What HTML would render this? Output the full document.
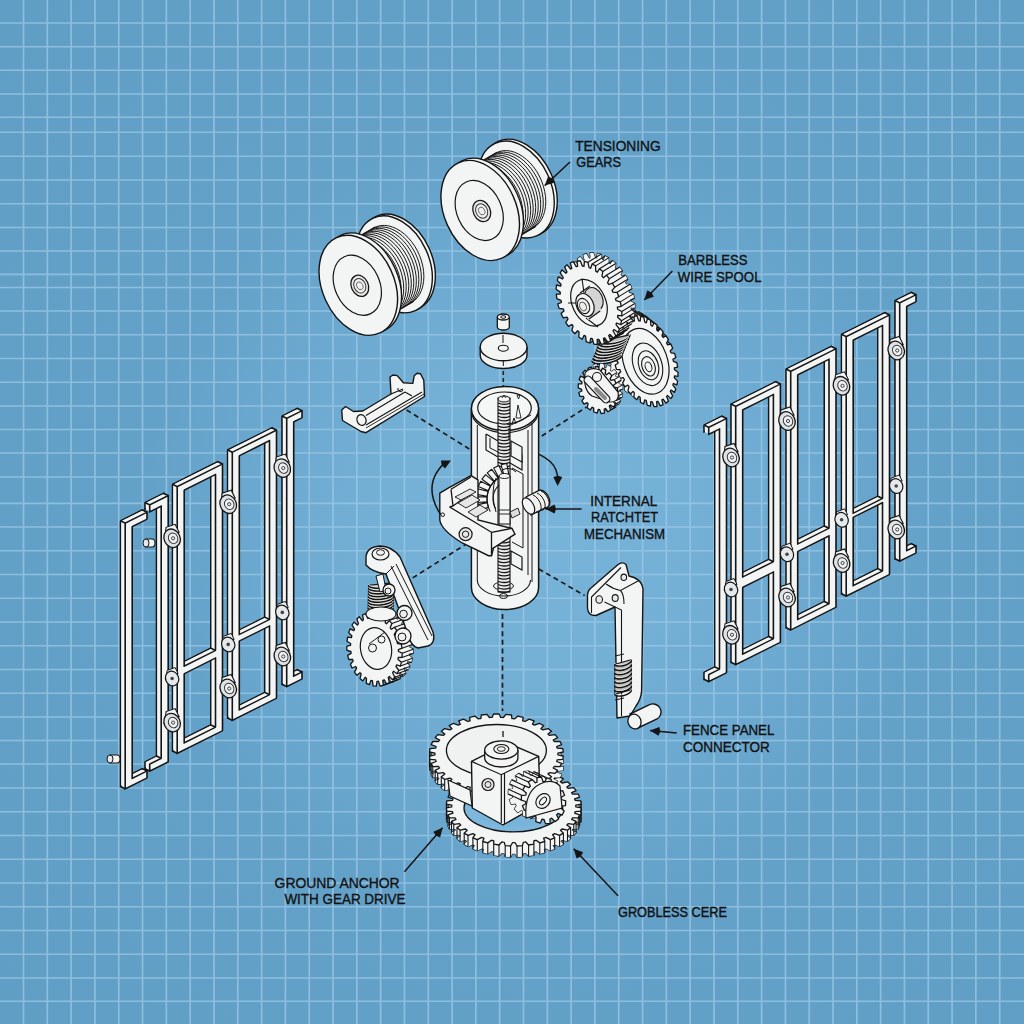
<!DOCTYPE html>
<html><head><meta charset="utf-8"><style>
html,body{margin:0;padding:0;width:1024px;height:1024px;overflow:hidden;}
body{background:#64a2cb;font-family:"Liberation Sans",sans-serif;}
svg{position:absolute;left:0;top:0;}
</style></head><body>
<svg width="1024" height="1024" viewBox="0 0 1024 1024">
<defs>
<radialGradient id="bg" cx="540" cy="520" r="720" gradientUnits="userSpaceOnUse">
<stop offset="0" stop-color="#78b4da"/>
<stop offset="0.21" stop-color="#74b0d6"/>
<stop offset="0.55" stop-color="#64a1c9"/>
<stop offset="1" stop-color="#609ec6"/>
</radialGradient>
</defs>
<rect width="1024" height="1024" fill="url(#bg)"/>
<path d="M23.52 0V1024M47.33 0V1024M71.14 0V1024M94.95 0V1024M118.76 0V1024M142.56 0V1024M166.37 0V1024M190.18 0V1024M213.99 0V1024M237.80 0V1024M261.61 0V1024M285.42 0V1024M309.23 0V1024M333.04 0V1024M356.85 0V1024M380.65 0V1024M404.46 0V1024M428.27 0V1024M452.08 0V1024M475.89 0V1024M499.70 0V1024M523.51 0V1024M547.32 0V1024M571.13 0V1024M594.94 0V1024M618.75 0V1024M642.55 0V1024M666.36 0V1024M690.17 0V1024M713.98 0V1024M737.79 0V1024M761.60 0V1024M785.41 0V1024M809.22 0V1024M833.03 0V1024M856.84 0V1024M880.64 0V1024M904.45 0V1024M928.26 0V1024M952.07 0V1024M975.88 0V1024M999.69 0V1024M0 23.00H1024M0 46.75H1024M0 70.25H1024M0 94.00H1024M0 117.25H1024M0 132.25H1024M0 156.25H1024M0 180.00H1024M0 203.75H1024M0 227.50H1024M0 251.00H1024M0 274.30H1024M0 287.50H1024M0 311.00H1024M0 334.75H1024M0 358.50H1024M0 382.25H1024M0 406.00H1024M0 429.50H1024M0 453.00H1024M0 477.00H1024M0 503.40H1024M0 527.00H1024M0 550.75H1024M0 574.50H1024M0 598.25H1024M0 622.00H1024M0 645.75H1024M0 669.50H1024M0 693.25H1024M0 717.00H1024M0 740.50H1024M0 764.00H1024M0 788.00H1024M0 811.75H1024M0 835.50H1024M0 859.25H1024M0 883.00H1024M0 906.75H1024M0 930.50H1024M0 954.25H1024M0 978.00H1024M0 1001.25H1024" stroke="#9cc8e6" stroke-opacity="0.75" stroke-width="1.7" fill="none"/>
<g transform="matrix(1 -0.5 0 1 0 0)">
<path d="M125.2 585.7H147.0V592.7H132.2V844.5H147.0V851.5H125.2Z" transform="translate(-4.7 -4.7)" fill="#f3f4f4" fill-rule="evenodd" stroke="#151515" stroke-width="1.6" stroke-linejoin="round"/>
<path d="M125.2 585.7H147.0V592.7H132.2V844.5H147.0V851.5H125.2Z" transform="translate(-0.94 -0.94)" fill="#f3f4f4" fill-rule="evenodd" stroke="none"/>
<path d="M125.2 585.7H147.0V592.7H132.2V844.5H147.0V851.5H125.2Z" transform="translate(-1.88 -1.88)" fill="#f3f4f4" fill-rule="evenodd" stroke="none"/>
<path d="M125.2 585.7H147.0V592.7H132.2V844.5H147.0V851.5H125.2Z" transform="translate(-2.82 -2.82)" fill="#f3f4f4" fill-rule="evenodd" stroke="none"/>
<path d="M125.2 585.7H147.0V592.7H132.2V844.5H147.0V851.5H125.2Z" transform="translate(-3.76 -3.76)" fill="#f3f4f4" fill-rule="evenodd" stroke="none"/>
<path d="M125.2 585.7l-4.7 -4.7M147.0 585.7l-4.7 -4.7M125.2 851.5l-4.7 -4.7M147.0 844.5l-4.7 -4.7" fill="none" stroke="#151515" stroke-width="1.28"/>
<path d="M125.2 585.7H147.0V592.7H132.2V844.5H147.0V851.5H125.2Z" fill="#f3f4f4" fill-rule="evenodd" stroke="#151515" stroke-width="1.6" stroke-linejoin="round"/>
<path d="M149.7 579.7H168.2V846.0H149.7V839.0H161.2V586.7H149.7Z" transform="translate(-4.7 -4.7)" fill="#f3f4f4" fill-rule="evenodd" stroke="#151515" stroke-width="1.6" stroke-linejoin="round"/>
<path d="M149.7 579.7H168.2V846.0H149.7V839.0H161.2V586.7H149.7Z" transform="translate(-0.94 -0.94)" fill="#f3f4f4" fill-rule="evenodd" stroke="none"/>
<path d="M149.7 579.7H168.2V846.0H149.7V839.0H161.2V586.7H149.7Z" transform="translate(-1.88 -1.88)" fill="#f3f4f4" fill-rule="evenodd" stroke="none"/>
<path d="M149.7 579.7H168.2V846.0H149.7V839.0H161.2V586.7H149.7Z" transform="translate(-2.82 -2.82)" fill="#f3f4f4" fill-rule="evenodd" stroke="none"/>
<path d="M149.7 579.7H168.2V846.0H149.7V839.0H161.2V586.7H149.7Z" transform="translate(-3.76 -3.76)" fill="#f3f4f4" fill-rule="evenodd" stroke="none"/>
<path d="M149.7 579.7l-4.7 -4.7M168.2 579.7l-4.7 -4.7M149.7 846.0l-4.7 -4.7M161.2 839.0l-4.7 -4.7" fill="none" stroke="#151515" stroke-width="1.28"/>
<path d="M149.7 579.7H168.2V846.0H149.7V839.0H161.2V586.7H149.7Z" fill="#f3f4f4" fill-rule="evenodd" stroke="#151515" stroke-width="1.6" stroke-linejoin="round"/>
<path d="M177.2 575.2H222.5V842.0H177.2ZM184.2 582.2H215.5V758.2H184.2ZM184.2 765.8H215.5V835.0H184.2Z" transform="translate(-4.7 -4.7)" fill="#f3f4f4" fill-rule="evenodd" stroke="#151515" stroke-width="1.6" stroke-linejoin="round"/>
<path d="M177.2 575.2H222.5V842.0H177.2ZM184.2 582.2H215.5V758.2H184.2ZM184.2 765.8H215.5V835.0H184.2Z" transform="translate(-0.94 -0.94)" fill="#f3f4f4" fill-rule="evenodd" stroke="none"/>
<path d="M177.2 575.2H222.5V842.0H177.2ZM184.2 582.2H215.5V758.2H184.2ZM184.2 765.8H215.5V835.0H184.2Z" transform="translate(-1.88 -1.88)" fill="#f3f4f4" fill-rule="evenodd" stroke="none"/>
<path d="M177.2 575.2H222.5V842.0H177.2ZM184.2 582.2H215.5V758.2H184.2ZM184.2 765.8H215.5V835.0H184.2Z" transform="translate(-2.82 -2.82)" fill="#f3f4f4" fill-rule="evenodd" stroke="none"/>
<path d="M177.2 575.2H222.5V842.0H177.2ZM184.2 582.2H215.5V758.2H184.2ZM184.2 765.8H215.5V835.0H184.2Z" transform="translate(-3.76 -3.76)" fill="#f3f4f4" fill-rule="evenodd" stroke="none"/>
<path d="M177.2 575.2l-4.7 -4.7M222.5 575.2l-4.7 -4.7M177.2 842.0l-4.7 -4.7M215.5 758.2l-4.7 -4.7M215.5 835.0l-4.7 -4.7M215.5 582.2l-4.7 -4.7M215.5 765.8l-4.7 -4.7" fill="none" stroke="#151515" stroke-width="1.28"/>
<path d="M177.2 575.2H222.5V842.0H177.2ZM184.2 582.2H215.5V758.2H184.2ZM184.2 765.8H215.5V835.0H184.2Z" fill="#f3f4f4" fill-rule="evenodd" stroke="#151515" stroke-width="1.6" stroke-linejoin="round"/>
<path d="M232.3 568.4H276.5V836.5H232.3ZM239.3 575.4H269.5V754.2H239.3ZM239.3 760.7H269.5V829.5H239.3Z" transform="translate(-4.7 -4.7)" fill="#f3f4f4" fill-rule="evenodd" stroke="#151515" stroke-width="1.6" stroke-linejoin="round"/>
<path d="M232.3 568.4H276.5V836.5H232.3ZM239.3 575.4H269.5V754.2H239.3ZM239.3 760.7H269.5V829.5H239.3Z" transform="translate(-0.94 -0.94)" fill="#f3f4f4" fill-rule="evenodd" stroke="none"/>
<path d="M232.3 568.4H276.5V836.5H232.3ZM239.3 575.4H269.5V754.2H239.3ZM239.3 760.7H269.5V829.5H239.3Z" transform="translate(-1.88 -1.88)" fill="#f3f4f4" fill-rule="evenodd" stroke="none"/>
<path d="M232.3 568.4H276.5V836.5H232.3ZM239.3 575.4H269.5V754.2H239.3ZM239.3 760.7H269.5V829.5H239.3Z" transform="translate(-2.82 -2.82)" fill="#f3f4f4" fill-rule="evenodd" stroke="none"/>
<path d="M232.3 568.4H276.5V836.5H232.3ZM239.3 575.4H269.5V754.2H239.3ZM239.3 760.7H269.5V829.5H239.3Z" transform="translate(-3.76 -3.76)" fill="#f3f4f4" fill-rule="evenodd" stroke="none"/>
<path d="M232.3 568.4l-4.7 -4.7M276.5 568.4l-4.7 -4.7M232.3 836.5l-4.7 -4.7M269.5 754.2l-4.7 -4.7M269.5 829.5l-4.7 -4.7M269.5 575.4l-4.7 -4.7M269.5 760.7l-4.7 -4.7" fill="none" stroke="#151515" stroke-width="1.28"/>
<path d="M232.3 568.4H276.5V836.5H232.3ZM239.3 575.4H269.5V754.2H239.3ZM239.3 760.7H269.5V829.5H239.3Z" fill="#f3f4f4" fill-rule="evenodd" stroke="#151515" stroke-width="1.6" stroke-linejoin="round"/>
<path d="M286.7 561.7H302.0V568.7H293.7V823.0H302.0V830.0H286.7Z" transform="translate(-4.7 -4.7)" fill="#f3f4f4" fill-rule="evenodd" stroke="#151515" stroke-width="1.6" stroke-linejoin="round"/>
<path d="M286.7 561.7H302.0V568.7H293.7V823.0H302.0V830.0H286.7Z" transform="translate(-0.94 -0.94)" fill="#f3f4f4" fill-rule="evenodd" stroke="none"/>
<path d="M286.7 561.7H302.0V568.7H293.7V823.0H302.0V830.0H286.7Z" transform="translate(-1.88 -1.88)" fill="#f3f4f4" fill-rule="evenodd" stroke="none"/>
<path d="M286.7 561.7H302.0V568.7H293.7V823.0H302.0V830.0H286.7Z" transform="translate(-2.82 -2.82)" fill="#f3f4f4" fill-rule="evenodd" stroke="none"/>
<path d="M286.7 561.7H302.0V568.7H293.7V823.0H302.0V830.0H286.7Z" transform="translate(-3.76 -3.76)" fill="#f3f4f4" fill-rule="evenodd" stroke="none"/>
<path d="M286.7 561.7l-4.7 -4.7M302.0 561.7l-4.7 -4.7M286.7 830.0l-4.7 -4.7M302.0 823.0l-4.7 -4.7" fill="none" stroke="#151515" stroke-width="1.28"/>
<path d="M286.7 561.7H302.0V568.7H293.7V823.0H302.0V830.0H286.7Z" fill="#f3f4f4" fill-rule="evenodd" stroke="#151515" stroke-width="1.6" stroke-linejoin="round"/>
</g>
<path d="M165.1 535.3 L166.1 527.3 L175.1 524.3 L179.1 532.3Z" fill="#f3f4f4" stroke="#151515" stroke-width="1.1"/>
<ellipse cx="172.1" cy="538.3" rx="8" ry="9.5" transform="rotate(-25 172.1 538.3)" fill="#dfe3e6" stroke="#151515" stroke-width="1.3"/>
<ellipse cx="173.1" cy="538.3" rx="4.6" ry="5.4" transform="rotate(-25 173.1 538.3)" fill="#eef0f2" stroke="#2a2a2a" stroke-width="0.9"/>
<circle cx="173.1" cy="538.3" r="1.6" fill="none" stroke="#333" stroke-width="0.9"/>
<path d="M221.2 501.2 L222.2 493.2 L231.2 490.2 L235.2 498.2Z" fill="#f3f4f4" stroke="#151515" stroke-width="1.1"/>
<ellipse cx="228.2" cy="504.2" rx="8" ry="9.5" transform="rotate(-25 228.2 504.2)" fill="#dfe3e6" stroke="#151515" stroke-width="1.3"/>
<ellipse cx="229.2" cy="504.2" rx="4.6" ry="5.4" transform="rotate(-25 229.2 504.2)" fill="#eef0f2" stroke="#2a2a2a" stroke-width="0.9"/>
<circle cx="229.2" cy="504.2" r="1.6" fill="none" stroke="#333" stroke-width="0.9"/>
<path d="M275.3 465.1 L276.3 457.1 L285.3 454.1 L289.3 462.1Z" fill="#f3f4f4" stroke="#151515" stroke-width="1.1"/>
<ellipse cx="282.3" cy="468.1" rx="8" ry="9.5" transform="rotate(-25 282.3 468.1)" fill="#dfe3e6" stroke="#151515" stroke-width="1.3"/>
<ellipse cx="283.3" cy="468.1" rx="4.6" ry="5.4" transform="rotate(-25 283.3 468.1)" fill="#eef0f2" stroke="#2a2a2a" stroke-width="0.9"/>
<circle cx="283.3" cy="468.1" r="1.6" fill="none" stroke="#333" stroke-width="0.9"/>
<path d="M166.1 676.5 L167.1 670.5 L175.1 667.5 L178.1 673.5Z" fill="#f3f4f4" stroke="#151515" stroke-width="1"/>
<ellipse cx="172.1" cy="678.5" rx="6.5" ry="7.5" transform="rotate(-25 172.1 678.5)" fill="#e6e9ec" stroke="#151515" stroke-width="1.2"/>
<circle cx="172.1" cy="678.5" r="1.8" fill="#444"/>
<path d="M222.2 642.4 L223.2 636.4 L231.2 633.4 L234.2 639.4Z" fill="#f3f4f4" stroke="#151515" stroke-width="1"/>
<ellipse cx="228.2" cy="644.4" rx="6.5" ry="7.5" transform="rotate(-25 228.2 644.4)" fill="#e6e9ec" stroke="#151515" stroke-width="1.2"/>
<circle cx="228.2" cy="644.4" r="1.8" fill="#444"/>
<path d="M276.3 610.4 L277.3 604.4 L285.3 601.4 L288.3 607.4Z" fill="#f3f4f4" stroke="#151515" stroke-width="1"/>
<ellipse cx="282.3" cy="612.4" rx="6.5" ry="7.5" transform="rotate(-25 282.3 612.4)" fill="#e6e9ec" stroke="#151515" stroke-width="1.2"/>
<circle cx="282.3" cy="612.4" r="1.8" fill="#444"/>
<path d="M165.1 719.6 L166.1 711.6 L175.1 708.6 L179.1 716.6Z" fill="#f3f4f4" stroke="#151515" stroke-width="1.1"/>
<ellipse cx="172.1" cy="722.6" rx="8" ry="9.5" transform="rotate(-25 172.1 722.6)" fill="#dfe3e6" stroke="#151515" stroke-width="1.3"/>
<ellipse cx="173.1" cy="722.6" rx="4.6" ry="5.4" transform="rotate(-25 173.1 722.6)" fill="#eef0f2" stroke="#2a2a2a" stroke-width="0.9"/>
<circle cx="173.1" cy="722.6" r="1.6" fill="none" stroke="#333" stroke-width="0.9"/>
<path d="M221.2 685.5 L222.2 677.5 L231.2 674.5 L235.2 682.5Z" fill="#f3f4f4" stroke="#151515" stroke-width="1.1"/>
<ellipse cx="228.2" cy="688.5" rx="8" ry="9.5" transform="rotate(-25 228.2 688.5)" fill="#dfe3e6" stroke="#151515" stroke-width="1.3"/>
<ellipse cx="229.2" cy="688.5" rx="4.6" ry="5.4" transform="rotate(-25 229.2 688.5)" fill="#eef0f2" stroke="#2a2a2a" stroke-width="0.9"/>
<circle cx="229.2" cy="688.5" r="1.6" fill="none" stroke="#333" stroke-width="0.9"/>
<path d="M275.3 653.5 L276.3 645.5 L285.3 642.5 L289.3 650.5Z" fill="#f3f4f4" stroke="#151515" stroke-width="1.1"/>
<ellipse cx="282.3" cy="656.5" rx="8" ry="9.5" transform="rotate(-25 282.3 656.5)" fill="#dfe3e6" stroke="#151515" stroke-width="1.3"/>
<ellipse cx="283.3" cy="656.5" rx="4.6" ry="5.4" transform="rotate(-25 283.3 656.5)" fill="#eef0f2" stroke="#2a2a2a" stroke-width="0.9"/>
<circle cx="283.3" cy="656.5" r="1.6" fill="none" stroke="#333" stroke-width="0.9"/>
<path d="M146 539 h6 a3 4 0 0 1 0 8 h-6 z" fill="#f3f4f4" stroke="#151515" stroke-width="1.1"/><ellipse cx="146" cy="543" rx="3" ry="4" fill="#e8e8e8" stroke="#151515" stroke-width="1"/>
<path d="M110 755 h7 a3 4 0 0 1 0 8 h-7 z" fill="#f3f4f4" stroke="#151515" stroke-width="1.1"/><ellipse cx="110" cy="759" rx="3" ry="4" fill="#e8e8e8" stroke="#151515" stroke-width="1"/>
<g transform="matrix(1 -0.5 0 1 0 0)">
<path d="M708.7 781.7H726.5V1036.0H708.7V1029.0H719.5V788.7H708.7Z" transform="translate(-4.7 -4.7)" fill="#f3f4f4" fill-rule="evenodd" stroke="#151515" stroke-width="1.6" stroke-linejoin="round"/>
<path d="M708.7 781.7H726.5V1036.0H708.7V1029.0H719.5V788.7H708.7Z" transform="translate(-0.94 -0.94)" fill="#f3f4f4" fill-rule="evenodd" stroke="none"/>
<path d="M708.7 781.7H726.5V1036.0H708.7V1029.0H719.5V788.7H708.7Z" transform="translate(-1.88 -1.88)" fill="#f3f4f4" fill-rule="evenodd" stroke="none"/>
<path d="M708.7 781.7H726.5V1036.0H708.7V1029.0H719.5V788.7H708.7Z" transform="translate(-2.82 -2.82)" fill="#f3f4f4" fill-rule="evenodd" stroke="none"/>
<path d="M708.7 781.7H726.5V1036.0H708.7V1029.0H719.5V788.7H708.7Z" transform="translate(-3.76 -3.76)" fill="#f3f4f4" fill-rule="evenodd" stroke="none"/>
<path d="M708.7 781.7l-4.7 -4.7M726.5 781.7l-4.7 -4.7M708.7 1036.0l-4.7 -4.7M719.5 1029.0l-4.7 -4.7" fill="none" stroke="#151515" stroke-width="1.28"/>
<path d="M708.7 781.7H726.5V1036.0H708.7V1029.0H719.5V788.7H708.7Z" fill="#f3f4f4" fill-rule="evenodd" stroke="#151515" stroke-width="1.6" stroke-linejoin="round"/>
<path d="M735.7 774.2H780.4V1032.5H735.7ZM742.7 781.2H773.4V948.4H742.7ZM742.7 958.7H773.4V1025.5H742.7Z" transform="translate(-4.7 -4.7)" fill="#f3f4f4" fill-rule="evenodd" stroke="#151515" stroke-width="1.6" stroke-linejoin="round"/>
<path d="M735.7 774.2H780.4V1032.5H735.7ZM742.7 781.2H773.4V948.4H742.7ZM742.7 958.7H773.4V1025.5H742.7Z" transform="translate(-0.94 -0.94)" fill="#f3f4f4" fill-rule="evenodd" stroke="none"/>
<path d="M735.7 774.2H780.4V1032.5H735.7ZM742.7 781.2H773.4V948.4H742.7ZM742.7 958.7H773.4V1025.5H742.7Z" transform="translate(-1.88 -1.88)" fill="#f3f4f4" fill-rule="evenodd" stroke="none"/>
<path d="M735.7 774.2H780.4V1032.5H735.7ZM742.7 781.2H773.4V948.4H742.7ZM742.7 958.7H773.4V1025.5H742.7Z" transform="translate(-2.82 -2.82)" fill="#f3f4f4" fill-rule="evenodd" stroke="none"/>
<path d="M735.7 774.2H780.4V1032.5H735.7ZM742.7 781.2H773.4V948.4H742.7ZM742.7 958.7H773.4V1025.5H742.7Z" transform="translate(-3.76 -3.76)" fill="#f3f4f4" fill-rule="evenodd" stroke="none"/>
<path d="M735.7 774.2l-4.7 -4.7M780.4 774.2l-4.7 -4.7M735.7 1032.5l-4.7 -4.7M773.4 948.4l-4.7 -4.7M773.4 1025.5l-4.7 -4.7M773.4 781.2l-4.7 -4.7M773.4 958.7l-4.7 -4.7" fill="none" stroke="#151515" stroke-width="1.28"/>
<path d="M735.7 774.2H780.4V1032.5H735.7ZM742.7 781.2H773.4V948.4H742.7ZM742.7 958.7H773.4V1025.5H742.7Z" fill="#f3f4f4" fill-rule="evenodd" stroke="#151515" stroke-width="1.6" stroke-linejoin="round"/>
<path d="M790.7 766.7H836.0V1025.3H790.7ZM797.7 773.7H829.0V942.8H797.7ZM797.7 950.4H829.0V1018.3H797.7Z" transform="translate(-4.7 -4.7)" fill="#f3f4f4" fill-rule="evenodd" stroke="#151515" stroke-width="1.6" stroke-linejoin="round"/>
<path d="M790.7 766.7H836.0V1025.3H790.7ZM797.7 773.7H829.0V942.8H797.7ZM797.7 950.4H829.0V1018.3H797.7Z" transform="translate(-0.94 -0.94)" fill="#f3f4f4" fill-rule="evenodd" stroke="none"/>
<path d="M790.7 766.7H836.0V1025.3H790.7ZM797.7 773.7H829.0V942.8H797.7ZM797.7 950.4H829.0V1018.3H797.7Z" transform="translate(-1.88 -1.88)" fill="#f3f4f4" fill-rule="evenodd" stroke="none"/>
<path d="M790.7 766.7H836.0V1025.3H790.7ZM797.7 773.7H829.0V942.8H797.7ZM797.7 950.4H829.0V1018.3H797.7Z" transform="translate(-2.82 -2.82)" fill="#f3f4f4" fill-rule="evenodd" stroke="none"/>
<path d="M790.7 766.7H836.0V1025.3H790.7ZM797.7 773.7H829.0V942.8H797.7ZM797.7 950.4H829.0V1018.3H797.7Z" transform="translate(-3.76 -3.76)" fill="#f3f4f4" fill-rule="evenodd" stroke="none"/>
<path d="M790.7 766.7l-4.7 -4.7M836.0 766.7l-4.7 -4.7M790.7 1025.3l-4.7 -4.7M829.0 942.8l-4.7 -4.7M829.0 1018.3l-4.7 -4.7M829.0 773.7l-4.7 -4.7M829.0 950.4l-4.7 -4.7" fill="none" stroke="#151515" stroke-width="1.28"/>
<path d="M790.7 766.7H836.0V1025.3H790.7ZM797.7 773.7H829.0V942.8H797.7ZM797.7 950.4H829.0V1018.3H797.7Z" fill="#f3f4f4" fill-rule="evenodd" stroke="#151515" stroke-width="1.6" stroke-linejoin="round"/>
<path d="M846.2 759.7H889.5V1019.2H846.2ZM853.2 766.7H882.5V939.8H853.2ZM853.2 943.9H882.5V1012.2H853.2Z" transform="translate(-4.7 -4.7)" fill="#f3f4f4" fill-rule="evenodd" stroke="#151515" stroke-width="1.6" stroke-linejoin="round"/>
<path d="M846.2 759.7H889.5V1019.2H846.2ZM853.2 766.7H882.5V939.8H853.2ZM853.2 943.9H882.5V1012.2H853.2Z" transform="translate(-0.94 -0.94)" fill="#f3f4f4" fill-rule="evenodd" stroke="none"/>
<path d="M846.2 759.7H889.5V1019.2H846.2ZM853.2 766.7H882.5V939.8H853.2ZM853.2 943.9H882.5V1012.2H853.2Z" transform="translate(-1.88 -1.88)" fill="#f3f4f4" fill-rule="evenodd" stroke="none"/>
<path d="M846.2 759.7H889.5V1019.2H846.2ZM853.2 766.7H882.5V939.8H853.2ZM853.2 943.9H882.5V1012.2H853.2Z" transform="translate(-2.82 -2.82)" fill="#f3f4f4" fill-rule="evenodd" stroke="none"/>
<path d="M846.2 759.7H889.5V1019.2H846.2ZM853.2 766.7H882.5V939.8H853.2ZM853.2 943.9H882.5V1012.2H853.2Z" transform="translate(-3.76 -3.76)" fill="#f3f4f4" fill-rule="evenodd" stroke="none"/>
<path d="M846.2 759.7l-4.7 -4.7M889.5 759.7l-4.7 -4.7M846.2 1019.2l-4.7 -4.7M882.5 939.8l-4.7 -4.7M882.5 1012.2l-4.7 -4.7M882.5 766.7l-4.7 -4.7M882.5 943.9l-4.7 -4.7" fill="none" stroke="#151515" stroke-width="1.28"/>
<path d="M846.2 759.7H889.5V1019.2H846.2ZM853.2 766.7H882.5V939.8H853.2ZM853.2 943.9H882.5V1012.2H853.2Z" fill="#f3f4f4" fill-rule="evenodd" stroke="#151515" stroke-width="1.6" stroke-linejoin="round"/>
<path d="M899.7 752.7H916.0V759.7H906.7V1004.0H916.0V1011.0H899.7Z" transform="translate(-4.7 -4.7)" fill="#f3f4f4" fill-rule="evenodd" stroke="#151515" stroke-width="1.6" stroke-linejoin="round"/>
<path d="M899.7 752.7H916.0V759.7H906.7V1004.0H916.0V1011.0H899.7Z" transform="translate(-0.94 -0.94)" fill="#f3f4f4" fill-rule="evenodd" stroke="none"/>
<path d="M899.7 752.7H916.0V759.7H906.7V1004.0H916.0V1011.0H899.7Z" transform="translate(-1.88 -1.88)" fill="#f3f4f4" fill-rule="evenodd" stroke="none"/>
<path d="M899.7 752.7H916.0V759.7H906.7V1004.0H916.0V1011.0H899.7Z" transform="translate(-2.82 -2.82)" fill="#f3f4f4" fill-rule="evenodd" stroke="none"/>
<path d="M899.7 752.7H916.0V759.7H906.7V1004.0H916.0V1011.0H899.7Z" transform="translate(-3.76 -3.76)" fill="#f3f4f4" fill-rule="evenodd" stroke="none"/>
<path d="M899.7 752.7l-4.7 -4.7M916.0 752.7l-4.7 -4.7M899.7 1011.0l-4.7 -4.7M916.0 1004.0l-4.7 -4.7" fill="none" stroke="#151515" stroke-width="1.28"/>
<path d="M899.7 752.7H916.0V759.7H906.7V1004.0H916.0V1011.0H899.7Z" fill="#f3f4f4" fill-rule="evenodd" stroke="#151515" stroke-width="1.6" stroke-linejoin="round"/>
</g>
<path d="M724.0 454.5 L725.0 446.5 L734.0 443.5 L738.0 451.5Z" fill="#f3f4f4" stroke="#151515" stroke-width="1.1"/>
<ellipse cx="731.0" cy="457.5" rx="8" ry="9.5" transform="rotate(-25 731.0 457.5)" fill="#dfe3e6" stroke="#151515" stroke-width="1.3"/>
<ellipse cx="732.0" cy="457.5" rx="4.6" ry="5.4" transform="rotate(-25 732.0 457.5)" fill="#eef0f2" stroke="#2a2a2a" stroke-width="0.9"/>
<circle cx="732.0" cy="457.5" r="1.6" fill="none" stroke="#333" stroke-width="0.9"/>
<path d="M780.0 418.0 L781.0 410.0 L790.0 407.0 L794.0 415.0Z" fill="#f3f4f4" stroke="#151515" stroke-width="1.1"/>
<ellipse cx="787.0" cy="421.0" rx="8" ry="9.5" transform="rotate(-25 787.0 421.0)" fill="#dfe3e6" stroke="#151515" stroke-width="1.3"/>
<ellipse cx="788.0" cy="421.0" rx="4.6" ry="5.4" transform="rotate(-25 788.0 421.0)" fill="#eef0f2" stroke="#2a2a2a" stroke-width="0.9"/>
<circle cx="788.0" cy="421.0" r="1.6" fill="none" stroke="#333" stroke-width="0.9"/>
<path d="M834.5 382.8 L835.5 374.8 L844.5 371.8 L848.5 379.8Z" fill="#f3f4f4" stroke="#151515" stroke-width="1.1"/>
<ellipse cx="841.5" cy="385.8" rx="8" ry="9.5" transform="rotate(-25 841.5 385.8)" fill="#dfe3e6" stroke="#151515" stroke-width="1.3"/>
<ellipse cx="842.5" cy="385.8" rx="4.6" ry="5.4" transform="rotate(-25 842.5 385.8)" fill="#eef0f2" stroke="#2a2a2a" stroke-width="0.9"/>
<circle cx="842.5" cy="385.8" r="1.6" fill="none" stroke="#333" stroke-width="0.9"/>
<path d="M889.2 347.5 L890.2 339.5 L899.2 336.5 L903.2 344.5Z" fill="#f3f4f4" stroke="#151515" stroke-width="1.1"/>
<ellipse cx="896.2" cy="350.5" rx="8" ry="9.5" transform="rotate(-25 896.2 350.5)" fill="#dfe3e6" stroke="#151515" stroke-width="1.3"/>
<ellipse cx="897.2" cy="350.5" rx="4.6" ry="5.4" transform="rotate(-25 897.2 350.5)" fill="#eef0f2" stroke="#2a2a2a" stroke-width="0.9"/>
<circle cx="897.2" cy="350.5" r="1.6" fill="none" stroke="#333" stroke-width="0.9"/>
<path d="M725.0 587.5 L726.0 581.5 L734.0 578.5 L737.0 584.5Z" fill="#f3f4f4" stroke="#151515" stroke-width="1"/>
<ellipse cx="731.0" cy="589.5" rx="6.5" ry="7.5" transform="rotate(-25 731.0 589.5)" fill="#e6e9ec" stroke="#151515" stroke-width="1.2"/>
<circle cx="731.0" cy="589.5" r="1.8" fill="#444"/>
<path d="M781.0 552.2 L782.0 546.2 L790.0 543.2 L793.0 549.2Z" fill="#f3f4f4" stroke="#151515" stroke-width="1"/>
<ellipse cx="787.0" cy="554.2" rx="6.5" ry="7.5" transform="rotate(-25 787.0 554.2)" fill="#e6e9ec" stroke="#151515" stroke-width="1.2"/>
<circle cx="787.0" cy="554.2" r="1.8" fill="#444"/>
<path d="M835.6 517.8 L836.6 511.8 L844.6 508.8 L847.6 514.8Z" fill="#f3f4f4" stroke="#151515" stroke-width="1"/>
<ellipse cx="841.6" cy="519.8" rx="6.5" ry="7.5" transform="rotate(-25 841.6 519.8)" fill="#e6e9ec" stroke="#151515" stroke-width="1.2"/>
<circle cx="841.6" cy="519.8" r="1.8" fill="#444"/>
<path d="M890.2 484.0 L891.2 478.0 L899.2 475.0 L902.2 481.0Z" fill="#f3f4f4" stroke="#151515" stroke-width="1"/>
<ellipse cx="896.2" cy="486.0" rx="6.5" ry="7.5" transform="rotate(-25 896.2 486.0)" fill="#e6e9ec" stroke="#151515" stroke-width="1.2"/>
<circle cx="896.2" cy="486.0" r="1.8" fill="#444"/>
<path d="M724.0 631.8 L725.0 623.8 L734.0 620.8 L738.0 628.8Z" fill="#f3f4f4" stroke="#151515" stroke-width="1.1"/>
<ellipse cx="731.0" cy="634.8" rx="8" ry="9.5" transform="rotate(-25 731.0 634.8)" fill="#dfe3e6" stroke="#151515" stroke-width="1.3"/>
<ellipse cx="732.0" cy="634.8" rx="4.6" ry="5.4" transform="rotate(-25 732.0 634.8)" fill="#eef0f2" stroke="#2a2a2a" stroke-width="0.9"/>
<circle cx="732.0" cy="634.8" r="1.6" fill="none" stroke="#333" stroke-width="0.9"/>
<path d="M780.0 594.5 L781.0 586.5 L790.0 583.5 L794.0 591.5Z" fill="#f3f4f4" stroke="#151515" stroke-width="1.1"/>
<ellipse cx="787.0" cy="597.5" rx="8" ry="9.5" transform="rotate(-25 787.0 597.5)" fill="#dfe3e6" stroke="#151515" stroke-width="1.3"/>
<ellipse cx="788.0" cy="597.5" rx="4.6" ry="5.4" transform="rotate(-25 788.0 597.5)" fill="#eef0f2" stroke="#2a2a2a" stroke-width="0.9"/>
<circle cx="788.0" cy="597.5" r="1.6" fill="none" stroke="#333" stroke-width="0.9"/>
<path d="M834.6 560.0 L835.6 552.0 L844.6 549.0 L848.6 557.0Z" fill="#f3f4f4" stroke="#151515" stroke-width="1.1"/>
<ellipse cx="841.6" cy="563.0" rx="8" ry="9.5" transform="rotate(-25 841.6 563.0)" fill="#dfe3e6" stroke="#151515" stroke-width="1.3"/>
<ellipse cx="842.6" cy="563.0" rx="4.6" ry="5.4" transform="rotate(-25 842.6 563.0)" fill="#eef0f2" stroke="#2a2a2a" stroke-width="0.9"/>
<circle cx="842.6" cy="563.0" r="1.6" fill="none" stroke="#333" stroke-width="0.9"/>
<path d="M889.2 526.5 L890.2 518.5 L899.2 515.5 L903.2 523.5Z" fill="#f3f4f4" stroke="#151515" stroke-width="1.1"/>
<ellipse cx="896.2" cy="529.5" rx="8" ry="9.5" transform="rotate(-25 896.2 529.5)" fill="#dfe3e6" stroke="#151515" stroke-width="1.3"/>
<ellipse cx="897.2" cy="529.5" rx="4.6" ry="5.4" transform="rotate(-25 897.2 529.5)" fill="#eef0f2" stroke="#2a2a2a" stroke-width="0.9"/>
<circle cx="897.2" cy="529.5" r="1.6" fill="none" stroke="#333" stroke-width="0.9"/>
<path d="M406.6 410 L470.6 449.8M541.8 436 L586.6 407M412.7 577.9 L465.4 544.6M538.7 569 L584.6 595.4M502.5 614 L502.5 711" stroke="#1a1a1a" stroke-width="1.7" stroke-dasharray="5 3.6" fill="none"/>
<ellipse cx="397.3" cy="262.5" rx="50.8" ry="34.8" transform="rotate(65.5 397.3 262.5)" stroke="#151515" stroke-width="1.4" fill="#f3f4f4"/>
<ellipse cx="394.3" cy="264.3" rx="50.8" ry="34.8" transform="rotate(65.5 394.3 264.3)" stroke="#151515" stroke-width="1.4" fill="#f3f4f4"/>
<path d="M377.4 322.5 L413.4 301.5 L375.2 227.1 L339.2 248.1Z" fill="#f0f1f1" stroke="none"/>
<ellipse cx="394.3" cy="264.3" rx="41.9" ry="28.7" transform="rotate(65.5 394.3 264.3)" fill="#f0f1f1" stroke="none"/>
<path d="M377.4 322.5 L413.4 301.5 M339.2 248.1 L375.2 227.1" stroke="#151515" stroke-width="1.3" fill="none"/>
<path d="M373.8 324.6 L376.9 322.4 L379.6 319.6 L381.9 316.2 L383.7 312.4 L385.0 308.1 L385.8 303.5 L386.1 298.6 L385.8 293.5 L385.0 288.2 L383.7 283.0 L381.9 277.9 L379.6 272.9 L376.9 268.2 L373.8 263.7 L370.4 259.7 L366.7 256.2 L362.8 253.2 L358.8 250.8 L354.7 249.0 L350.6 247.9 L346.5 247.4 L342.6 247.7 L339.0 248.6 L335.6 250.2M376.4 323.2 L379.4 321.0 L382.1 318.1 L384.4 314.8 L386.2 310.9 L387.5 306.6 L388.3 302.0 L388.6 297.1 L388.3 292.0 L387.5 286.8 L386.2 281.6 L384.4 276.4 L382.1 271.4 L379.4 266.7 L376.3 262.3 L372.9 258.3 L369.2 254.7 L365.3 251.8 L361.3 249.3 L357.2 247.6 L353.1 246.4 L349.1 246.0 L345.2 246.2 L341.5 247.1 L338.1 248.7M378.9 321.7 L382.0 319.5 L384.7 316.7 L386.9 313.3 L388.8 309.5 L390.1 305.2 L390.9 300.5 L391.1 295.6 L390.9 290.5 L390.0 285.3 L388.7 280.1 L386.9 274.9 L384.6 270.0 L381.9 265.2 L378.8 260.8 L375.4 256.8 L371.7 253.3 L367.8 250.3 L363.8 247.9 L359.7 246.1 L355.6 245.0 L351.6 244.5 L347.7 244.7 L344.0 245.7 L340.6 247.2M381.4 320.2 L384.5 318.0 L387.2 315.2 L389.5 311.8 L391.3 308.0 L392.6 303.7 L393.4 299.1 L393.6 294.1 L393.4 289.0 L392.6 283.8 L391.2 278.6 L389.4 273.5 L387.1 268.5 L384.4 263.7 L381.3 259.3 L377.9 255.3 L374.2 251.8 L370.3 248.8 L366.3 246.4 L362.2 244.6 L358.1 243.5 L354.1 243.0 L350.2 243.3 L346.5 244.2 L343.1 245.8M383.9 318.8 L387.0 316.5 L389.7 313.7 L392.0 310.4 L393.8 306.5 L395.1 302.2 L395.9 297.6 L396.2 292.7 L395.9 287.6 L395.1 282.4 L393.8 277.1 L391.9 272.0 L389.7 267.0 L386.9 262.3 L383.9 257.9 L380.4 253.9 L376.8 250.3 L372.9 247.3 L368.8 244.9 L364.7 243.1 L360.6 242.0 L356.6 241.6 L352.7 241.8 L349.0 242.7 L345.6 244.3M386.4 317.3 L389.5 315.1 L392.2 312.3 L394.5 308.9 L396.3 305.0 L397.6 300.8 L398.4 296.1 L398.7 291.2 L398.4 286.1 L397.6 280.9 L396.3 275.7 L394.5 270.5 L392.2 265.5 L389.5 260.8 L386.4 256.4 L383.0 252.4 L379.3 248.9 L375.4 245.9 L371.4 243.5 L367.3 241.7 L363.2 240.5 L359.1 240.1 L355.2 240.3 L351.6 241.2 L348.2 242.8M389.0 315.8 L392.0 313.6 L394.7 310.8 L397.0 307.4 L398.8 303.6 L400.1 299.3 L400.9 294.6 L401.2 289.7 L400.9 284.6 L400.1 279.4 L398.8 274.2 L397.0 269.1 L394.7 264.1 L392.0 259.3 L388.9 254.9 L385.5 250.9 L381.8 247.4 L377.9 244.4 L373.9 242.0 L369.8 240.2 L365.7 239.1 L361.7 238.6 L357.8 238.9 L354.1 239.8 L350.7 241.3M391.5 314.3 L394.6 312.1 L397.3 309.3 L399.5 306.0 L401.4 302.1 L402.7 297.8 L403.5 293.2 L403.7 288.3 L403.5 283.2 L402.6 278.0 L401.3 272.7 L399.5 267.6 L397.2 262.6 L394.5 257.9 L391.4 253.5 L388.0 249.5 L384.3 245.9 L380.4 242.9 L376.4 240.5 L372.3 238.7 L368.2 237.6 L364.2 237.2 L360.3 237.4 L356.6 238.3 L353.2 239.9M394.0 312.9 L397.1 310.7 L399.8 307.9 L402.1 304.5 L403.9 300.6 L405.2 296.3 L406.0 291.7 L406.2 286.8 L406.0 281.7 L405.2 276.5 L403.8 271.3 L402.0 266.1 L399.7 261.1 L397.0 256.4 L393.9 252.0 L390.5 248.0 L386.8 244.5 L382.9 241.5 L378.9 239.1 L374.8 237.3 L370.7 236.1 L366.7 235.7 L362.8 235.9 L359.1 236.8 L355.7 238.4M396.5 311.4 L399.6 309.2 L402.3 306.4 L404.6 303.0 L406.4 299.2 L407.7 294.9 L408.5 290.2 L408.8 285.3 L408.5 280.2 L407.7 275.0 L406.4 269.8 L404.5 264.6 L402.3 259.7 L399.5 254.9 L396.5 250.5 L393.0 246.5 L389.4 243.0 L385.5 240.0 L381.4 237.6 L377.3 235.8 L373.2 234.7 L369.2 234.2 L365.3 234.4 L361.6 235.4 L358.2 236.9M399.0 309.9 L402.1 307.7 L404.8 304.9 L407.1 301.5 L408.9 297.7 L410.2 293.4 L411.0 288.8 L411.3 283.9 L411.0 278.8 L410.2 273.5 L408.9 268.3 L407.1 263.2 L404.8 258.2 L402.1 253.5 L399.0 249.0 L395.6 245.0 L391.9 241.5 L388.0 238.5 L384.0 236.1 L379.9 234.3 L375.8 233.2 L371.7 232.7 L367.8 233.0 L364.2 233.9 L360.8 235.5M401.6 308.5 L404.6 306.3 L407.3 303.4 L409.6 300.1 L411.4 296.2 L412.7 291.9 L413.5 287.3 L413.8 282.4 L413.5 277.3 L412.7 272.1 L411.4 266.9 L409.6 261.7 L407.3 256.7 L404.6 252.0 L401.5 247.6 L398.1 243.6 L394.4 240.0 L390.5 237.1 L386.5 234.6 L382.4 232.9 L378.3 231.7 L374.3 231.3 L370.4 231.5 L366.7 232.4 L363.3 234.0M404.1 307.0 L407.2 304.8 L409.9 302.0 L412.1 298.6 L414.0 294.8 L415.3 290.5 L416.1 285.8 L416.3 280.9 L416.1 275.8 L415.2 270.6 L413.9 265.4 L412.1 260.2 L409.8 255.3 L407.1 250.5 L404.0 246.1 L400.6 242.1 L396.9 238.6 L393.0 235.6 L389.0 233.2 L384.9 231.4 L380.8 230.3 L376.8 229.8 L372.9 230.0 L369.2 231.0 L365.8 232.5M406.6 305.5 L409.7 303.3 L412.4 300.5 L414.7 297.1 L416.5 293.3 L417.8 289.0 L418.6 284.4 L418.8 279.4 L418.6 274.3 L417.8 269.1 L416.4 263.9 L414.6 258.8 L412.3 253.8 L409.6 249.0 L406.5 244.6 L403.1 240.6 L399.4 237.1 L395.5 234.1 L391.5 231.7 L387.4 229.9 L383.3 228.8 L379.3 228.3 L375.4 228.6 L371.7 229.5 L368.3 231.1M409.1 304.1 L412.2 301.8 L414.9 299.0 L417.2 295.7 L419.0 291.8 L420.3 287.5 L421.1 282.9 L421.4 278.0 L421.1 272.9 L420.3 267.7 L419.0 262.4 L417.1 257.3 L414.9 252.3 L412.1 247.6 L409.1 243.2 L405.6 239.2 L402.0 235.6 L398.1 232.6 L394.0 230.2 L389.9 228.4 L385.8 227.3 L381.8 226.9 L377.9 227.1 L374.2 228.0 L370.8 229.6M411.6 302.6 L414.7 300.4 L417.4 297.6 L419.7 294.2 L421.5 290.3 L422.8 286.1 L423.6 281.4 L423.9 276.5 L423.6 271.4 L422.8 266.2 L421.5 261.0 L419.7 255.8 L417.4 250.8 L414.7 246.1 L411.6 241.7 L408.2 237.7 L404.5 234.2 L400.6 231.2 L396.6 228.8 L392.5 227.0 L388.4 225.8 L384.3 225.4 L380.4 225.6 L376.8 226.5 L373.4 228.1" stroke="#1a1a1a" stroke-width="1.0" fill="none"/>
<ellipse cx="362.3" cy="283.0" rx="52.4" ry="35.9" transform="rotate(65.5 362.3 283.0)" stroke="#151515" stroke-width="1.4" fill="#f3f4f4"/>
<ellipse cx="358.3" cy="285.3" rx="52.4" ry="35.9" transform="rotate(65.5 358.3 285.3)" stroke="#151515" stroke-width="1.4" fill="#f3f4f4"/>
<ellipse cx="357.3" cy="285.3" rx="31.4" ry="22.3" transform="rotate(65.5 357.3 285.3)" fill="none" stroke="#151515" stroke-width="1.2"/>
<ellipse cx="359.8" cy="285.8" rx="11" ry="8.5" transform="rotate(65.5 359.8 285.8)" fill="#e8e8e6" stroke="#151515" stroke-width="1.3"/>
<ellipse cx="359.8" cy="285.8" rx="7.5" ry="5.8" transform="rotate(65.5 359.8 285.8)" fill="#f0f0ee" stroke="#333" stroke-width="1"/>
<ellipse cx="359.8" cy="285.8" rx="4" ry="3" transform="rotate(65.5 359.8 285.8)" fill="#f0f1f1" stroke="#555" stroke-width="0.8"/>
<ellipse cx="519.2" cy="187.7" rx="50.8" ry="34.8" transform="rotate(65.5 519.2 187.7)" stroke="#151515" stroke-width="1.4" fill="#f3f4f4"/>
<ellipse cx="516.2" cy="189.5" rx="50.8" ry="34.8" transform="rotate(65.5 516.2 189.5)" stroke="#151515" stroke-width="1.4" fill="#f3f4f4"/>
<path d="M499.3 247.7 L535.3 226.7 L497.1 152.3 L461.1 173.3Z" fill="#f0f1f1" stroke="none"/>
<ellipse cx="516.2" cy="189.5" rx="41.9" ry="28.7" transform="rotate(65.5 516.2 189.5)" fill="#f0f1f1" stroke="none"/>
<path d="M499.3 247.7 L535.3 226.7 M461.1 173.3 L497.1 152.3" stroke="#151515" stroke-width="1.3" fill="none"/>
<path d="M495.7 249.8 L498.8 247.6 L501.5 244.8 L503.8 241.4 L505.6 237.6 L506.9 233.3 L507.7 228.7 L508.0 223.8 L507.7 218.7 L506.9 213.4 L505.6 208.2 L503.8 203.1 L501.5 198.1 L498.8 193.4 L495.7 188.9 L492.3 184.9 L488.6 181.4 L484.7 178.4 L480.7 176.0 L476.6 174.2 L472.5 173.1 L468.4 172.6 L464.5 172.9 L460.9 173.8 L457.5 175.4M498.3 248.4 L501.3 246.2 L504.0 243.3 L506.3 240.0 L508.1 236.1 L509.4 231.8 L510.2 227.2 L510.5 222.3 L510.2 217.2 L509.4 212.0 L508.1 206.8 L506.3 201.6 L504.0 196.6 L501.3 191.9 L498.2 187.5 L494.8 183.5 L491.1 179.9 L487.2 177.0 L483.2 174.5 L479.1 172.8 L475.0 171.6 L471.0 171.2 L467.1 171.4 L463.4 172.3 L460.0 173.9M500.8 246.9 L503.9 244.7 L506.6 241.9 L508.8 238.5 L510.7 234.7 L512.0 230.4 L512.8 225.7 L513.0 220.8 L512.8 215.7 L511.9 210.5 L510.6 205.3 L508.8 200.1 L506.5 195.2 L503.8 190.4 L500.7 186.0 L497.3 182.0 L493.6 178.5 L489.7 175.5 L485.7 173.1 L481.6 171.3 L477.5 170.2 L473.5 169.7 L469.6 169.9 L465.9 170.9 L462.5 172.4M503.3 245.4 L506.4 243.2 L509.1 240.4 L511.4 237.0 L513.2 233.2 L514.5 228.9 L515.3 224.3 L515.5 219.3 L515.3 214.2 L514.5 209.0 L513.1 203.8 L511.3 198.7 L509.0 193.7 L506.3 188.9 L503.2 184.5 L499.8 180.5 L496.1 177.0 L492.2 174.0 L488.2 171.6 L484.1 169.8 L480.0 168.7 L476.0 168.2 L472.1 168.5 L468.4 169.4 L465.0 171.0M505.8 244.0 L508.9 241.7 L511.6 238.9 L513.9 235.6 L515.7 231.7 L517.0 227.4 L517.8 222.8 L518.1 217.9 L517.8 212.8 L517.0 207.6 L515.7 202.3 L513.8 197.2 L511.6 192.2 L508.8 187.5 L505.8 183.1 L502.3 179.1 L498.7 175.5 L494.8 172.5 L490.7 170.1 L486.6 168.3 L482.5 167.2 L478.5 166.8 L474.6 167.0 L470.9 167.9 L467.5 169.5M508.3 242.5 L511.4 240.3 L514.1 237.5 L516.4 234.1 L518.2 230.2 L519.5 226.0 L520.3 221.3 L520.6 216.4 L520.3 211.3 L519.5 206.1 L518.2 200.9 L516.4 195.7 L514.1 190.7 L511.4 186.0 L508.3 181.6 L504.9 177.6 L501.2 174.1 L497.3 171.1 L493.3 168.7 L489.2 166.9 L485.1 165.7 L481.0 165.3 L477.1 165.5 L473.5 166.4 L470.1 168.0M510.9 241.0 L513.9 238.8 L516.6 236.0 L518.9 232.6 L520.7 228.8 L522.0 224.5 L522.8 219.8 L523.1 214.9 L522.8 209.8 L522.0 204.6 L520.7 199.4 L518.9 194.3 L516.6 189.3 L513.9 184.5 L510.8 180.1 L507.4 176.1 L503.7 172.6 L499.8 169.6 L495.8 167.2 L491.7 165.4 L487.6 164.3 L483.6 163.8 L479.7 164.1 L476.0 165.0 L472.6 166.5M513.4 239.5 L516.5 237.3 L519.2 234.5 L521.4 231.2 L523.3 227.3 L524.6 223.0 L525.4 218.4 L525.6 213.5 L525.4 208.4 L524.5 203.2 L523.2 197.9 L521.4 192.8 L519.1 187.8 L516.4 183.1 L513.3 178.7 L509.9 174.7 L506.2 171.1 L502.3 168.1 L498.3 165.7 L494.2 163.9 L490.1 162.8 L486.1 162.4 L482.2 162.6 L478.5 163.5 L475.1 165.1M515.9 238.1 L519.0 235.9 L521.7 233.1 L524.0 229.7 L525.8 225.8 L527.1 221.5 L527.9 216.9 L528.1 212.0 L527.9 206.9 L527.1 201.7 L525.7 196.5 L523.9 191.3 L521.6 186.3 L518.9 181.6 L515.8 177.2 L512.4 173.2 L508.7 169.7 L504.8 166.7 L500.8 164.3 L496.7 162.5 L492.6 161.3 L488.6 160.9 L484.7 161.1 L481.0 162.0 L477.6 163.6M518.4 236.6 L521.5 234.4 L524.2 231.6 L526.5 228.2 L528.3 224.4 L529.6 220.1 L530.4 215.4 L530.7 210.5 L530.4 205.4 L529.6 200.2 L528.3 195.0 L526.4 189.8 L524.2 184.9 L521.4 180.1 L518.4 175.7 L514.9 171.7 L511.3 168.2 L507.4 165.2 L503.3 162.8 L499.2 161.0 L495.1 159.9 L491.1 159.4 L487.2 159.6 L483.5 160.6 L480.1 162.1M520.9 235.1 L524.0 232.9 L526.7 230.1 L529.0 226.7 L530.8 222.9 L532.1 218.6 L532.9 214.0 L533.2 209.1 L532.9 204.0 L532.1 198.7 L530.8 193.5 L529.0 188.4 L526.7 183.4 L524.0 178.7 L520.9 174.2 L517.5 170.2 L513.8 166.7 L509.9 163.7 L505.9 161.3 L501.8 159.5 L497.7 158.4 L493.6 157.9 L489.7 158.2 L486.1 159.1 L482.7 160.7M523.5 233.7 L526.5 231.5 L529.2 228.6 L531.5 225.3 L533.3 221.4 L534.6 217.1 L535.4 212.5 L535.7 207.6 L535.4 202.5 L534.6 197.3 L533.3 192.1 L531.5 186.9 L529.2 181.9 L526.5 177.2 L523.4 172.8 L520.0 168.8 L516.3 165.2 L512.4 162.3 L508.4 159.8 L504.3 158.1 L500.2 156.9 L496.2 156.5 L492.3 156.7 L488.6 157.6 L485.2 159.2M526.0 232.2 L529.1 230.0 L531.8 227.2 L534.0 223.8 L535.9 220.0 L537.2 215.7 L538.0 211.0 L538.2 206.1 L538.0 201.0 L537.1 195.8 L535.8 190.6 L534.0 185.4 L531.7 180.5 L529.0 175.7 L525.9 171.3 L522.5 167.3 L518.8 163.8 L514.9 160.8 L510.9 158.4 L506.8 156.6 L502.7 155.5 L498.7 155.0 L494.8 155.2 L491.1 156.2 L487.7 157.7M528.5 230.7 L531.6 228.5 L534.3 225.7 L536.6 222.3 L538.4 218.5 L539.7 214.2 L540.5 209.6 L540.7 204.6 L540.5 199.5 L539.7 194.3 L538.3 189.1 L536.5 184.0 L534.2 179.0 L531.5 174.2 L528.4 169.8 L525.0 165.8 L521.3 162.3 L517.4 159.3 L513.4 156.9 L509.3 155.1 L505.2 154.0 L501.2 153.5 L497.3 153.8 L493.6 154.7 L490.2 156.3M531.0 229.3 L534.1 227.0 L536.8 224.2 L539.1 220.9 L540.9 217.0 L542.2 212.7 L543.0 208.1 L543.3 203.2 L543.0 198.1 L542.2 192.9 L540.9 187.6 L539.0 182.5 L536.8 177.5 L534.0 172.8 L531.0 168.4 L527.5 164.4 L523.9 160.8 L520.0 157.8 L515.9 155.4 L511.8 153.6 L507.7 152.5 L503.7 152.1 L499.8 152.3 L496.1 153.2 L492.7 154.8M533.5 227.8 L536.6 225.6 L539.3 222.8 L541.6 219.4 L543.4 215.5 L544.7 211.3 L545.5 206.6 L545.8 201.7 L545.5 196.6 L544.7 191.4 L543.4 186.2 L541.6 181.0 L539.3 176.0 L536.6 171.3 L533.5 166.9 L530.1 162.9 L526.4 159.4 L522.5 156.4 L518.5 154.0 L514.4 152.2 L510.3 151.0 L506.2 150.6 L502.3 150.8 L498.7 151.7 L495.3 153.3" stroke="#1a1a1a" stroke-width="1.0" fill="none"/>
<ellipse cx="484.2" cy="208.2" rx="52.4" ry="35.9" transform="rotate(65.5 484.2 208.2)" stroke="#151515" stroke-width="1.4" fill="#f3f4f4"/>
<ellipse cx="480.2" cy="210.5" rx="52.4" ry="35.9" transform="rotate(65.5 480.2 210.5)" stroke="#151515" stroke-width="1.4" fill="#f3f4f4"/>
<ellipse cx="479.2" cy="210.5" rx="31.4" ry="22.3" transform="rotate(65.5 479.2 210.5)" fill="none" stroke="#151515" stroke-width="1.2"/>
<ellipse cx="481.7" cy="211.0" rx="11" ry="8.5" transform="rotate(65.5 481.7 211.0)" fill="#e8e8e6" stroke="#151515" stroke-width="1.3"/>
<ellipse cx="481.7" cy="211.0" rx="7.5" ry="5.8" transform="rotate(65.5 481.7 211.0)" fill="#f0f0ee" stroke="#333" stroke-width="1"/>
<ellipse cx="481.7" cy="211.0" rx="4" ry="3" transform="rotate(65.5 481.7 211.0)" fill="#f0f1f1" stroke="#555" stroke-width="0.8"/>
<path d="M497.3 317 V327 A6 3 0 0 0 509.3 327 V317" fill="#f3f4f4" stroke="#151515" stroke-width="1.3"/>
<ellipse cx="503.3" cy="317" rx="6" ry="3" fill="#f3f4f4" stroke="#151515" stroke-width="1.3"/>
<ellipse cx="503.3" cy="317" rx="2.6" ry="1.3" fill="none" stroke="#151515" stroke-width="1"/>
<path d="M503 333 V340" stroke="#151515" stroke-width="1"/>
<path d="M480.2 347 V355 A23.4 13.5 0 0 0 527 355 V347" fill="#f3f4f4" stroke="#151515" stroke-width="1.4"/>
<ellipse cx="503.6" cy="347" rx="23.4" ry="13.8" fill="#f3f4f4" stroke="#151515" stroke-width="1.4"/>
<ellipse cx="503.3" cy="348.2" rx="5" ry="3" fill="none" stroke="#151515" stroke-width="1.1"/>
<path d="M503 335 V343 M503.3 361 V366" stroke="#151515" stroke-width="1"/>
<path d="M503.3 371 V387" stroke="#222" stroke-width="1.5" stroke-dasharray="4 3"/>
<path d="M471.4 408.5 V587.5 A33.6 22 0 0 0 538.6 587.5 V408.5" fill="#f3f4f4" stroke="#151515" stroke-width="1.5"/>
<ellipse cx="505" cy="408.5" rx="33.6" ry="22" fill="#f3f4f4" stroke="#151515" stroke-width="1.5"/>
<ellipse cx="504.5" cy="408.0" rx="26.8" ry="16" fill="#f5f6f6" stroke="#151515" stroke-width="1.2"/>
<path d="M471.9 414.5 A33.6 22 0 0 0 538.1 414.5" fill="none" stroke="#151515" stroke-width="1.1"/>
<path d="M477.3 425 V580 M532 423 V582 M528 430 V575" fill="none" stroke="#151515" stroke-width="1"/>
<path d="M477.3 580 A26.5 16 0 0 0 530.5 580" fill="none" stroke="#151515" stroke-width="1.1"/>
<ellipse cx="503.5" cy="586" rx="10" ry="4" fill="none" stroke="#151515" stroke-width="1"/>
<ellipse cx="503.5" cy="596" rx="4" ry="2.5" fill="none" stroke="#151515" stroke-width="1"/>
<rect x="498" y="398" width="12" height="194" fill="#e9e9e7" stroke="#151515" stroke-width="1.1"/>
<ellipse cx="504" cy="399" rx="6" ry="3" fill="#f3f4f4" stroke="#151515" stroke-width="1"/>
<path d="M502 398 l2 -3 l2 3" fill="none" stroke="#151515" stroke-width="0.9"/>
<path d="M498 403.0 Q504 405.6 510 403.0 M498 406.3 Q504 408.9 510 406.3 M498 409.6 Q504 412.2 510 409.6 M498 412.9 Q504 415.5 510 412.9 M498 416.2 Q504 418.8 510 416.2 M498 419.5 Q504 422.1 510 419.5 M498 422.8 Q504 425.4 510 422.8 M498 426.1 Q504 428.7 510 426.1 M498 429.4 Q504 432.0 510 429.4 M498 432.7 Q504 435.3 510 432.7 M498 436.0 Q504 438.6 510 436.0 M498 439.3 Q504 441.9 510 439.3 M498 442.6 Q504 445.2 510 442.6 M498 445.9 Q504 448.5 510 445.9 M498 449.2 Q504 451.8 510 449.2 M498 452.5 Q504 455.1 510 452.5 M498 455.8 Q504 458.4 510 455.8 M498 459.1 Q504 461.7 510 459.1 M498 462.4 Q504 465.0 510 462.4 M498 465.7 Q504 468.3 510 465.7 M498 541.6 Q504 544.2 510 541.6 M498 544.9 Q504 547.5 510 544.9 M498 548.2 Q504 550.8 510 548.2 M498 551.5 Q504 554.1 510 551.5 M498 554.8 Q504 557.4 510 554.8 M498 558.1 Q504 560.7 510 558.1 M498 561.4 Q504 564.0 510 561.4 M498 564.7 Q504 567.3 510 564.7 M498 568.0 Q504 570.6 510 568.0 M498 571.3 Q504 573.9 510 571.3 M498 574.6 Q504 577.2 510 574.6 M498 577.9 Q504 580.5 510 577.9 M498 581.2 Q504 583.8 510 581.2 M498 584.5 Q504 587.1 510 584.5 M498 587.8 Q504 590.4 510 587.8 M498 591.1 Q504 593.7 510 591.1 " fill="none" stroke="#151515" stroke-width="1.25"/>
<path d="M486 434 V450 L498 457 M510 463 L522 470 V455 L510 448 M498 441 L486 434" fill="none" stroke="#151515" stroke-width="1.2"/>
<path d="M490 438 V448 L498 452" fill="none" stroke="#151515" stroke-width="1"/>
<path d="M511 441 L522 447 V462 L511 456 Z" fill="#f3f4f4" stroke="#151515" stroke-width="1.2"/>
<path d="M511 551 L522 557 V570 L511 564 Z" fill="#f3f4f4" stroke="#151515" stroke-width="1.2"/>
<path d="M507 424 L511 425 L531 415 M509 428 V440 M512 424 L514 418 L516 424" fill="none" stroke="#151515" stroke-width="1"/>
<path d="M517 395 l1.5 4 l1.5 -4 z M518 405 L516 418 L521 418 Z" fill="none" stroke="#151515" stroke-width="0.9"/>
<path d="M488.5 507.4 L477.9 510.5 L476.5 504.9 L487.3 502.6ZM487.2 501.9 L476.2 502.5 L476.1 496.7 L487.1 496.9ZM487.1 496.3 L476.3 494.4 L477.5 488.7 L488.2 491.4ZM488.4 490.7 L478.3 486.4 L480.7 481.2 L490.5 486.2ZM490.9 485.7 L482.0 479.2 L485.5 474.6 L493.9 481.7ZM494.4 481.2 L487.2 472.9 L491.7 469.3 L498.3 478.1ZM498.9 477.7 L493.7 468.0 L498.9 465.5 L503.3 475.5ZM504.0 475.3 L501.1 464.7 L506.7 463.4 L508.8 474.2Z" fill="#f3f4f4" stroke="#151515" stroke-width="1.1" stroke-linejoin="round"/>
<path d="M490.3 511.5 L489.2 509.2 L488.2 506.7 L487.5 504.2 L487.1 501.6 L487.0 499.0 L487.1 496.4 L487.5 493.8 L488.2 491.3 L489.2 488.8 L490.3 486.5 L491.8 484.3 L493.4 482.3 L495.3 480.4 L497.3 478.8 L499.5 477.3 L501.8 476.2 L504.3 475.2 L506.8 474.5 L509.4 474.1M495.5 508.5 L494.6 506.7 L493.9 504.9 L493.4 503.0 L493.1 501.0 L493.0 499.0 L493.1 497.0 L493.4 495.0 L493.9 493.1 L494.6 491.3 L495.5 489.5 L496.6 487.8 L497.9 486.3 L499.3 484.9 L500.8 483.6 L502.5 482.5 L504.3 481.6 L506.1 480.9 L508.0 480.4 L510.0 480.1" fill="none" stroke="#151515" stroke-width="1.1"/>
<path d="M496 478 Q490 492 496 512 M502 470 Q510 466 516 472" fill="none" stroke="#151515" stroke-width="1"/>
<path d="M499 476 V524 H510 V476" fill="#f3f4f4" stroke="#151515" stroke-width="1.1"/>
<ellipse cx="504.5" cy="476" rx="5.5" ry="2.5" fill="#f3f4f4" stroke="#151515" stroke-width="1"/>
<path d="M499 510 H510 M499 514 H510" fill="none" stroke="#151515" stroke-width="0.9"/>
<path d="M512 468 L523 474 V548 L512 542" fill="none" stroke="#151515" stroke-width="1"/>
<path d="M510 512 L518 508 L520 514 L512 518 Z" fill="#ddd" stroke="#151515" stroke-width="0.9"/>
<path d="M439.8 493.2 L448.6 487.8 L471 475.6 L478 480 L478 520 L512 528.4 L515 534.2 L493.5 548 L491.5 555.7 L488.6 555.7 L462.2 543 Q441 530 439.8 520 Z" fill="#f3f4f4" stroke="#151515" stroke-width="1.4"/>
<path d="M451 489.3 L453 506 L449.5 506.9 M449.5 506.9 L491.5 532.3 V555.7 M491.5 532.3 L512 528.4 M493.5 548 L491.5 549 M453 506 L471 493 M451 489.3 L471 477" fill="none" stroke="#151515" stroke-width="1.3"/>
<path d="M455 497 L470 489 L476 492 L461 500 Z M458 503 L472 495 L480 500 L466 508 Z M468 512 L480 505 L488 510 L476 517 Z" fill="#e6e6e4" stroke="#151515" stroke-width="0.9"/>
<circle cx="465.6" cy="534.2" r="6.5" fill="#e8e8e6" stroke="#151515" stroke-width="1.2"/>
<circle cx="465.6" cy="534.2" r="3.2" fill="none" stroke="#151515" stroke-width="1"/>
<circle cx="442.7" cy="514.7" r="1.8" fill="none" stroke="#151515" stroke-width="1"/>
<path d="M526 497 L540 490 A5.5 8.5 -30 0 1 545 508 L531 515 Z" fill="#f0f0ee" stroke="#151515" stroke-width="1.3"/>
<ellipse cx="528.5" cy="506" rx="5" ry="9" transform="rotate(-30 528.5 506)" fill="#f3f4f4" stroke="#151515" stroke-width="1.2"/>
<path d="M533 495 A5 9 -30 0 1 536 512 M537 493 A5 9 -30 0 1 540 510 M541 491 A5 9 -30 0 1 544 508" fill="none" stroke="#151515" stroke-width="1"/>
<path d="M648.3 394.5 L647.6 394.6 L648.0 399.5 L645.0 399.6 L643.2 394.8 L642.5 394.7 L642.5 394.7 L641.8 394.6 L641.4 399.2 L638.3 398.4 L637.2 393.4 L636.4 393.1 L636.4 393.1 L635.7 392.8 L634.6 397.0 L631.5 395.3 L631.1 390.3 L630.4 389.9 L630.4 389.9 L629.7 389.4 L627.9 392.8 L624.9 390.3 L625.3 385.7 L624.6 385.1 L624.6 385.1 L624.0 384.4 L621.6 387.0 L618.9 383.8 L620.0 379.7 L619.4 378.9 L619.4 378.9 L618.8 378.1 L615.9 379.8 L613.6 376.0 L615.4 372.6 L614.9 371.7 L614.9 371.7 L614.4 370.7 L611.1 371.4 L609.3 367.3 L611.7 364.7 L611.3 363.7 L611.3 363.7 L611.0 362.7 L607.4 362.3 L606.2 358.0 L609.1 356.3 L608.8 355.3 L608.8 355.3 L608.6 354.3 L605.0 352.8 L604.4 348.5 L607.7 347.8 L607.6 346.8 L607.6 346.8 L607.5 345.8 L604.0 343.4 L604.0 339.3 L607.5 339.7 L607.6 338.7 L607.6 338.7 L607.7 337.8 L604.4 334.5 L605.1 330.7 L608.7 332.1 L608.9 331.3 L608.9 331.3 L609.1 330.4 L606.2 326.5 L607.5 323.2 L611.0 325.6 L611.4 324.8 L611.4 324.8 L611.7 324.2 L609.3 319.6 L611.2 317.0 L614.5 320.2 L614.9 319.7 L614.9 319.7 L615.4 319.2 L613.6 314.3 L616.0 312.4 L618.9 316.4 L619.5 316.1 L619.5 316.1 L620.1 315.7 L619.0 310.7 L621.7 309.7 L624.1 314.3 L624.7 314.1 L624.7 314.1 L625.4 314.0 L625.0 309.1 L628.0 309.0 L629.8 313.8 L630.5 313.9 L630.5 313.9 L631.2 314.0 L631.6 309.4 L634.7 310.2 L635.8 315.2 L636.6 315.5 L636.6 315.5 L637.3 315.8 L638.4 311.6 L641.5 313.3 L641.9 318.3 L642.6 318.7 L642.6 318.7 L643.3 319.2 L645.1 315.8 L648.1 318.3 L647.7 322.9 L648.4 323.5 L648.4 323.5 L649.0 324.2 L651.4 321.6 L654.1 324.8 L653.0 328.9 L653.6 329.7 L653.6 329.7 L654.2 330.5 L657.1 328.8 L659.4 332.6 L657.6 336.0 L658.1 336.9 L658.1 336.9 L658.6 337.9 L661.9 337.2 L663.7 341.3 L661.3 343.9 L661.7 344.9 L661.7 344.9 L662.0 345.9 L665.6 346.3 L666.8 350.6 L663.9 352.3 L664.2 353.3 L664.2 353.3 L664.4 354.3 L668.0 355.8 L668.6 360.1 L665.3 360.8 L665.4 361.8 L665.4 361.8 L665.5 362.8 L669.0 365.2 L669.0 369.3 L665.5 368.9 L665.4 369.9 L665.4 369.9 L665.3 370.8 L668.6 374.1 L667.9 377.9 L664.3 376.5 L664.1 377.3 L664.1 377.3 L663.9 378.2 L666.8 382.1 L665.5 385.4 L662.0 383.0 L661.6 383.8 L661.6 383.8 L661.3 384.4 L663.7 389.0 L661.8 391.6 L658.5 388.4 L658.1 388.9 L658.1 388.9 L657.6 389.4 L659.4 394.3 L657.0 396.2 L654.1 392.2 L653.5 392.5 L653.5 392.5 L652.9 392.9 L654.0 397.9 L651.3 398.9 L648.9 394.3 L648.3 394.5Z" fill="#f3f4f4" stroke="#151515" stroke-width="1.3" stroke-linejoin="round"/>
<path d="M657.3 401.5 L656.6 401.6 L647.6 394.6 L648.3 394.5ZM656.6 401.6 L657.0 406.5 L648.0 399.5 L647.6 394.6ZM657.0 406.5 L654.0 406.6 L645.0 399.6 L648.0 399.5ZM654.0 406.6 L652.2 401.8 L643.2 394.8 L645.0 399.6ZM652.2 401.8 L651.5 401.7 L642.5 394.7 L643.2 394.8ZM651.5 401.7 L651.5 401.7 L642.5 394.7 L642.5 394.7ZM651.5 401.7 L650.8 401.6 L641.8 394.6 L642.5 394.7ZM650.8 401.6 L650.4 406.2 L641.4 399.2 L641.8 394.6ZM650.4 406.2 L647.3 405.4 L638.3 398.4 L641.4 399.2ZM647.3 405.4 L646.2 400.4 L637.2 393.4 L638.3 398.4ZM646.2 400.4 L645.4 400.1 L636.4 393.1 L637.2 393.4ZM645.4 400.1 L645.4 400.1 L636.4 393.1 L636.4 393.1ZM645.4 400.1 L644.7 399.8 L635.7 392.8 L636.4 393.1ZM644.7 399.8 L643.6 404.0 L634.6 397.0 L635.7 392.8ZM643.6 404.0 L640.5 402.3 L631.5 395.3 L634.6 397.0ZM640.5 402.3 L640.1 397.3 L631.1 390.3 L631.5 395.3ZM640.1 397.3 L639.4 396.9 L630.4 389.9 L631.1 390.3ZM639.4 396.9 L639.4 396.9 L630.4 389.9 L630.4 389.9ZM639.4 396.9 L638.7 396.4 L629.7 389.4 L630.4 389.9ZM638.7 396.4 L636.9 399.8 L627.9 392.8 L629.7 389.4ZM636.9 399.8 L633.9 397.3 L624.9 390.3 L627.9 392.8ZM633.9 397.3 L634.3 392.7 L625.3 385.7 L624.9 390.3ZM634.3 392.7 L633.6 392.1 L624.6 385.1 L625.3 385.7ZM633.6 392.1 L633.6 392.1 L624.6 385.1 L624.6 385.1ZM633.6 392.1 L633.0 391.4 L624.0 384.4 L624.6 385.1ZM633.0 391.4 L630.6 394.0 L621.6 387.0 L624.0 384.4ZM630.6 394.0 L627.9 390.8 L618.9 383.8 L621.6 387.0ZM627.9 390.8 L629.0 386.7 L620.0 379.7 L618.9 383.8ZM629.0 386.7 L628.4 385.9 L619.4 378.9 L620.0 379.7ZM628.4 385.9 L628.4 385.9 L619.4 378.9 L619.4 378.9ZM628.4 385.9 L627.8 385.1 L618.8 378.1 L619.4 378.9ZM627.8 385.1 L624.9 386.8 L615.9 379.8 L618.8 378.1ZM624.9 386.8 L622.6 383.0 L613.6 376.0 L615.9 379.8ZM622.6 383.0 L624.4 379.6 L615.4 372.6 L613.6 376.0ZM624.4 379.6 L623.9 378.7 L614.9 371.7 L615.4 372.6ZM623.9 378.7 L623.9 378.7 L614.9 371.7 L614.9 371.7ZM623.9 378.7 L623.4 377.7 L614.4 370.7 L614.9 371.7ZM623.4 377.7 L620.1 378.4 L611.1 371.4 L614.4 370.7ZM620.1 378.4 L618.3 374.3 L609.3 367.3 L611.1 371.4ZM618.3 374.3 L620.7 371.7 L611.7 364.7 L609.3 367.3ZM620.7 371.7 L620.3 370.7 L611.3 363.7 L611.7 364.7ZM620.3 370.7 L620.3 370.7 L611.3 363.7 L611.3 363.7ZM620.3 370.7 L620.0 369.7 L611.0 362.7 L611.3 363.7ZM620.0 369.7 L616.4 369.3 L607.4 362.3 L611.0 362.7ZM616.4 369.3 L615.2 365.0 L606.2 358.0 L607.4 362.3ZM615.2 365.0 L618.1 363.3 L609.1 356.3 L606.2 358.0ZM618.1 363.3 L617.8 362.3 L608.8 355.3 L609.1 356.3ZM617.8 362.3 L617.8 362.3 L608.8 355.3 L608.8 355.3ZM617.8 362.3 L617.6 361.3 L608.6 354.3 L608.8 355.3ZM617.6 361.3 L614.0 359.8 L605.0 352.8 L608.6 354.3ZM614.0 359.8 L613.4 355.5 L604.4 348.5 L605.0 352.8ZM613.4 355.5 L616.7 354.8 L607.7 347.8 L604.4 348.5ZM616.7 354.8 L616.6 353.8 L607.6 346.8 L607.7 347.8ZM616.6 353.8 L616.6 353.8 L607.6 346.8 L607.6 346.8ZM616.6 353.8 L616.5 352.8 L607.5 345.8 L607.6 346.8ZM616.5 352.8 L613.0 350.4 L604.0 343.4 L607.5 345.8ZM613.0 350.4 L613.0 346.3 L604.0 339.3 L604.0 343.4ZM613.0 346.3 L616.5 346.7 L607.5 339.7 L604.0 339.3ZM616.5 346.7 L616.6 345.7 L607.6 338.7 L607.5 339.7ZM616.6 345.7 L616.6 345.7 L607.6 338.7 L607.6 338.7ZM616.6 345.7 L616.7 344.8 L607.7 337.8 L607.6 338.7ZM616.7 344.8 L613.4 341.5 L604.4 334.5 L607.7 337.8ZM613.4 341.5 L614.1 337.7 L605.1 330.7 L604.4 334.5ZM614.1 337.7 L617.7 339.1 L608.7 332.1 L605.1 330.7ZM617.7 339.1 L617.9 338.3 L608.9 331.3 L608.7 332.1ZM617.9 338.3 L617.9 338.3 L608.9 331.3 L608.9 331.3ZM617.9 338.3 L618.1 337.4 L609.1 330.4 L608.9 331.3ZM618.1 337.4 L615.2 333.5 L606.2 326.5 L609.1 330.4ZM615.2 333.5 L616.5 330.2 L607.5 323.2 L606.2 326.5ZM616.5 330.2 L620.0 332.6 L611.0 325.6 L607.5 323.2ZM620.0 332.6 L620.4 331.8 L611.4 324.8 L611.0 325.6ZM620.4 331.8 L620.4 331.8 L611.4 324.8 L611.4 324.8ZM620.4 331.8 L620.7 331.2 L611.7 324.2 L611.4 324.8ZM620.7 331.2 L618.3 326.6 L609.3 319.6 L611.7 324.2ZM618.3 326.6 L620.2 324.0 L611.2 317.0 L609.3 319.6ZM620.2 324.0 L623.5 327.2 L614.5 320.2 L611.2 317.0ZM623.5 327.2 L623.9 326.7 L614.9 319.7 L614.5 320.2ZM623.9 326.7 L623.9 326.7 L614.9 319.7 L614.9 319.7ZM623.9 326.7 L624.4 326.2 L615.4 319.2 L614.9 319.7ZM624.4 326.2 L622.6 321.3 L613.6 314.3 L615.4 319.2ZM622.6 321.3 L625.0 319.4 L616.0 312.4 L613.6 314.3ZM625.0 319.4 L627.9 323.4 L618.9 316.4 L616.0 312.4ZM627.9 323.4 L628.5 323.1 L619.5 316.1 L618.9 316.4ZM628.5 323.1 L628.5 323.1 L619.5 316.1 L619.5 316.1ZM628.5 323.1 L629.1 322.7 L620.1 315.7 L619.5 316.1ZM629.1 322.7 L628.0 317.7 L619.0 310.7 L620.1 315.7ZM628.0 317.7 L630.7 316.7 L621.7 309.7 L619.0 310.7ZM630.7 316.7 L633.1 321.3 L624.1 314.3 L621.7 309.7ZM633.1 321.3 L633.7 321.1 L624.7 314.1 L624.1 314.3ZM633.7 321.1 L633.7 321.1 L624.7 314.1 L624.7 314.1ZM633.7 321.1 L634.4 321.0 L625.4 314.0 L624.7 314.1ZM634.4 321.0 L634.0 316.1 L625.0 309.1 L625.4 314.0ZM634.0 316.1 L637.0 316.0 L628.0 309.0 L625.0 309.1ZM637.0 316.0 L638.8 320.8 L629.8 313.8 L628.0 309.0ZM638.8 320.8 L639.5 320.9 L630.5 313.9 L629.8 313.8ZM639.5 320.9 L639.5 320.9 L630.5 313.9 L630.5 313.9ZM639.5 320.9 L640.2 321.0 L631.2 314.0 L630.5 313.9ZM640.2 321.0 L640.6 316.4 L631.6 309.4 L631.2 314.0ZM640.6 316.4 L643.7 317.2 L634.7 310.2 L631.6 309.4ZM643.7 317.2 L644.8 322.2 L635.8 315.2 L634.7 310.2ZM644.8 322.2 L645.6 322.5 L636.6 315.5 L635.8 315.2ZM645.6 322.5 L645.6 322.5 L636.6 315.5 L636.6 315.5ZM645.6 322.5 L646.3 322.8 L637.3 315.8 L636.6 315.5ZM646.3 322.8 L647.4 318.6 L638.4 311.6 L637.3 315.8ZM647.4 318.6 L650.5 320.3 L641.5 313.3 L638.4 311.6ZM650.5 320.3 L650.9 325.3 L641.9 318.3 L641.5 313.3ZM650.9 325.3 L651.6 325.7 L642.6 318.7 L641.9 318.3ZM651.6 325.7 L651.6 325.7 L642.6 318.7 L642.6 318.7ZM651.6 325.7 L652.3 326.2 L643.3 319.2 L642.6 318.7ZM652.3 326.2 L654.1 322.8 L645.1 315.8 L643.3 319.2ZM654.1 322.8 L657.1 325.3 L648.1 318.3 L645.1 315.8ZM657.1 325.3 L656.7 329.9 L647.7 322.9 L648.1 318.3ZM656.7 329.9 L657.4 330.5 L648.4 323.5 L647.7 322.9ZM657.4 330.5 L657.4 330.5 L648.4 323.5 L648.4 323.5ZM657.4 330.5 L658.0 331.2 L649.0 324.2 L648.4 323.5ZM658.0 331.2 L660.4 328.6 L651.4 321.6 L649.0 324.2ZM660.4 328.6 L663.1 331.8 L654.1 324.8 L651.4 321.6ZM663.1 331.8 L662.0 335.9 L653.0 328.9 L654.1 324.8ZM662.0 335.9 L662.6 336.7 L653.6 329.7 L653.0 328.9ZM662.6 336.7 L662.6 336.7 L653.6 329.7 L653.6 329.7ZM662.6 336.7 L663.2 337.5 L654.2 330.5 L653.6 329.7ZM663.2 337.5 L666.1 335.8 L657.1 328.8 L654.2 330.5ZM666.1 335.8 L668.4 339.6 L659.4 332.6 L657.1 328.8ZM668.4 339.6 L666.6 343.0 L657.6 336.0 L659.4 332.6ZM666.6 343.0 L667.1 343.9 L658.1 336.9 L657.6 336.0ZM667.1 343.9 L667.1 343.9 L658.1 336.9 L658.1 336.9ZM667.1 343.9 L667.6 344.9 L658.6 337.9 L658.1 336.9ZM667.6 344.9 L670.9 344.2 L661.9 337.2 L658.6 337.9ZM670.9 344.2 L672.7 348.3 L663.7 341.3 L661.9 337.2ZM672.7 348.3 L670.3 350.9 L661.3 343.9 L663.7 341.3ZM670.3 350.9 L670.7 351.9 L661.7 344.9 L661.3 343.9ZM670.7 351.9 L670.7 351.9 L661.7 344.9 L661.7 344.9ZM670.7 351.9 L671.0 352.9 L662.0 345.9 L661.7 344.9ZM671.0 352.9 L674.6 353.3 L665.6 346.3 L662.0 345.9ZM674.6 353.3 L675.8 357.6 L666.8 350.6 L665.6 346.3ZM675.8 357.6 L672.9 359.3 L663.9 352.3 L666.8 350.6ZM672.9 359.3 L673.2 360.3 L664.2 353.3 L663.9 352.3ZM673.2 360.3 L673.2 360.3 L664.2 353.3 L664.2 353.3ZM673.2 360.3 L673.4 361.3 L664.4 354.3 L664.2 353.3ZM673.4 361.3 L677.0 362.8 L668.0 355.8 L664.4 354.3ZM677.0 362.8 L677.6 367.1 L668.6 360.1 L668.0 355.8ZM677.6 367.1 L674.3 367.8 L665.3 360.8 L668.6 360.1ZM674.3 367.8 L674.4 368.8 L665.4 361.8 L665.3 360.8ZM674.4 368.8 L674.4 368.8 L665.4 361.8 L665.4 361.8ZM674.4 368.8 L674.5 369.8 L665.5 362.8 L665.4 361.8ZM674.5 369.8 L678.0 372.2 L669.0 365.2 L665.5 362.8ZM678.0 372.2 L678.0 376.3 L669.0 369.3 L669.0 365.2ZM678.0 376.3 L674.5 375.9 L665.5 368.9 L669.0 369.3ZM674.5 375.9 L674.4 376.9 L665.4 369.9 L665.5 368.9ZM674.4 376.9 L674.4 376.9 L665.4 369.9 L665.4 369.9ZM674.4 376.9 L674.3 377.8 L665.3 370.8 L665.4 369.9ZM674.3 377.8 L677.6 381.1 L668.6 374.1 L665.3 370.8ZM677.6 381.1 L676.9 384.9 L667.9 377.9 L668.6 374.1ZM676.9 384.9 L673.3 383.5 L664.3 376.5 L667.9 377.9ZM673.3 383.5 L673.1 384.3 L664.1 377.3 L664.3 376.5ZM673.1 384.3 L673.1 384.3 L664.1 377.3 L664.1 377.3ZM673.1 384.3 L672.9 385.2 L663.9 378.2 L664.1 377.3ZM672.9 385.2 L675.8 389.1 L666.8 382.1 L663.9 378.2ZM675.8 389.1 L674.5 392.4 L665.5 385.4 L666.8 382.1ZM674.5 392.4 L671.0 390.0 L662.0 383.0 L665.5 385.4ZM671.0 390.0 L670.6 390.8 L661.6 383.8 L662.0 383.0ZM670.6 390.8 L670.6 390.8 L661.6 383.8 L661.6 383.8ZM670.6 390.8 L670.3 391.4 L661.3 384.4 L661.6 383.8ZM670.3 391.4 L672.7 396.0 L663.7 389.0 L661.3 384.4ZM672.7 396.0 L670.8 398.6 L661.8 391.6 L663.7 389.0ZM670.8 398.6 L667.5 395.4 L658.5 388.4 L661.8 391.6ZM667.5 395.4 L667.1 395.9 L658.1 388.9 L658.5 388.4ZM667.1 395.9 L667.1 395.9 L658.1 388.9 L658.1 388.9ZM667.1 395.9 L666.6 396.4 L657.6 389.4 L658.1 388.9ZM666.6 396.4 L668.4 401.3 L659.4 394.3 L657.6 389.4ZM668.4 401.3 L666.0 403.2 L657.0 396.2 L659.4 394.3ZM666.0 403.2 L663.1 399.2 L654.1 392.2 L657.0 396.2ZM663.1 399.2 L662.5 399.5 L653.5 392.5 L654.1 392.2ZM662.5 399.5 L662.5 399.5 L653.5 392.5 L653.5 392.5ZM662.5 399.5 L661.9 399.9 L652.9 392.9 L653.5 392.5ZM661.9 399.9 L663.0 404.9 L654.0 397.9 L652.9 392.9ZM663.0 404.9 L660.3 405.9 L651.3 398.9 L654.0 397.9ZM660.3 405.9 L657.9 401.3 L648.9 394.3 L651.3 398.9ZM657.9 401.3 L657.3 401.5 L648.3 394.5 L648.9 394.3ZM657.3 401.5 L657.3 401.5 L648.3 394.5 L648.3 394.5Z" fill="#f3f4f4" stroke="none"/>
<path d="M613.4 341.5 L604.4 334.5M614.1 337.7 L605.1 330.7M615.2 333.5 L606.2 326.5M616.5 330.2 L607.5 323.2M618.3 326.6 L609.3 319.6M620.2 324.0 L611.2 317.0M622.6 321.3 L613.6 314.3M625.0 319.4 L616.0 312.4M628.0 317.7 L619.0 310.7M630.7 316.7 L621.7 309.7M634.0 316.1 L625.0 309.1M637.0 316.0 L628.0 309.0M640.6 316.4 L631.6 309.4M643.7 317.2 L634.7 310.2M647.4 318.6 L638.4 311.6M650.5 320.3 L641.5 313.3M654.1 322.8 L645.1 315.8M657.1 325.3 L648.1 318.3M660.4 328.6 L651.4 321.6M663.1 331.8 L654.1 324.8M666.1 335.8 L657.1 328.8M668.4 339.6 L659.4 332.6M670.9 344.2 L661.9 337.2" fill="none" stroke="#151515" stroke-width="1.10"/>
<path d="M657.3 401.5 L656.6 401.6 L657.0 406.5 L654.0 406.6 L652.2 401.8 L651.5 401.7 L651.5 401.7 L650.8 401.6 L650.4 406.2 L647.3 405.4 L646.2 400.4 L645.4 400.1 L645.4 400.1 L644.7 399.8 L643.6 404.0 L640.5 402.3 L640.1 397.3 L639.4 396.9 L639.4 396.9 L638.7 396.4 L636.9 399.8 L633.9 397.3 L634.3 392.7 L633.6 392.1 L633.6 392.1 L633.0 391.4 L630.6 394.0 L627.9 390.8 L629.0 386.7 L628.4 385.9 L628.4 385.9 L627.8 385.1 L624.9 386.8 L622.6 383.0 L624.4 379.6 L623.9 378.7 L623.9 378.7 L623.4 377.7 L620.1 378.4 L618.3 374.3 L620.7 371.7 L620.3 370.7 L620.3 370.7 L620.0 369.7 L616.4 369.3 L615.2 365.0 L618.1 363.3 L617.8 362.3 L617.8 362.3 L617.6 361.3 L614.0 359.8 L613.4 355.5 L616.7 354.8 L616.6 353.8 L616.6 353.8 L616.5 352.8 L613.0 350.4 L613.0 346.3 L616.5 346.7 L616.6 345.7 L616.6 345.7 L616.7 344.8 L613.4 341.5 L614.1 337.7 L617.7 339.1 L617.9 338.3 L617.9 338.3 L618.1 337.4 L615.2 333.5 L616.5 330.2 L620.0 332.6 L620.4 331.8 L620.4 331.8 L620.7 331.2 L618.3 326.6 L620.2 324.0 L623.5 327.2 L623.9 326.7 L623.9 326.7 L624.4 326.2 L622.6 321.3 L625.0 319.4 L627.9 323.4 L628.5 323.1 L628.5 323.1 L629.1 322.7 L628.0 317.7 L630.7 316.7 L633.1 321.3 L633.7 321.1 L633.7 321.1 L634.4 321.0 L634.0 316.1 L637.0 316.0 L638.8 320.8 L639.5 320.9 L639.5 320.9 L640.2 321.0 L640.6 316.4 L643.7 317.2 L644.8 322.2 L645.6 322.5 L645.6 322.5 L646.3 322.8 L647.4 318.6 L650.5 320.3 L650.9 325.3 L651.6 325.7 L651.6 325.7 L652.3 326.2 L654.1 322.8 L657.1 325.3 L656.7 329.9 L657.4 330.5 L657.4 330.5 L658.0 331.2 L660.4 328.6 L663.1 331.8 L662.0 335.9 L662.6 336.7 L662.6 336.7 L663.2 337.5 L666.1 335.8 L668.4 339.6 L666.6 343.0 L667.1 343.9 L667.1 343.9 L667.6 344.9 L670.9 344.2 L672.7 348.3 L670.3 350.9 L670.7 351.9 L670.7 351.9 L671.0 352.9 L674.6 353.3 L675.8 357.6 L672.9 359.3 L673.2 360.3 L673.2 360.3 L673.4 361.3 L677.0 362.8 L677.6 367.1 L674.3 367.8 L674.4 368.8 L674.4 368.8 L674.5 369.8 L678.0 372.2 L678.0 376.3 L674.5 375.9 L674.4 376.9 L674.4 376.9 L674.3 377.8 L677.6 381.1 L676.9 384.9 L673.3 383.5 L673.1 384.3 L673.1 384.3 L672.9 385.2 L675.8 389.1 L674.5 392.4 L671.0 390.0 L670.6 390.8 L670.6 390.8 L670.3 391.4 L672.7 396.0 L670.8 398.6 L667.5 395.4 L667.1 395.9 L667.1 395.9 L666.6 396.4 L668.4 401.3 L666.0 403.2 L663.1 399.2 L662.5 399.5 L662.5 399.5 L661.9 399.9 L663.0 404.9 L660.3 405.9 L657.9 401.3 L657.3 401.5Z" fill="#f3f4f4" stroke="#151515" stroke-width="1.3" stroke-linejoin="round"/>
<ellipse cx="645.5" cy="361.3" rx="34.0" ry="21.8" transform="rotate(70 645.5 361.3)" fill="#f3f4f4" stroke="#151515" stroke-width="1.2"/>
<ellipse cx="647.5" cy="364.3" rx="22.0" ry="14.1" transform="rotate(70 647.5 364.3)" fill="#f3f4f4" stroke="#151515" stroke-width="1.1"/>
<ellipse cx="648.5" cy="365.3" rx="15.0" ry="9.6" transform="rotate(70 648.5 365.3)" fill="#f3f4f4" stroke="#151515" stroke-width="1.1"/>
<ellipse cx="648.5" cy="366.3" rx="10.0" ry="6.4" transform="rotate(70 648.5 366.3)" fill="#f3f4f4" stroke="#151515" stroke-width="1.1"/>
<ellipse cx="648.5" cy="366.8" rx="5.0" ry="3.2" transform="rotate(70 648.5 366.8)" fill="#f3f4f4" stroke="#151515" stroke-width="1.0"/>
<path d="M600.3 341.1 L629.7 334.9 L621.7 354.9 L592.3 361.1Z" fill="#bdbdbb" stroke="#151515" stroke-width="1.3"/>
<path d="M629.7 334.9 L629.4 336.3 L628.2 337.7 L626.1 339.3 L623.2 340.7 L619.8 341.9 L616.0 342.9 L612.2 343.5 L608.6 343.8 L605.4 343.7 L602.8 343.1 L601.1 342.3 L600.3 341.1M628.5 337.7 L628.3 339.1 L627.1 340.6 L625.0 342.1 L622.1 343.5 L618.7 344.8 L614.9 345.7 L611.1 346.4 L607.4 346.7 L604.2 346.5 L601.7 346.0 L600.0 345.1 L599.2 344.0M627.4 340.6 L627.2 342.0 L625.9 343.5 L623.8 345.0 L621.0 346.4 L617.5 347.6 L613.8 348.6 L609.9 349.2 L606.3 349.5 L603.1 349.4 L600.5 348.9 L598.8 348.0 L598.0 346.8M626.2 343.5 L626.0 344.8 L624.8 346.3 L622.7 347.8 L619.8 349.2 L616.4 350.5 L612.6 351.5 L608.8 352.1 L605.1 352.4 L601.9 352.2 L599.4 351.7 L597.7 350.8 L596.9 349.7M625.1 346.3 L624.9 347.7 L623.7 349.2 L621.5 350.7 L618.7 352.1 L615.2 353.3 L611.5 354.3 L607.6 355.0 L604.0 355.2 L600.8 355.1 L598.2 354.6 L596.5 353.7 L595.8 352.5M624.0 349.2 L623.7 350.5 L622.5 352.0 L620.4 353.5 L617.5 355.0 L614.1 356.2 L610.3 357.2 L606.5 357.8 L602.8 358.1 L599.6 357.9 L597.1 357.4 L595.4 356.6 L594.6 355.4M622.8 352.0 L622.6 353.4 L621.4 354.9 L619.3 356.4 L616.4 357.8 L612.9 359.1 L609.2 360.0 L605.3 360.7 L601.7 360.9 L598.5 360.8 L596.0 360.3 L594.2 359.4 L593.5 358.3M621.7 354.9 L621.4 356.3 L620.2 357.7 L618.1 359.3 L615.2 360.7 L611.8 361.9 L608.0 362.9 L604.2 363.5 L600.6 363.8 L597.4 363.7 L594.8 363.1 L593.1 362.3 L592.3 361.1" fill="none" stroke="#151515" stroke-width="1.9"/>
<path d="M629.7 334.9 L629.4 336.3 L628.2 337.7 L626.1 339.3 L623.2 340.7 L619.8 341.9 L616.0 342.9 L612.2 343.5 L608.6 343.8 L605.4 343.7 L602.8 343.1 L601.1 342.3 L600.3 341.1M628.5 337.7 L628.3 339.1 L627.1 340.6 L625.0 342.1 L622.1 343.5 L618.7 344.8 L614.9 345.7 L611.1 346.4 L607.4 346.7 L604.2 346.5 L601.7 346.0 L600.0 345.1 L599.2 344.0M627.4 340.6 L627.2 342.0 L625.9 343.5 L623.8 345.0 L621.0 346.4 L617.5 347.6 L613.8 348.6 L609.9 349.2 L606.3 349.5 L603.1 349.4 L600.5 348.9 L598.8 348.0 L598.0 346.8M626.2 343.5 L626.0 344.8 L624.8 346.3 L622.7 347.8 L619.8 349.2 L616.4 350.5 L612.6 351.5 L608.8 352.1 L605.1 352.4 L601.9 352.2 L599.4 351.7 L597.7 350.8 L596.9 349.7M625.1 346.3 L624.9 347.7 L623.7 349.2 L621.5 350.7 L618.7 352.1 L615.2 353.3 L611.5 354.3 L607.6 355.0 L604.0 355.2 L600.8 355.1 L598.2 354.6 L596.5 353.7 L595.8 352.5M624.0 349.2 L623.7 350.5 L622.5 352.0 L620.4 353.5 L617.5 355.0 L614.1 356.2 L610.3 357.2 L606.5 357.8 L602.8 358.1 L599.6 357.9 L597.1 357.4 L595.4 356.6 L594.6 355.4M622.8 352.0 L622.6 353.4 L621.4 354.9 L619.3 356.4 L616.4 357.8 L612.9 359.1 L609.2 360.0 L605.3 360.7 L601.7 360.9 L598.5 360.8 L596.0 360.3 L594.2 359.4 L593.5 358.3M621.7 354.9 L621.4 356.3 L620.2 357.7 L618.1 359.3 L615.2 360.7 L611.8 361.9 L608.0 362.9 L604.2 363.5 L600.6 363.8 L597.4 363.7 L594.8 363.1 L593.1 362.3 L592.3 361.1" transform="translate(0 -1.2)" fill="none" stroke="#f0f0ee" stroke-width="0.9"/>
<path d="M609.8 405.8 L609.2 406.0 L609.4 410.1 L606.1 410.5 L604.7 406.6 L603.9 406.5 L603.9 406.5 L603.2 406.4 L602.2 410.1 L598.8 409.0 L598.6 404.9 L597.9 404.6 L597.9 404.6 L597.2 404.2 L595.1 407.0 L592.1 404.6 L593.2 400.9 L592.6 400.3 L592.6 400.3 L592.0 399.6 L589.0 401.1 L586.9 397.8 L589.0 395.0 L588.7 394.2 L588.7 394.2 L588.3 393.4 L584.9 393.4 L583.8 389.5 L586.8 388.0 L586.7 387.1 L586.7 387.1 L586.6 386.3 L583.2 384.8 L583.3 380.9 L586.7 380.9 L586.9 380.0 L586.9 380.0 L587.1 379.2 L584.2 376.5 L585.5 373.1 L588.9 374.6 L589.3 373.9 L589.3 373.9 L589.7 373.3 L587.7 369.6 L590.1 367.2 L592.9 369.9 L593.5 369.5 L593.5 369.5 L594.1 369.2 L593.3 365.1 L596.4 364.0 L598.3 367.6 L599.0 367.5 L599.0 367.5 L599.8 367.5 L600.2 363.5 L603.5 363.9 L604.4 367.9 L605.1 368.1 L605.1 368.1 L605.8 368.4 L607.5 365.1 L610.7 366.9 L610.2 370.8 L610.9 371.3 L610.9 371.3 L611.5 371.8 L614.1 369.7 L616.8 372.6 L615.1 375.9 L615.6 376.6 L615.6 376.6 L616.1 377.3 L619.3 376.6 L621.0 380.3 L618.3 382.4 L618.6 383.3 L618.6 383.3 L618.8 384.1 L622.3 384.9 L622.8 388.9 L619.5 389.6 L619.5 390.5 L619.5 390.5 L619.5 391.3 L622.6 393.5 L621.9 397.2 L618.5 396.5 L618.2 397.2 L618.2 397.2 L617.9 397.9 L620.4 401.2 L618.5 404.1 L615.3 402.0 L614.8 402.5 L614.8 402.5 L614.3 403.1 L615.7 407.0 L613.0 408.8 L610.5 405.5 L609.8 405.8Z" fill="#f3f4f4" stroke="#151515" stroke-width="1.3" stroke-linejoin="round"/>
<path d="M604.8 408.8 L604.2 409.0 L609.2 406.0 L609.8 405.8ZM604.2 409.0 L604.4 413.1 L609.4 410.1 L609.2 406.0ZM604.4 413.1 L601.1 413.5 L606.1 410.5 L609.4 410.1ZM601.1 413.5 L599.7 409.6 L604.7 406.6 L606.1 410.5ZM599.7 409.6 L598.9 409.5 L603.9 406.5 L604.7 406.6ZM598.9 409.5 L598.9 409.5 L603.9 406.5 L603.9 406.5ZM598.9 409.5 L598.2 409.4 L603.2 406.4 L603.9 406.5ZM598.2 409.4 L597.2 413.1 L602.2 410.1 L603.2 406.4ZM597.2 413.1 L593.8 412.0 L598.8 409.0 L602.2 410.1ZM593.8 412.0 L593.6 407.9 L598.6 404.9 L598.8 409.0ZM593.6 407.9 L592.9 407.6 L597.9 404.6 L598.6 404.9ZM592.9 407.6 L592.9 407.6 L597.9 404.6 L597.9 404.6ZM592.9 407.6 L592.2 407.2 L597.2 404.2 L597.9 404.6ZM592.2 407.2 L590.1 410.0 L595.1 407.0 L597.2 404.2ZM590.1 410.0 L587.1 407.6 L592.1 404.6 L595.1 407.0ZM587.1 407.6 L588.2 403.9 L593.2 400.9 L592.1 404.6ZM588.2 403.9 L587.6 403.3 L592.6 400.3 L593.2 400.9ZM587.6 403.3 L587.6 403.3 L592.6 400.3 L592.6 400.3ZM587.6 403.3 L587.0 402.6 L592.0 399.6 L592.6 400.3ZM587.0 402.6 L584.0 404.1 L589.0 401.1 L592.0 399.6ZM584.0 404.1 L581.9 400.8 L586.9 397.8 L589.0 401.1ZM581.9 400.8 L584.0 398.0 L589.0 395.0 L586.9 397.8ZM584.0 398.0 L583.7 397.2 L588.7 394.2 L589.0 395.0ZM583.7 397.2 L583.7 397.2 L588.7 394.2 L588.7 394.2ZM583.7 397.2 L583.3 396.4 L588.3 393.4 L588.7 394.2ZM583.3 396.4 L579.9 396.4 L584.9 393.4 L588.3 393.4ZM579.9 396.4 L578.8 392.5 L583.8 389.5 L584.9 393.4ZM578.8 392.5 L581.8 391.0 L586.8 388.0 L583.8 389.5ZM581.8 391.0 L581.7 390.1 L586.7 387.1 L586.8 388.0ZM581.7 390.1 L581.7 390.1 L586.7 387.1 L586.7 387.1ZM581.7 390.1 L581.6 389.3 L586.6 386.3 L586.7 387.1ZM581.6 389.3 L578.2 387.8 L583.2 384.8 L586.6 386.3ZM578.2 387.8 L578.3 383.9 L583.3 380.9 L583.2 384.8ZM578.3 383.9 L581.7 383.9 L586.7 380.9 L583.3 380.9ZM581.7 383.9 L581.9 383.0 L586.9 380.0 L586.7 380.9ZM581.9 383.0 L581.9 383.0 L586.9 380.0 L586.9 380.0ZM581.9 383.0 L582.1 382.2 L587.1 379.2 L586.9 380.0ZM582.1 382.2 L579.2 379.5 L584.2 376.5 L587.1 379.2ZM579.2 379.5 L580.5 376.1 L585.5 373.1 L584.2 376.5ZM580.5 376.1 L583.9 377.6 L588.9 374.6 L585.5 373.1ZM583.9 377.6 L584.3 376.9 L589.3 373.9 L588.9 374.6ZM584.3 376.9 L584.3 376.9 L589.3 373.9 L589.3 373.9ZM584.3 376.9 L584.7 376.3 L589.7 373.3 L589.3 373.9ZM584.7 376.3 L582.7 372.6 L587.7 369.6 L589.7 373.3ZM582.7 372.6 L585.1 370.2 L590.1 367.2 L587.7 369.6ZM585.1 370.2 L587.9 372.9 L592.9 369.9 L590.1 367.2ZM587.9 372.9 L588.5 372.5 L593.5 369.5 L592.9 369.9ZM588.5 372.5 L588.5 372.5 L593.5 369.5 L593.5 369.5ZM588.5 372.5 L589.1 372.2 L594.1 369.2 L593.5 369.5ZM589.1 372.2 L588.3 368.1 L593.3 365.1 L594.1 369.2ZM588.3 368.1 L591.4 367.0 L596.4 364.0 L593.3 365.1ZM591.4 367.0 L593.3 370.6 L598.3 367.6 L596.4 364.0ZM593.3 370.6 L594.0 370.5 L599.0 367.5 L598.3 367.6ZM594.0 370.5 L594.0 370.5 L599.0 367.5 L599.0 367.5ZM594.0 370.5 L594.8 370.5 L599.8 367.5 L599.0 367.5ZM594.8 370.5 L595.2 366.5 L600.2 363.5 L599.8 367.5ZM595.2 366.5 L598.5 366.9 L603.5 363.9 L600.2 363.5ZM598.5 366.9 L599.4 370.9 L604.4 367.9 L603.5 363.9ZM599.4 370.9 L600.1 371.1 L605.1 368.1 L604.4 367.9ZM600.1 371.1 L600.1 371.1 L605.1 368.1 L605.1 368.1ZM600.1 371.1 L600.8 371.4 L605.8 368.4 L605.1 368.1ZM600.8 371.4 L602.5 368.1 L607.5 365.1 L605.8 368.4ZM602.5 368.1 L605.7 369.9 L610.7 366.9 L607.5 365.1ZM605.7 369.9 L605.2 373.8 L610.2 370.8 L610.7 366.9ZM605.2 373.8 L605.9 374.3 L610.9 371.3 L610.2 370.8ZM605.9 374.3 L605.9 374.3 L610.9 371.3 L610.9 371.3ZM605.9 374.3 L606.5 374.8 L611.5 371.8 L610.9 371.3ZM606.5 374.8 L609.1 372.7 L614.1 369.7 L611.5 371.8ZM609.1 372.7 L611.8 375.6 L616.8 372.6 L614.1 369.7ZM611.8 375.6 L610.1 378.9 L615.1 375.9 L616.8 372.6ZM610.1 378.9 L610.6 379.6 L615.6 376.6 L615.1 375.9ZM610.6 379.6 L610.6 379.6 L615.6 376.6 L615.6 376.6ZM610.6 379.6 L611.1 380.3 L616.1 377.3 L615.6 376.6ZM611.1 380.3 L614.3 379.6 L619.3 376.6 L616.1 377.3ZM614.3 379.6 L616.0 383.3 L621.0 380.3 L619.3 376.6ZM616.0 383.3 L613.3 385.4 L618.3 382.4 L621.0 380.3ZM613.3 385.4 L613.6 386.3 L618.6 383.3 L618.3 382.4ZM613.6 386.3 L613.6 386.3 L618.6 383.3 L618.6 383.3ZM613.6 386.3 L613.8 387.1 L618.8 384.1 L618.6 383.3ZM613.8 387.1 L617.3 387.9 L622.3 384.9 L618.8 384.1ZM617.3 387.9 L617.8 391.9 L622.8 388.9 L622.3 384.9ZM617.8 391.9 L614.5 392.6 L619.5 389.6 L622.8 388.9ZM614.5 392.6 L614.5 393.5 L619.5 390.5 L619.5 389.6ZM614.5 393.5 L614.5 393.5 L619.5 390.5 L619.5 390.5ZM614.5 393.5 L614.5 394.3 L619.5 391.3 L619.5 390.5ZM614.5 394.3 L617.6 396.5 L622.6 393.5 L619.5 391.3ZM617.6 396.5 L616.9 400.2 L621.9 397.2 L622.6 393.5ZM616.9 400.2 L613.5 399.5 L618.5 396.5 L621.9 397.2ZM613.5 399.5 L613.2 400.2 L618.2 397.2 L618.5 396.5ZM613.2 400.2 L613.2 400.2 L618.2 397.2 L618.2 397.2ZM613.2 400.2 L612.9 400.9 L617.9 397.9 L618.2 397.2ZM612.9 400.9 L615.4 404.2 L620.4 401.2 L617.9 397.9ZM615.4 404.2 L613.5 407.1 L618.5 404.1 L620.4 401.2ZM613.5 407.1 L610.3 405.0 L615.3 402.0 L618.5 404.1ZM610.3 405.0 L609.8 405.5 L614.8 402.5 L615.3 402.0ZM609.8 405.5 L609.8 405.5 L614.8 402.5 L614.8 402.5ZM609.8 405.5 L609.3 406.1 L614.3 403.1 L614.8 402.5ZM609.3 406.1 L610.7 410.0 L615.7 407.0 L614.3 403.1ZM610.7 410.0 L608.0 411.8 L613.0 408.8 L615.7 407.0ZM608.0 411.8 L605.5 408.5 L610.5 405.5 L613.0 408.8ZM605.5 408.5 L604.8 408.8 L609.8 405.8 L610.5 405.5ZM604.8 408.8 L604.8 408.8 L609.8 405.8 L609.8 405.8Z" fill="#f3f4f4" stroke="none"/>
<path d="M611.8 375.6 L616.8 372.6M614.3 379.6 L619.3 376.6M616.0 383.3 L621.0 380.3M617.3 387.9 L622.3 384.9M617.8 391.9 L622.8 388.9M617.6 396.5 L622.6 393.5M616.9 400.2 L621.9 397.2M615.4 404.2 L620.4 401.2M613.5 407.1 L618.5 404.1M610.7 410.0 L615.7 407.0" fill="none" stroke="#151515" stroke-width="1.10"/>
<path d="M604.8 408.8 L604.2 409.0 L604.4 413.1 L601.1 413.5 L599.7 409.6 L598.9 409.5 L598.9 409.5 L598.2 409.4 L597.2 413.1 L593.8 412.0 L593.6 407.9 L592.9 407.6 L592.9 407.6 L592.2 407.2 L590.1 410.0 L587.1 407.6 L588.2 403.9 L587.6 403.3 L587.6 403.3 L587.0 402.6 L584.0 404.1 L581.9 400.8 L584.0 398.0 L583.7 397.2 L583.7 397.2 L583.3 396.4 L579.9 396.4 L578.8 392.5 L581.8 391.0 L581.7 390.1 L581.7 390.1 L581.6 389.3 L578.2 387.8 L578.3 383.9 L581.7 383.9 L581.9 383.0 L581.9 383.0 L582.1 382.2 L579.2 379.5 L580.5 376.1 L583.9 377.6 L584.3 376.9 L584.3 376.9 L584.7 376.3 L582.7 372.6 L585.1 370.2 L587.9 372.9 L588.5 372.5 L588.5 372.5 L589.1 372.2 L588.3 368.1 L591.4 367.0 L593.3 370.6 L594.0 370.5 L594.0 370.5 L594.8 370.5 L595.2 366.5 L598.5 366.9 L599.4 370.9 L600.1 371.1 L600.1 371.1 L600.8 371.4 L602.5 368.1 L605.7 369.9 L605.2 373.8 L605.9 374.3 L605.9 374.3 L606.5 374.8 L609.1 372.7 L611.8 375.6 L610.1 378.9 L610.6 379.6 L610.6 379.6 L611.1 380.3 L614.3 379.6 L616.0 383.3 L613.3 385.4 L613.6 386.3 L613.6 386.3 L613.8 387.1 L617.3 387.9 L617.8 391.9 L614.5 392.6 L614.5 393.5 L614.5 393.5 L614.5 394.3 L617.6 396.5 L616.9 400.2 L613.5 399.5 L613.2 400.2 L613.2 400.2 L612.9 400.9 L615.4 404.2 L613.5 407.1 L610.3 405.0 L609.8 405.5 L609.8 405.5 L609.3 406.1 L610.7 410.0 L608.0 411.8 L605.5 408.5 L604.8 408.8Z" fill="#f3f4f4" stroke="#151515" stroke-width="1.3" stroke-linejoin="round"/>
<path d="M585 373 Q590 366 600 370 L618 392 Q620 402 610 402 L592 396 Q583 390 585 373Z" fill="#f3f4f4" stroke="#151515" stroke-width="1.2"/>
<path d="M588 380 L606 399" stroke="#151515" stroke-width="9" stroke-linecap="round" fill="none"/>
<path d="M588 380 L606 399" stroke="#f0f1f1" stroke-width="6.5" stroke-linecap="round" fill="none"/>
<path d="M596 389 L605 398" stroke="#8a8a8a" stroke-width="4" stroke-linecap="round" fill="none"/>
<circle cx="597" cy="377" r="4.5" fill="#f3f4f4" stroke="#151515" stroke-width="1.1"/>
<path d="M617.1 330.1 L616.4 330.3 L617.4 335.7 L614.2 336.4 L611.8 331.3 L611.0 331.3 L611.0 331.3 L610.2 331.3 L610.3 336.5 L606.9 336.1 L605.3 330.7 L604.5 330.5 L604.5 330.5 L603.7 330.3 L602.8 335.0 L599.2 333.6 L598.6 328.2 L597.8 327.8 L597.8 327.8 L597.0 327.4 L595.2 331.3 L591.8 329.0 L592.1 323.9 L591.3 323.3 L591.3 323.3 L590.6 322.7 L587.9 325.7 L584.8 322.5 L586.1 318.1 L585.5 317.3 L585.5 317.3 L584.8 316.5 L581.4 318.4 L578.8 314.6 L581.0 310.9 L580.5 310.0 L580.5 310.0 L580.0 309.1 L576.1 309.8 L574.1 305.5 L577.0 302.9 L576.7 301.9 L576.7 301.9 L576.3 300.9 L572.1 300.4 L570.8 295.9 L574.4 294.5 L574.2 293.5 L574.2 293.5 L574.0 292.4 L569.8 290.7 L569.3 286.2 L573.3 286.0 L573.2 285.1 L573.2 285.1 L573.2 284.1 L569.1 281.2 L569.5 277.0 L573.7 278.1 L573.8 277.2 L573.8 277.2 L574.0 276.3 L570.3 272.4 L571.4 268.8 L575.6 271.0 L575.9 270.2 L575.9 270.2 L576.3 269.5 L573.2 264.8 L575.0 261.9 L579.0 265.2 L579.5 264.6 L579.5 264.6 L580.0 264.0 L577.6 258.9 L580.1 256.8 L583.6 261.0 L584.2 260.6 L584.2 260.6 L584.8 260.3 L583.3 254.9 L586.3 253.7 L589.2 258.6 L589.9 258.5 L589.9 258.5 L590.6 258.3 L590.1 253.0 L593.4 252.9 L595.4 258.2 L596.2 258.2 L596.2 258.2 L597.0 258.4 L597.4 253.4 L600.9 254.3 L602.1 259.7 L602.9 260.0 L602.9 260.0 L603.7 260.3 L605.1 256.0 L608.6 257.9 L608.7 263.1 L609.5 263.6 L609.5 263.6 L610.3 264.2 L612.5 260.7 L615.8 263.5 L615.0 268.2 L615.7 268.9 L615.7 268.9 L616.4 269.7 L619.4 267.2 L622.3 270.7 L620.6 274.8 L621.2 275.6 L621.2 275.6 L621.8 276.5 L625.4 275.2 L627.7 279.3 L625.1 282.4 L625.6 283.4 L625.6 283.4 L626.0 284.3 L630.1 284.3 L631.8 288.6 L628.4 290.7 L628.8 291.7 L628.8 291.7 L629.0 292.7 L633.3 293.9 L634.2 298.3 L630.3 299.2 L630.5 300.2 L630.5 300.2 L630.6 301.2 L634.8 303.5 L634.9 307.9 L630.7 307.4 L630.7 308.4 L630.7 308.4 L630.6 309.3 L634.5 312.7 L633.8 316.7 L629.5 315.0 L629.3 315.8 L629.3 315.8 L629.0 316.7 L632.5 321.0 L631.0 324.3 L626.9 321.5 L626.5 322.2 L626.5 322.2 L626.0 322.8 L628.8 327.8 L626.6 330.3 L622.9 326.5 L622.3 327.0 L622.3 327.0 L621.7 327.5 L623.7 332.8 L620.9 334.4 L617.7 329.8 L617.1 330.1Z" fill="#f3f4f4" stroke="#151515" stroke-width="1.3" stroke-linejoin="round"/>
<path d="M604.1 338.1 L603.4 338.3 L616.4 330.3 L617.1 330.1ZM603.4 338.3 L604.4 343.7 L617.4 335.7 L616.4 330.3ZM604.4 343.7 L601.2 344.4 L614.2 336.4 L617.4 335.7ZM601.2 344.4 L598.8 339.3 L611.8 331.3 L614.2 336.4ZM598.8 339.3 L598.0 339.3 L611.0 331.3 L611.8 331.3ZM598.0 339.3 L598.0 339.3 L611.0 331.3 L611.0 331.3ZM598.0 339.3 L597.2 339.3 L610.2 331.3 L611.0 331.3ZM597.2 339.3 L597.3 344.5 L610.3 336.5 L610.2 331.3ZM597.3 344.5 L593.9 344.1 L606.9 336.1 L610.3 336.5ZM593.9 344.1 L592.3 338.7 L605.3 330.7 L606.9 336.1ZM592.3 338.7 L591.5 338.5 L604.5 330.5 L605.3 330.7ZM591.5 338.5 L591.5 338.5 L604.5 330.5 L604.5 330.5ZM591.5 338.5 L590.7 338.3 L603.7 330.3 L604.5 330.5ZM590.7 338.3 L589.8 343.0 L602.8 335.0 L603.7 330.3ZM589.8 343.0 L586.2 341.6 L599.2 333.6 L602.8 335.0ZM586.2 341.6 L585.6 336.2 L598.6 328.2 L599.2 333.6ZM585.6 336.2 L584.8 335.8 L597.8 327.8 L598.6 328.2ZM584.8 335.8 L584.8 335.8 L597.8 327.8 L597.8 327.8ZM584.8 335.8 L584.0 335.4 L597.0 327.4 L597.8 327.8ZM584.0 335.4 L582.2 339.3 L595.2 331.3 L597.0 327.4ZM582.2 339.3 L578.8 337.0 L591.8 329.0 L595.2 331.3ZM578.8 337.0 L579.1 331.9 L592.1 323.9 L591.8 329.0ZM579.1 331.9 L578.3 331.3 L591.3 323.3 L592.1 323.9ZM578.3 331.3 L578.3 331.3 L591.3 323.3 L591.3 323.3ZM578.3 331.3 L577.6 330.7 L590.6 322.7 L591.3 323.3ZM577.6 330.7 L574.9 333.7 L587.9 325.7 L590.6 322.7ZM574.9 333.7 L571.8 330.5 L584.8 322.5 L587.9 325.7ZM571.8 330.5 L573.1 326.1 L586.1 318.1 L584.8 322.5ZM573.1 326.1 L572.5 325.3 L585.5 317.3 L586.1 318.1ZM572.5 325.3 L572.5 325.3 L585.5 317.3 L585.5 317.3ZM572.5 325.3 L571.8 324.5 L584.8 316.5 L585.5 317.3ZM571.8 324.5 L568.4 326.4 L581.4 318.4 L584.8 316.5ZM568.4 326.4 L565.8 322.6 L578.8 314.6 L581.4 318.4ZM565.8 322.6 L568.0 318.9 L581.0 310.9 L578.8 314.6ZM568.0 318.9 L567.5 318.0 L580.5 310.0 L581.0 310.9ZM567.5 318.0 L567.5 318.0 L580.5 310.0 L580.5 310.0ZM567.5 318.0 L567.0 317.1 L580.0 309.1 L580.5 310.0ZM567.0 317.1 L563.1 317.8 L576.1 309.8 L580.0 309.1ZM563.1 317.8 L561.1 313.5 L574.1 305.5 L576.1 309.8ZM561.1 313.5 L564.0 310.9 L577.0 302.9 L574.1 305.5ZM564.0 310.9 L563.7 309.9 L576.7 301.9 L577.0 302.9ZM563.7 309.9 L563.7 309.9 L576.7 301.9 L576.7 301.9ZM563.7 309.9 L563.3 308.9 L576.3 300.9 L576.7 301.9ZM563.3 308.9 L559.1 308.4 L572.1 300.4 L576.3 300.9ZM559.1 308.4 L557.8 303.9 L570.8 295.9 L572.1 300.4ZM557.8 303.9 L561.4 302.5 L574.4 294.5 L570.8 295.9ZM561.4 302.5 L561.2 301.5 L574.2 293.5 L574.4 294.5ZM561.2 301.5 L561.2 301.5 L574.2 293.5 L574.2 293.5ZM561.2 301.5 L561.0 300.4 L574.0 292.4 L574.2 293.5ZM561.0 300.4 L556.8 298.7 L569.8 290.7 L574.0 292.4ZM556.8 298.7 L556.3 294.2 L569.3 286.2 L569.8 290.7ZM556.3 294.2 L560.3 294.0 L573.3 286.0 L569.3 286.2ZM560.3 294.0 L560.2 293.1 L573.2 285.1 L573.3 286.0ZM560.2 293.1 L560.2 293.1 L573.2 285.1 L573.2 285.1ZM560.2 293.1 L560.2 292.1 L573.2 284.1 L573.2 285.1ZM560.2 292.1 L556.1 289.2 L569.1 281.2 L573.2 284.1ZM556.1 289.2 L556.5 285.0 L569.5 277.0 L569.1 281.2ZM556.5 285.0 L560.7 286.1 L573.7 278.1 L569.5 277.0ZM560.7 286.1 L560.8 285.2 L573.8 277.2 L573.7 278.1ZM560.8 285.2 L560.8 285.2 L573.8 277.2 L573.8 277.2ZM560.8 285.2 L561.0 284.3 L574.0 276.3 L573.8 277.2ZM561.0 284.3 L557.3 280.4 L570.3 272.4 L574.0 276.3ZM557.3 280.4 L558.4 276.8 L571.4 268.8 L570.3 272.4ZM558.4 276.8 L562.6 279.0 L575.6 271.0 L571.4 268.8ZM562.6 279.0 L562.9 278.2 L575.9 270.2 L575.6 271.0ZM562.9 278.2 L562.9 278.2 L575.9 270.2 L575.9 270.2ZM562.9 278.2 L563.3 277.5 L576.3 269.5 L575.9 270.2ZM563.3 277.5 L560.2 272.8 L573.2 264.8 L576.3 269.5ZM560.2 272.8 L562.0 269.9 L575.0 261.9 L573.2 264.8ZM562.0 269.9 L566.0 273.2 L579.0 265.2 L575.0 261.9ZM566.0 273.2 L566.5 272.6 L579.5 264.6 L579.0 265.2ZM566.5 272.6 L566.5 272.6 L579.5 264.6 L579.5 264.6ZM566.5 272.6 L567.0 272.0 L580.0 264.0 L579.5 264.6ZM567.0 272.0 L564.6 266.9 L577.6 258.9 L580.0 264.0ZM564.6 266.9 L567.1 264.8 L580.1 256.8 L577.6 258.9ZM567.1 264.8 L570.6 269.0 L583.6 261.0 L580.1 256.8ZM570.6 269.0 L571.2 268.6 L584.2 260.6 L583.6 261.0ZM571.2 268.6 L571.2 268.6 L584.2 260.6 L584.2 260.6ZM571.2 268.6 L571.8 268.3 L584.8 260.3 L584.2 260.6ZM571.8 268.3 L570.3 262.9 L583.3 254.9 L584.8 260.3ZM570.3 262.9 L573.3 261.7 L586.3 253.7 L583.3 254.9ZM573.3 261.7 L576.2 266.6 L589.2 258.6 L586.3 253.7ZM576.2 266.6 L576.9 266.5 L589.9 258.5 L589.2 258.6ZM576.9 266.5 L576.9 266.5 L589.9 258.5 L589.9 258.5ZM576.9 266.5 L577.6 266.3 L590.6 258.3 L589.9 258.5ZM577.6 266.3 L577.1 261.0 L590.1 253.0 L590.6 258.3ZM577.1 261.0 L580.4 260.9 L593.4 252.9 L590.1 253.0ZM580.4 260.9 L582.4 266.2 L595.4 258.2 L593.4 252.9ZM582.4 266.2 L583.2 266.2 L596.2 258.2 L595.4 258.2ZM583.2 266.2 L583.2 266.2 L596.2 258.2 L596.2 258.2ZM583.2 266.2 L584.0 266.4 L597.0 258.4 L596.2 258.2ZM584.0 266.4 L584.4 261.4 L597.4 253.4 L597.0 258.4ZM584.4 261.4 L587.9 262.3 L600.9 254.3 L597.4 253.4ZM587.9 262.3 L589.1 267.7 L602.1 259.7 L600.9 254.3ZM589.1 267.7 L589.9 268.0 L602.9 260.0 L602.1 259.7ZM589.9 268.0 L589.9 268.0 L602.9 260.0 L602.9 260.0ZM589.9 268.0 L590.7 268.3 L603.7 260.3 L602.9 260.0ZM590.7 268.3 L592.1 264.0 L605.1 256.0 L603.7 260.3ZM592.1 264.0 L595.6 265.9 L608.6 257.9 L605.1 256.0ZM595.6 265.9 L595.7 271.1 L608.7 263.1 L608.6 257.9ZM595.7 271.1 L596.5 271.6 L609.5 263.6 L608.7 263.1ZM596.5 271.6 L596.5 271.6 L609.5 263.6 L609.5 263.6ZM596.5 271.6 L597.3 272.2 L610.3 264.2 L609.5 263.6ZM597.3 272.2 L599.5 268.7 L612.5 260.7 L610.3 264.2ZM599.5 268.7 L602.8 271.5 L615.8 263.5 L612.5 260.7ZM602.8 271.5 L602.0 276.2 L615.0 268.2 L615.8 263.5ZM602.0 276.2 L602.7 276.9 L615.7 268.9 L615.0 268.2ZM602.7 276.9 L602.7 276.9 L615.7 268.9 L615.7 268.9ZM602.7 276.9 L603.4 277.7 L616.4 269.7 L615.7 268.9ZM603.4 277.7 L606.4 275.2 L619.4 267.2 L616.4 269.7ZM606.4 275.2 L609.3 278.7 L622.3 270.7 L619.4 267.2ZM609.3 278.7 L607.6 282.8 L620.6 274.8 L622.3 270.7ZM607.6 282.8 L608.2 283.6 L621.2 275.6 L620.6 274.8ZM608.2 283.6 L608.2 283.6 L621.2 275.6 L621.2 275.6ZM608.2 283.6 L608.8 284.5 L621.8 276.5 L621.2 275.6ZM608.8 284.5 L612.4 283.2 L625.4 275.2 L621.8 276.5ZM612.4 283.2 L614.7 287.3 L627.7 279.3 L625.4 275.2ZM614.7 287.3 L612.1 290.4 L625.1 282.4 L627.7 279.3ZM612.1 290.4 L612.6 291.4 L625.6 283.4 L625.1 282.4ZM612.6 291.4 L612.6 291.4 L625.6 283.4 L625.6 283.4ZM612.6 291.4 L613.0 292.3 L626.0 284.3 L625.6 283.4ZM613.0 292.3 L617.1 292.3 L630.1 284.3 L626.0 284.3ZM617.1 292.3 L618.8 296.6 L631.8 288.6 L630.1 284.3ZM618.8 296.6 L615.4 298.7 L628.4 290.7 L631.8 288.6ZM615.4 298.7 L615.8 299.7 L628.8 291.7 L628.4 290.7ZM615.8 299.7 L615.8 299.7 L628.8 291.7 L628.8 291.7ZM615.8 299.7 L616.0 300.7 L629.0 292.7 L628.8 291.7ZM616.0 300.7 L620.3 301.9 L633.3 293.9 L629.0 292.7ZM620.3 301.9 L621.2 306.3 L634.2 298.3 L633.3 293.9ZM621.2 306.3 L617.3 307.2 L630.3 299.2 L634.2 298.3ZM617.3 307.2 L617.5 308.2 L630.5 300.2 L630.3 299.2ZM617.5 308.2 L617.5 308.2 L630.5 300.2 L630.5 300.2ZM617.5 308.2 L617.6 309.2 L630.6 301.2 L630.5 300.2ZM617.6 309.2 L621.8 311.5 L634.8 303.5 L630.6 301.2ZM621.8 311.5 L621.9 315.9 L634.9 307.9 L634.8 303.5ZM621.9 315.9 L617.7 315.4 L630.7 307.4 L634.9 307.9ZM617.7 315.4 L617.7 316.4 L630.7 308.4 L630.7 307.4ZM617.7 316.4 L617.7 316.4 L630.7 308.4 L630.7 308.4ZM617.7 316.4 L617.6 317.3 L630.6 309.3 L630.7 308.4ZM617.6 317.3 L621.5 320.7 L634.5 312.7 L630.6 309.3ZM621.5 320.7 L620.8 324.7 L633.8 316.7 L634.5 312.7ZM620.8 324.7 L616.5 323.0 L629.5 315.0 L633.8 316.7ZM616.5 323.0 L616.3 323.8 L629.3 315.8 L629.5 315.0ZM616.3 323.8 L616.3 323.8 L629.3 315.8 L629.3 315.8ZM616.3 323.8 L616.0 324.7 L629.0 316.7 L629.3 315.8ZM616.0 324.7 L619.5 329.0 L632.5 321.0 L629.0 316.7ZM619.5 329.0 L618.0 332.3 L631.0 324.3 L632.5 321.0ZM618.0 332.3 L613.9 329.5 L626.9 321.5 L631.0 324.3ZM613.9 329.5 L613.5 330.2 L626.5 322.2 L626.9 321.5ZM613.5 330.2 L613.5 330.2 L626.5 322.2 L626.5 322.2ZM613.5 330.2 L613.0 330.8 L626.0 322.8 L626.5 322.2ZM613.0 330.8 L615.8 335.8 L628.8 327.8 L626.0 322.8ZM615.8 335.8 L613.6 338.3 L626.6 330.3 L628.8 327.8ZM613.6 338.3 L609.9 334.5 L622.9 326.5 L626.6 330.3ZM609.9 334.5 L609.3 335.0 L622.3 327.0 L622.9 326.5ZM609.3 335.0 L609.3 335.0 L622.3 327.0 L622.3 327.0ZM609.3 335.0 L608.7 335.5 L621.7 327.5 L622.3 327.0ZM608.7 335.5 L610.7 340.8 L623.7 332.8 L621.7 327.5ZM610.7 340.8 L607.9 342.4 L620.9 334.4 L623.7 332.8ZM607.9 342.4 L604.7 337.8 L617.7 329.8 L620.9 334.4ZM604.7 337.8 L604.1 338.1 L617.1 330.1 L617.7 329.8ZM604.1 338.1 L604.1 338.1 L617.1 330.1 L617.1 330.1Z" fill="#f3f4f4" stroke="none"/>
<path d="M604.4 343.7 L617.4 335.7M601.2 344.4 L614.2 336.4M597.3 344.5 L610.3 336.5M593.9 344.1 L606.9 336.1M589.8 343.0 L602.8 335.0M586.2 341.6 L599.2 333.6M587.9 262.3 L600.9 254.3M592.1 264.0 L605.1 256.0M595.6 265.9 L608.6 257.9M599.5 268.7 L612.5 260.7M602.8 271.5 L615.8 263.5M606.4 275.2 L619.4 267.2M609.3 278.7 L622.3 270.7M612.4 283.2 L625.4 275.2M614.7 287.3 L627.7 279.3M617.1 292.3 L630.1 284.3M618.8 296.6 L631.8 288.6M620.3 301.9 L633.3 293.9M621.2 306.3 L634.2 298.3M621.8 311.5 L634.8 303.5M621.9 315.9 L634.9 307.9M621.5 320.7 L634.5 312.7M620.8 324.7 L633.8 316.7M619.5 329.0 L632.5 321.0M618.0 332.3 L631.0 324.3M615.8 335.8 L628.8 327.8M613.6 338.3 L626.6 330.3M610.7 340.8 L623.7 332.8M607.9 342.4 L620.9 334.4" fill="none" stroke="#151515" stroke-width="1.10"/>
<path d="M604.1 338.1 L603.4 338.3 L604.4 343.7 L601.2 344.4 L598.8 339.3 L598.0 339.3 L598.0 339.3 L597.2 339.3 L597.3 344.5 L593.9 344.1 L592.3 338.7 L591.5 338.5 L591.5 338.5 L590.7 338.3 L589.8 343.0 L586.2 341.6 L585.6 336.2 L584.8 335.8 L584.8 335.8 L584.0 335.4 L582.2 339.3 L578.8 337.0 L579.1 331.9 L578.3 331.3 L578.3 331.3 L577.6 330.7 L574.9 333.7 L571.8 330.5 L573.1 326.1 L572.5 325.3 L572.5 325.3 L571.8 324.5 L568.4 326.4 L565.8 322.6 L568.0 318.9 L567.5 318.0 L567.5 318.0 L567.0 317.1 L563.1 317.8 L561.1 313.5 L564.0 310.9 L563.7 309.9 L563.7 309.9 L563.3 308.9 L559.1 308.4 L557.8 303.9 L561.4 302.5 L561.2 301.5 L561.2 301.5 L561.0 300.4 L556.8 298.7 L556.3 294.2 L560.3 294.0 L560.2 293.1 L560.2 293.1 L560.2 292.1 L556.1 289.2 L556.5 285.0 L560.7 286.1 L560.8 285.2 L560.8 285.2 L561.0 284.3 L557.3 280.4 L558.4 276.8 L562.6 279.0 L562.9 278.2 L562.9 278.2 L563.3 277.5 L560.2 272.8 L562.0 269.9 L566.0 273.2 L566.5 272.6 L566.5 272.6 L567.0 272.0 L564.6 266.9 L567.1 264.8 L570.6 269.0 L571.2 268.6 L571.2 268.6 L571.8 268.3 L570.3 262.9 L573.3 261.7 L576.2 266.6 L576.9 266.5 L576.9 266.5 L577.6 266.3 L577.1 261.0 L580.4 260.9 L582.4 266.2 L583.2 266.2 L583.2 266.2 L584.0 266.4 L584.4 261.4 L587.9 262.3 L589.1 267.7 L589.9 268.0 L589.9 268.0 L590.7 268.3 L592.1 264.0 L595.6 265.9 L595.7 271.1 L596.5 271.6 L596.5 271.6 L597.3 272.2 L599.5 268.7 L602.8 271.5 L602.0 276.2 L602.7 276.9 L602.7 276.9 L603.4 277.7 L606.4 275.2 L609.3 278.7 L607.6 282.8 L608.2 283.6 L608.2 283.6 L608.8 284.5 L612.4 283.2 L614.7 287.3 L612.1 290.4 L612.6 291.4 L612.6 291.4 L613.0 292.3 L617.1 292.3 L618.8 296.6 L615.4 298.7 L615.8 299.7 L615.8 299.7 L616.0 300.7 L620.3 301.9 L621.2 306.3 L617.3 307.2 L617.5 308.2 L617.5 308.2 L617.6 309.2 L621.8 311.5 L621.9 315.9 L617.7 315.4 L617.7 316.4 L617.7 316.4 L617.6 317.3 L621.5 320.7 L620.8 324.7 L616.5 323.0 L616.3 323.8 L616.3 323.8 L616.0 324.7 L619.5 329.0 L618.0 332.3 L613.9 329.5 L613.5 330.2 L613.5 330.2 L613.0 330.8 L615.8 335.8 L613.6 338.3 L609.9 334.5 L609.3 335.0 L609.3 335.0 L608.7 335.5 L610.7 340.8 L607.9 342.4 L604.7 337.8 L604.1 338.1Z" fill="#f3f4f4" stroke="#151515" stroke-width="1.3" stroke-linejoin="round"/>
<ellipse cx="589.0" cy="302.7" rx="24.5" ry="16.7" transform="rotate(65 589.0 302.7)" fill="#f3f4f4" stroke="#151515" stroke-width="1.2"/>
<path d="M582 278.5 L584 293 M586 318 L598 327 M568 303 L576 303" stroke="#151515" stroke-width="1.1" fill="none"/>
<ellipse cx="594" cy="299" rx="12" ry="8.5" transform="rotate(65 594 299)" fill="#d5d5d3" stroke="#151515" stroke-width="1.1"/>
<path d="M577 300 L591 289 L602 311 L588 320 Z" fill="#d5d5d3" stroke="none"/>
<path d="M580 293 L590 286 M589 319 L600 311" stroke="#151515" stroke-width="1.1" fill="none"/>
<ellipse cx="585" cy="305" rx="12" ry="8.5" transform="rotate(65 585 305)" fill="#f3f4f4" stroke="#151515" stroke-width="1.2"/>
<ellipse cx="583.5" cy="306" rx="8" ry="5.8" transform="rotate(65 583.5 306)" fill="#ececea" stroke="#151515" stroke-width="1.1"/>
<ellipse cx="583" cy="306.5" rx="4.5" ry="3.2" transform="rotate(65 583 306.5)" fill="none" stroke="#444" stroke-width="0.9"/>
<path d="M341.7 410.0 L345.6 406.5 L353.4 411.5 L362.8 411.0 L391.0 394.0 L390.0 377.0 L393.0 375.0 L397.2 375.6 L403.4 382.7 L412.8 383.4 L414.2 375.8 L417.0 373.3 L420.5 373.8 L423.8 380.3 L424.5 396.5 L366.0 432.7 L361.0 431.5 L342.5 420.5Z" fill="#f3f4f4" stroke="#151515" stroke-width="1.4" stroke-linejoin="round"/>
<path d="M366 425 L422 392 M366 415.5 L405 392 M405 392 L412 396 M391 394 L403 389" fill="none" stroke="#151515" stroke-width="1.1"/>
<path d="M366 428 L424 394" fill="none" stroke="#151515" stroke-width="0.9"/>
<ellipse cx="361.5" cy="420" rx="4.5" ry="5.5" transform="rotate(-20 361.5 420)" fill="#f3f4f4" stroke="#151515" stroke-width="1.2"/>
<path d="M398 388 a2.5 2.5 0 0 0 5 2" fill="none" stroke="#151515" stroke-width="1"/>
<path d="M388.7 677.3 L388.0 677.3 L387.3 682.2 L384.1 681.8 L383.4 676.7 L382.7 676.5 L382.7 676.5 L382.0 676.3 L380.4 680.7 L377.3 679.3 L377.5 674.2 L376.9 673.8 L376.9 673.8 L376.2 673.3 L373.8 677.0 L371.0 674.6 L372.2 669.9 L371.6 669.3 L371.6 669.3 L371.0 668.7 L367.9 671.3 L365.5 668.1 L367.6 664.1 L367.2 663.3 L367.2 663.3 L366.7 662.5 L363.1 664.0 L361.4 660.2 L364.2 657.1 L363.9 656.2 L363.9 656.2 L363.6 655.3 L359.8 655.5 L358.7 651.4 L362.1 649.4 L362.0 648.4 L362.0 648.4 L361.9 647.5 L358.0 646.4 L357.8 642.2 L361.5 641.4 L361.6 640.5 L361.6 640.5 L361.6 639.5 L358.0 637.2 L358.6 633.2 L362.4 633.7 L362.6 632.8 L362.6 632.8 L362.9 632.0 L359.7 628.6 L361.0 624.9 L364.8 626.7 L365.2 626.0 L365.2 626.0 L365.5 625.2 L363.0 621.0 L365.0 618.0 L368.4 621.0 L368.9 620.4 L368.9 620.4 L369.5 619.8 L367.8 615.0 L370.3 612.8 L373.2 616.7 L373.8 616.3 L373.8 616.3 L374.4 615.9 L373.6 610.8 L376.6 609.7 L378.7 614.3 L379.3 614.1 L379.3 614.1 L380.0 614.0 L380.2 608.9 L383.4 608.8 L384.6 613.8 L385.3 613.9 L385.3 613.9 L386.0 614.0 L387.2 609.2 L390.3 610.2 L390.6 615.3 L391.3 615.6 L391.3 615.6 L392.0 616.0 L394.0 611.9 L397.0 613.8 L396.2 618.7 L396.9 619.2 L396.9 619.2 L397.5 619.8 L400.3 616.6 L402.9 619.4 L401.2 623.8 L401.8 624.5 L401.8 624.5 L402.3 625.3 L405.6 623.2 L407.7 626.7 L405.2 630.3 L405.6 631.1 L405.6 631.1 L406.0 632.0 L409.7 631.1 L411.1 635.1 L408.0 637.7 L408.2 638.6 L408.2 638.6 L408.5 639.6 L412.3 640.0 L413.0 644.2 L409.4 645.6 L409.4 646.6 L409.4 646.6 L409.5 647.5 L413.2 649.2 L413.0 653.4 L409.2 653.5 L409.1 654.4 L409.1 654.4 L408.9 655.3 L412.4 658.2 L411.4 662.1 L407.6 660.9 L407.3 661.7 L407.3 661.7 L407.0 662.5 L409.8 666.4 L408.1 669.7 L404.5 667.3 L404.1 668.0 L404.1 668.0 L403.6 668.7 L405.8 673.2 L403.5 675.8 L400.3 672.4 L399.8 672.9 L399.8 672.9 L399.2 673.4 L400.4 678.4 L397.6 680.0 L395.2 675.8 L394.5 676.0 L394.5 676.0 L393.8 676.3 L394.2 681.4 L391.1 682.1 L389.4 677.2 L388.7 677.3Z" fill="#f3f4f4" stroke="#151515" stroke-width="1.3" stroke-linejoin="round"/>
<path d="M377.7 681.3 L377.0 681.3 L388.0 677.3 L388.7 677.3ZM377.0 681.3 L376.3 686.2 L387.3 682.2 L388.0 677.3ZM376.3 686.2 L373.1 685.8 L384.1 681.8 L387.3 682.2ZM373.1 685.8 L372.4 680.7 L383.4 676.7 L384.1 681.8ZM372.4 680.7 L371.7 680.5 L382.7 676.5 L383.4 676.7ZM371.7 680.5 L371.7 680.5 L382.7 676.5 L382.7 676.5ZM371.7 680.5 L371.0 680.3 L382.0 676.3 L382.7 676.5ZM371.0 680.3 L369.4 684.7 L380.4 680.7 L382.0 676.3ZM369.4 684.7 L366.3 683.3 L377.3 679.3 L380.4 680.7ZM366.3 683.3 L366.5 678.2 L377.5 674.2 L377.3 679.3ZM366.5 678.2 L365.9 677.8 L376.9 673.8 L377.5 674.2ZM365.9 677.8 L365.9 677.8 L376.9 673.8 L376.9 673.8ZM365.9 677.8 L365.2 677.3 L376.2 673.3 L376.9 673.8ZM365.2 677.3 L362.8 681.0 L373.8 677.0 L376.2 673.3ZM362.8 681.0 L360.0 678.6 L371.0 674.6 L373.8 677.0ZM360.0 678.6 L361.2 673.9 L372.2 669.9 L371.0 674.6ZM361.2 673.9 L360.6 673.3 L371.6 669.3 L372.2 669.9ZM360.6 673.3 L360.6 673.3 L371.6 669.3 L371.6 669.3ZM360.6 673.3 L360.0 672.7 L371.0 668.7 L371.6 669.3ZM360.0 672.7 L356.9 675.3 L367.9 671.3 L371.0 668.7ZM356.9 675.3 L354.5 672.1 L365.5 668.1 L367.9 671.3ZM354.5 672.1 L356.6 668.1 L367.6 664.1 L365.5 668.1ZM356.6 668.1 L356.2 667.3 L367.2 663.3 L367.6 664.1ZM356.2 667.3 L356.2 667.3 L367.2 663.3 L367.2 663.3ZM356.2 667.3 L355.7 666.5 L366.7 662.5 L367.2 663.3ZM355.7 666.5 L352.1 668.0 L363.1 664.0 L366.7 662.5ZM352.1 668.0 L350.4 664.2 L361.4 660.2 L363.1 664.0ZM350.4 664.2 L353.2 661.1 L364.2 657.1 L361.4 660.2ZM353.2 661.1 L352.9 660.2 L363.9 656.2 L364.2 657.1ZM352.9 660.2 L352.9 660.2 L363.9 656.2 L363.9 656.2ZM352.9 660.2 L352.6 659.3 L363.6 655.3 L363.9 656.2ZM352.6 659.3 L348.8 659.5 L359.8 655.5 L363.6 655.3ZM348.8 659.5 L347.7 655.4 L358.7 651.4 L359.8 655.5ZM347.7 655.4 L351.1 653.4 L362.1 649.4 L358.7 651.4ZM351.1 653.4 L351.0 652.4 L362.0 648.4 L362.1 649.4ZM351.0 652.4 L351.0 652.4 L362.0 648.4 L362.0 648.4ZM351.0 652.4 L350.9 651.5 L361.9 647.5 L362.0 648.4ZM350.9 651.5 L347.0 650.4 L358.0 646.4 L361.9 647.5ZM347.0 650.4 L346.8 646.2 L357.8 642.2 L358.0 646.4ZM346.8 646.2 L350.5 645.4 L361.5 641.4 L357.8 642.2ZM350.5 645.4 L350.6 644.5 L361.6 640.5 L361.5 641.4ZM350.6 644.5 L350.6 644.5 L361.6 640.5 L361.6 640.5ZM350.6 644.5 L350.6 643.5 L361.6 639.5 L361.6 640.5ZM350.6 643.5 L347.0 641.2 L358.0 637.2 L361.6 639.5ZM347.0 641.2 L347.6 637.2 L358.6 633.2 L358.0 637.2ZM347.6 637.2 L351.4 637.7 L362.4 633.7 L358.6 633.2ZM351.4 637.7 L351.6 636.8 L362.6 632.8 L362.4 633.7ZM351.6 636.8 L351.6 636.8 L362.6 632.8 L362.6 632.8ZM351.6 636.8 L351.9 636.0 L362.9 632.0 L362.6 632.8ZM351.9 636.0 L348.7 632.6 L359.7 628.6 L362.9 632.0ZM348.7 632.6 L350.0 628.9 L361.0 624.9 L359.7 628.6ZM350.0 628.9 L353.8 630.7 L364.8 626.7 L361.0 624.9ZM353.8 630.7 L354.2 630.0 L365.2 626.0 L364.8 626.7ZM354.2 630.0 L354.2 630.0 L365.2 626.0 L365.2 626.0ZM354.2 630.0 L354.5 629.2 L365.5 625.2 L365.2 626.0ZM354.5 629.2 L352.0 625.0 L363.0 621.0 L365.5 625.2ZM352.0 625.0 L354.0 622.0 L365.0 618.0 L363.0 621.0ZM354.0 622.0 L357.4 625.0 L368.4 621.0 L365.0 618.0ZM357.4 625.0 L357.9 624.4 L368.9 620.4 L368.4 621.0ZM357.9 624.4 L357.9 624.4 L368.9 620.4 L368.9 620.4ZM357.9 624.4 L358.5 623.8 L369.5 619.8 L368.9 620.4ZM358.5 623.8 L356.8 619.0 L367.8 615.0 L369.5 619.8ZM356.8 619.0 L359.3 616.8 L370.3 612.8 L367.8 615.0ZM359.3 616.8 L362.2 620.7 L373.2 616.7 L370.3 612.8ZM362.2 620.7 L362.8 620.3 L373.8 616.3 L373.2 616.7ZM362.8 620.3 L362.8 620.3 L373.8 616.3 L373.8 616.3ZM362.8 620.3 L363.4 619.9 L374.4 615.9 L373.8 616.3ZM363.4 619.9 L362.6 614.8 L373.6 610.8 L374.4 615.9ZM362.6 614.8 L365.6 613.7 L376.6 609.7 L373.6 610.8ZM365.6 613.7 L367.7 618.3 L378.7 614.3 L376.6 609.7ZM367.7 618.3 L368.3 618.1 L379.3 614.1 L378.7 614.3ZM368.3 618.1 L368.3 618.1 L379.3 614.1 L379.3 614.1ZM368.3 618.1 L369.0 618.0 L380.0 614.0 L379.3 614.1ZM369.0 618.0 L369.2 612.9 L380.2 608.9 L380.0 614.0ZM369.2 612.9 L372.4 612.8 L383.4 608.8 L380.2 608.9ZM372.4 612.8 L373.6 617.8 L384.6 613.8 L383.4 608.8ZM373.6 617.8 L374.3 617.9 L385.3 613.9 L384.6 613.8ZM374.3 617.9 L374.3 617.9 L385.3 613.9 L385.3 613.9ZM374.3 617.9 L375.0 618.0 L386.0 614.0 L385.3 613.9ZM375.0 618.0 L376.2 613.2 L387.2 609.2 L386.0 614.0ZM376.2 613.2 L379.3 614.2 L390.3 610.2 L387.2 609.2ZM379.3 614.2 L379.6 619.3 L390.6 615.3 L390.3 610.2ZM379.6 619.3 L380.3 619.6 L391.3 615.6 L390.6 615.3ZM380.3 619.6 L380.3 619.6 L391.3 615.6 L391.3 615.6ZM380.3 619.6 L381.0 620.0 L392.0 616.0 L391.3 615.6ZM381.0 620.0 L383.0 615.9 L394.0 611.9 L392.0 616.0ZM383.0 615.9 L386.0 617.8 L397.0 613.8 L394.0 611.9ZM386.0 617.8 L385.2 622.7 L396.2 618.7 L397.0 613.8ZM385.2 622.7 L385.9 623.2 L396.9 619.2 L396.2 618.7ZM385.9 623.2 L385.9 623.2 L396.9 619.2 L396.9 619.2ZM385.9 623.2 L386.5 623.8 L397.5 619.8 L396.9 619.2ZM386.5 623.8 L389.3 620.6 L400.3 616.6 L397.5 619.8ZM389.3 620.6 L391.9 623.4 L402.9 619.4 L400.3 616.6ZM391.9 623.4 L390.2 627.8 L401.2 623.8 L402.9 619.4ZM390.2 627.8 L390.8 628.5 L401.8 624.5 L401.2 623.8ZM390.8 628.5 L390.8 628.5 L401.8 624.5 L401.8 624.5ZM390.8 628.5 L391.3 629.3 L402.3 625.3 L401.8 624.5ZM391.3 629.3 L394.6 627.2 L405.6 623.2 L402.3 625.3ZM394.6 627.2 L396.7 630.7 L407.7 626.7 L405.6 623.2ZM396.7 630.7 L394.2 634.3 L405.2 630.3 L407.7 626.7ZM394.2 634.3 L394.6 635.1 L405.6 631.1 L405.2 630.3ZM394.6 635.1 L394.6 635.1 L405.6 631.1 L405.6 631.1ZM394.6 635.1 L395.0 636.0 L406.0 632.0 L405.6 631.1ZM395.0 636.0 L398.7 635.1 L409.7 631.1 L406.0 632.0ZM398.7 635.1 L400.1 639.1 L411.1 635.1 L409.7 631.1ZM400.1 639.1 L397.0 641.7 L408.0 637.7 L411.1 635.1ZM397.0 641.7 L397.2 642.6 L408.2 638.6 L408.0 637.7ZM397.2 642.6 L397.2 642.6 L408.2 638.6 L408.2 638.6ZM397.2 642.6 L397.5 643.6 L408.5 639.6 L408.2 638.6ZM397.5 643.6 L401.3 644.0 L412.3 640.0 L408.5 639.6ZM401.3 644.0 L402.0 648.2 L413.0 644.2 L412.3 640.0ZM402.0 648.2 L398.4 649.6 L409.4 645.6 L413.0 644.2ZM398.4 649.6 L398.4 650.6 L409.4 646.6 L409.4 645.6ZM398.4 650.6 L398.4 650.6 L409.4 646.6 L409.4 646.6ZM398.4 650.6 L398.5 651.5 L409.5 647.5 L409.4 646.6ZM398.5 651.5 L402.2 653.2 L413.2 649.2 L409.5 647.5ZM402.2 653.2 L402.0 657.4 L413.0 653.4 L413.2 649.2ZM402.0 657.4 L398.2 657.5 L409.2 653.5 L413.0 653.4ZM398.2 657.5 L398.1 658.4 L409.1 654.4 L409.2 653.5ZM398.1 658.4 L398.1 658.4 L409.1 654.4 L409.1 654.4ZM398.1 658.4 L397.9 659.3 L408.9 655.3 L409.1 654.4ZM397.9 659.3 L401.4 662.2 L412.4 658.2 L408.9 655.3ZM401.4 662.2 L400.4 666.1 L411.4 662.1 L412.4 658.2ZM400.4 666.1 L396.6 664.9 L407.6 660.9 L411.4 662.1ZM396.6 664.9 L396.3 665.7 L407.3 661.7 L407.6 660.9ZM396.3 665.7 L396.3 665.7 L407.3 661.7 L407.3 661.7ZM396.3 665.7 L396.0 666.5 L407.0 662.5 L407.3 661.7ZM396.0 666.5 L398.8 670.4 L409.8 666.4 L407.0 662.5ZM398.8 670.4 L397.1 673.7 L408.1 669.7 L409.8 666.4ZM397.1 673.7 L393.5 671.3 L404.5 667.3 L408.1 669.7ZM393.5 671.3 L393.1 672.0 L404.1 668.0 L404.5 667.3ZM393.1 672.0 L393.1 672.0 L404.1 668.0 L404.1 668.0ZM393.1 672.0 L392.6 672.7 L403.6 668.7 L404.1 668.0ZM392.6 672.7 L394.8 677.2 L405.8 673.2 L403.6 668.7ZM394.8 677.2 L392.5 679.8 L403.5 675.8 L405.8 673.2ZM392.5 679.8 L389.3 676.4 L400.3 672.4 L403.5 675.8ZM389.3 676.4 L388.8 676.9 L399.8 672.9 L400.3 672.4ZM388.8 676.9 L388.8 676.9 L399.8 672.9 L399.8 672.9ZM388.8 676.9 L388.2 677.4 L399.2 673.4 L399.8 672.9ZM388.2 677.4 L389.4 682.4 L400.4 678.4 L399.2 673.4ZM389.4 682.4 L386.6 684.0 L397.6 680.0 L400.4 678.4ZM386.6 684.0 L384.2 679.8 L395.2 675.8 L397.6 680.0ZM384.2 679.8 L383.5 680.0 L394.5 676.0 L395.2 675.8ZM383.5 680.0 L383.5 680.0 L394.5 676.0 L394.5 676.0ZM383.5 680.0 L382.8 680.3 L393.8 676.3 L394.5 676.0ZM382.8 680.3 L383.2 685.4 L394.2 681.4 L393.8 676.3ZM383.2 685.4 L380.1 686.1 L391.1 682.1 L394.2 681.4ZM380.1 686.1 L378.4 681.2 L389.4 677.2 L391.1 682.1ZM378.4 681.2 L377.7 681.3 L388.7 677.3 L389.4 677.2ZM377.7 681.3 L377.7 681.3 L388.7 677.3 L388.7 677.3Z" fill="#f3f4f4" stroke="none"/>
<path d="M383.0 615.9 L394.0 611.9M386.0 617.8 L397.0 613.8M389.3 620.6 L400.3 616.6M391.9 623.4 L402.9 619.4M394.6 627.2 L405.6 623.2M396.7 630.7 L407.7 626.7M398.7 635.1 L409.7 631.1M400.1 639.1 L411.1 635.1M401.3 644.0 L412.3 640.0M402.0 648.2 L413.0 644.2M402.2 653.2 L413.2 649.2M402.0 657.4 L413.0 653.4M401.4 662.2 L412.4 658.2M400.4 666.1 L411.4 662.1M398.8 670.4 L409.8 666.4M397.1 673.7 L408.1 669.7M394.8 677.2 L405.8 673.2M392.5 679.8 L403.5 675.8M389.4 682.4 L400.4 678.4M386.6 684.0 L397.6 680.0M383.2 685.4 L394.2 681.4M380.1 686.1 L391.1 682.1" fill="none" stroke="#151515" stroke-width="1.10"/>
<path d="M377.7 681.3 L377.0 681.3 L376.3 686.2 L373.1 685.8 L372.4 680.7 L371.7 680.5 L371.7 680.5 L371.0 680.3 L369.4 684.7 L366.3 683.3 L366.5 678.2 L365.9 677.8 L365.9 677.8 L365.2 677.3 L362.8 681.0 L360.0 678.6 L361.2 673.9 L360.6 673.3 L360.6 673.3 L360.0 672.7 L356.9 675.3 L354.5 672.1 L356.6 668.1 L356.2 667.3 L356.2 667.3 L355.7 666.5 L352.1 668.0 L350.4 664.2 L353.2 661.1 L352.9 660.2 L352.9 660.2 L352.6 659.3 L348.8 659.5 L347.7 655.4 L351.1 653.4 L351.0 652.4 L351.0 652.4 L350.9 651.5 L347.0 650.4 L346.8 646.2 L350.5 645.4 L350.6 644.5 L350.6 644.5 L350.6 643.5 L347.0 641.2 L347.6 637.2 L351.4 637.7 L351.6 636.8 L351.6 636.8 L351.9 636.0 L348.7 632.6 L350.0 628.9 L353.8 630.7 L354.2 630.0 L354.2 630.0 L354.5 629.2 L352.0 625.0 L354.0 622.0 L357.4 625.0 L357.9 624.4 L357.9 624.4 L358.5 623.8 L356.8 619.0 L359.3 616.8 L362.2 620.7 L362.8 620.3 L362.8 620.3 L363.4 619.9 L362.6 614.8 L365.6 613.7 L367.7 618.3 L368.3 618.1 L368.3 618.1 L369.0 618.0 L369.2 612.9 L372.4 612.8 L373.6 617.8 L374.3 617.9 L374.3 617.9 L375.0 618.0 L376.2 613.2 L379.3 614.2 L379.6 619.3 L380.3 619.6 L380.3 619.6 L381.0 620.0 L383.0 615.9 L386.0 617.8 L385.2 622.7 L385.9 623.2 L385.9 623.2 L386.5 623.8 L389.3 620.6 L391.9 623.4 L390.2 627.8 L390.8 628.5 L390.8 628.5 L391.3 629.3 L394.6 627.2 L396.7 630.7 L394.2 634.3 L394.6 635.1 L394.6 635.1 L395.0 636.0 L398.7 635.1 L400.1 639.1 L397.0 641.7 L397.2 642.6 L397.2 642.6 L397.5 643.6 L401.3 644.0 L402.0 648.2 L398.4 649.6 L398.4 650.6 L398.4 650.6 L398.5 651.5 L402.2 653.2 L402.0 657.4 L398.2 657.5 L398.1 658.4 L398.1 658.4 L397.9 659.3 L401.4 662.2 L400.4 666.1 L396.6 664.9 L396.3 665.7 L396.3 665.7 L396.0 666.5 L398.8 670.4 L397.1 673.7 L393.5 671.3 L393.1 672.0 L393.1 672.0 L392.6 672.7 L394.8 677.2 L392.5 679.8 L389.3 676.4 L388.8 676.9 L388.8 676.9 L388.2 677.4 L389.4 682.4 L386.6 684.0 L384.2 679.8 L383.5 680.0 L383.5 680.0 L382.8 680.3 L383.2 685.4 L380.1 686.1 L378.4 681.2 L377.7 681.3Z" fill="#f3f4f4" stroke="#151515" stroke-width="1.3" stroke-linejoin="round"/>
<ellipse cx="376.0" cy="648.5" rx="21.0" ry="15.5" transform="rotate(80 376.0 648.5)" fill="#f3f4f4" stroke="#151515" stroke-width="1.2"/>
<path d="M369 644 L385 632" stroke="#151515" stroke-width="1" fill="none"/>
<circle cx="372.5" cy="648" r="4" fill="#f3f4f4" stroke="#151515" stroke-width="1"/>
<circle cx="381.5" cy="639.5" r="3.5" fill="#f3f4f4" stroke="#151515" stroke-width="1"/>
<path d="M368.6 585.3 L393.4 582.7 L392.9 610.7 L368.1 613.3Z" fill="#bdbdbb" stroke="#151515" stroke-width="1.1"/>
<path d="M393.4 582.7 L393.1 583.8 L392.0 584.9 L390.1 585.9 L387.6 586.8 L384.6 587.5 L381.4 588.0 L378.2 588.2 L375.1 588.1 L372.5 587.7 L370.4 587.1 L369.1 586.3 L368.6 585.3M393.4 585.5 L393.1 586.6 L391.9 587.7 L390.0 588.7 L387.5 589.6 L384.6 590.3 L381.4 590.8 L378.1 591.0 L375.1 590.9 L372.5 590.5 L370.4 589.9 L369.1 589.1 L368.5 588.1M393.3 588.3 L393.0 589.4 L391.9 590.5 L390.0 591.5 L387.5 592.4 L384.5 593.1 L381.3 593.6 L378.1 593.8 L375.0 593.7 L372.4 593.3 L370.3 592.7 L369.0 591.9 L368.5 590.9M393.3 591.1 L393.0 592.2 L391.8 593.3 L389.9 594.3 L387.4 595.2 L384.5 595.9 L381.3 596.4 L378.0 596.6 L375.0 596.5 L372.4 596.1 L370.3 595.5 L369.0 594.7 L368.4 593.7M393.2 593.9 L392.9 595.0 L391.8 596.1 L389.9 597.1 L387.4 598.0 L384.4 598.7 L381.2 599.2 L378.0 599.4 L374.9 599.3 L372.3 598.9 L370.2 598.3 L368.9 597.5 L368.4 596.5M393.2 596.7 L392.9 597.8 L391.7 598.9 L389.8 599.9 L387.3 600.8 L384.4 601.5 L381.2 602.0 L377.9 602.2 L374.9 602.1 L372.3 601.7 L370.2 601.1 L368.9 600.3 L368.3 599.3M393.1 599.5 L392.8 600.6 L391.7 601.7 L389.8 602.7 L387.3 603.6 L384.3 604.3 L381.1 604.8 L377.9 605.0 L374.8 604.9 L372.2 604.5 L370.1 603.9 L368.8 603.1 L368.3 602.1M393.1 602.3 L392.8 603.4 L391.6 604.5 L389.7 605.5 L387.2 606.4 L384.3 607.1 L381.1 607.6 L377.8 607.8 L374.8 607.7 L372.2 607.3 L370.1 606.7 L368.8 605.9 L368.2 604.9M393.0 605.1 L392.7 606.2 L391.6 607.3 L389.7 608.3 L387.2 609.2 L384.2 609.9 L381.0 610.4 L377.8 610.6 L374.7 610.5 L372.1 610.1 L370.0 609.5 L368.7 608.7 L368.2 607.7M393.0 607.9 L392.7 609.0 L391.5 610.1 L389.6 611.1 L387.1 612.0 L384.2 612.7 L381.0 613.2 L377.7 613.4 L374.7 613.3 L372.1 612.9 L370.0 612.3 L368.7 611.5 L368.1 610.5M392.9 610.7 L392.6 611.8 L391.5 612.9 L389.6 613.9 L387.1 614.8 L384.1 615.5 L380.9 616.0 L377.7 616.2 L374.6 616.1 L372.0 615.7 L369.9 615.1 L368.6 614.3 L368.1 613.3" fill="none" stroke="#151515" stroke-width="1.7"/>
<path d="M393.4 582.7 L393.1 583.8 L392.0 584.9 L390.1 585.9 L387.6 586.8 L384.6 587.5 L381.4 588.0 L378.2 588.2 L375.1 588.1 L372.5 587.7 L370.4 587.1 L369.1 586.3 L368.6 585.3M393.4 585.5 L393.1 586.6 L391.9 587.7 L390.0 588.7 L387.5 589.6 L384.6 590.3 L381.4 590.8 L378.1 591.0 L375.1 590.9 L372.5 590.5 L370.4 589.9 L369.1 589.1 L368.5 588.1M393.3 588.3 L393.0 589.4 L391.9 590.5 L390.0 591.5 L387.5 592.4 L384.5 593.1 L381.3 593.6 L378.1 593.8 L375.0 593.7 L372.4 593.3 L370.3 592.7 L369.0 591.9 L368.5 590.9M393.3 591.1 L393.0 592.2 L391.8 593.3 L389.9 594.3 L387.4 595.2 L384.5 595.9 L381.3 596.4 L378.0 596.6 L375.0 596.5 L372.4 596.1 L370.3 595.5 L369.0 594.7 L368.4 593.7M393.2 593.9 L392.9 595.0 L391.8 596.1 L389.9 597.1 L387.4 598.0 L384.4 598.7 L381.2 599.2 L378.0 599.4 L374.9 599.3 L372.3 598.9 L370.2 598.3 L368.9 597.5 L368.4 596.5M393.2 596.7 L392.9 597.8 L391.7 598.9 L389.8 599.9 L387.3 600.8 L384.4 601.5 L381.2 602.0 L377.9 602.2 L374.9 602.1 L372.3 601.7 L370.2 601.1 L368.9 600.3 L368.3 599.3M393.1 599.5 L392.8 600.6 L391.7 601.7 L389.8 602.7 L387.3 603.6 L384.3 604.3 L381.1 604.8 L377.9 605.0 L374.8 604.9 L372.2 604.5 L370.1 603.9 L368.8 603.1 L368.3 602.1M393.1 602.3 L392.8 603.4 L391.6 604.5 L389.7 605.5 L387.2 606.4 L384.3 607.1 L381.1 607.6 L377.8 607.8 L374.8 607.7 L372.2 607.3 L370.1 606.7 L368.8 605.9 L368.2 604.9M393.0 605.1 L392.7 606.2 L391.6 607.3 L389.7 608.3 L387.2 609.2 L384.2 609.9 L381.0 610.4 L377.8 610.6 L374.7 610.5 L372.1 610.1 L370.0 609.5 L368.7 608.7 L368.2 607.7M393.0 607.9 L392.7 609.0 L391.5 610.1 L389.6 611.1 L387.1 612.0 L384.2 612.7 L381.0 613.2 L377.7 613.4 L374.7 613.3 L372.1 612.9 L370.0 612.3 L368.7 611.5 L368.1 610.5M392.9 610.7 L392.6 611.8 L391.5 612.9 L389.6 613.9 L387.1 614.8 L384.1 615.5 L380.9 616.0 L377.7 616.2 L374.6 616.1 L372.0 615.7 L369.9 615.1 L368.6 614.3 L368.1 613.3" transform="translate(0 -1.2)" fill="none" stroke="#f0f0ee" stroke-width="0.8"/>
<ellipse cx="381" cy="614" rx="15" ry="7" fill="#f3f4f4" stroke="#151515" stroke-width="1.1"/>
<path d="M366 558 Q366 547 380 546 Q392 546 400 557 L433 632 Q436 643 428 646 L418 648 Q412 646 410 640 L392 590 L386 574 Q372 572 366 565 Z" fill="#f3f4f4" stroke="#151515" stroke-width="1.4" stroke-linejoin="round"/>
<path d="M391 566 L428 640 M396 564 L432 636 M386 574 L394 566" fill="none" stroke="#151515" stroke-width="1"/>
<ellipse cx="380.5" cy="554" rx="8.5" ry="6" fill="#f3f4f4" stroke="#151515" stroke-width="1.2"/>
<ellipse cx="380.5" cy="552.5" rx="4" ry="2.8" fill="none" stroke="#151515" stroke-width="1"/>
<path d="M376 576 L380 592 L386 590 L383 574 Z" fill="#f3f4f4" stroke="#151515" stroke-width="1"/>
<circle cx="389" cy="590" r="6" fill="#f3f4f4" stroke="#151515" stroke-width="1.3"/>
<circle cx="388" cy="591" r="3.0" fill="#eee" stroke="#151515" stroke-width="1"/>
<circle cx="404.5" cy="613" r="7.5" fill="#f3f4f4" stroke="#151515" stroke-width="1.3"/>
<circle cx="403.5" cy="614" r="3.8" fill="#eee" stroke="#151515" stroke-width="1"/>
<circle cx="403" cy="636" r="8" fill="#f3f4f4" stroke="#151515" stroke-width="1.3"/>
<circle cx="402" cy="637" r="4.0" fill="#eee" stroke="#151515" stroke-width="1"/>
<path d="M587.5 598 Q587 591 591 588 L617.5 565 Q622 561 626 564.5 L629 576 L634 577.5 Q642 581 643 589 L641.6 691 Q641 699 636 706 L630 716 L617 718 L615 607 L596 615.5 Q588 616 587.5 608 Z" fill="#f3f4f4" stroke="#151515" stroke-width="1.4" stroke-linejoin="round"/>
<path d="M591.5 613 V597 L621 567.5 M606 584 Q613 589 620.5 590.5 L638 581 M604.5 602 L621.5 610 V716 M620.5 590.5 Q624 594 624 604" fill="none" stroke="#151515" stroke-width="1.1"/>
<path d="M615 656 L624 654 M615 700 L624 698" fill="none" stroke="#151515" stroke-width="1"/>
<ellipse cx="599.2" cy="599.5" rx="3.3" ry="3.8" fill="#e9e9e9" stroke="#151515" stroke-width="1.1"/>
<ellipse cx="615.2" cy="598" rx="3" ry="3.4" fill="#e9e9e9" stroke="#151515" stroke-width="1.1"/>
<ellipse cx="623.8" cy="577.3" rx="2.8" ry="3.2" fill="#e9e9e9" stroke="#151515" stroke-width="1.1"/>
<path d="M614.8 664.2 L631.2 659.8 L631.2 689.8 L614.8 694.2Z" fill="#bdbdbb" stroke="#151515" stroke-width="1.1"/>
<path d="M631.2 659.8 L631.2 660.8 L630.6 661.8 L629.4 662.8 L627.9 663.8 L626.0 664.7 L623.9 665.4 L621.8 665.8 L619.7 666.0 L617.8 665.9 L616.3 665.6 L615.3 665.0 L614.8 664.2M631.2 664.1 L631.2 665.0 L630.6 666.1 L629.4 667.1 L627.9 668.1 L626.0 669.0 L623.9 669.7 L621.8 670.1 L619.7 670.3 L617.8 670.2 L616.3 669.9 L615.3 669.3 L614.8 668.5M631.2 668.4 L631.2 669.3 L630.6 670.4 L629.4 671.4 L627.9 672.4 L626.0 673.3 L623.9 674.0 L621.8 674.4 L619.7 674.6 L617.8 674.5 L616.3 674.2 L615.3 673.6 L614.8 672.8M631.2 672.7 L631.2 673.6 L630.6 674.6 L629.4 675.7 L627.9 676.7 L626.0 677.6 L623.9 678.2 L621.8 678.7 L619.7 678.9 L617.8 678.8 L616.3 678.5 L615.3 677.9 L614.8 677.1M631.2 676.9 L631.2 677.9 L630.6 678.9 L629.4 680.0 L627.9 681.0 L626.0 681.8 L623.9 682.5 L621.8 683.0 L619.7 683.2 L617.8 683.1 L616.3 682.7 L615.3 682.1 L614.8 681.3M631.2 681.2 L631.2 682.2 L630.6 683.2 L629.4 684.3 L627.9 685.3 L626.0 686.1 L623.9 686.8 L621.8 687.3 L619.7 687.5 L617.8 687.4 L616.3 687.0 L615.3 686.4 L614.8 685.6M631.2 685.5 L631.2 686.5 L630.6 687.5 L629.4 688.5 L627.9 689.5 L626.0 690.4 L623.9 691.1 L621.8 691.5 L619.7 691.7 L617.8 691.7 L616.3 691.3 L615.3 690.7 L614.8 689.9M631.2 689.8 L631.2 690.8 L630.6 691.8 L629.4 692.8 L627.9 693.8 L626.0 694.7 L623.9 695.4 L621.8 695.8 L619.7 696.0 L617.8 695.9 L616.3 695.6 L615.3 695.0 L614.8 694.2" fill="none" stroke="#151515" stroke-width="1.7"/>
<path d="M631.2 659.8 L631.2 660.8 L630.6 661.8 L629.4 662.8 L627.9 663.8 L626.0 664.7 L623.9 665.4 L621.8 665.8 L619.7 666.0 L617.8 665.9 L616.3 665.6 L615.3 665.0 L614.8 664.2M631.2 664.1 L631.2 665.0 L630.6 666.1 L629.4 667.1 L627.9 668.1 L626.0 669.0 L623.9 669.7 L621.8 670.1 L619.7 670.3 L617.8 670.2 L616.3 669.9 L615.3 669.3 L614.8 668.5M631.2 668.4 L631.2 669.3 L630.6 670.4 L629.4 671.4 L627.9 672.4 L626.0 673.3 L623.9 674.0 L621.8 674.4 L619.7 674.6 L617.8 674.5 L616.3 674.2 L615.3 673.6 L614.8 672.8M631.2 672.7 L631.2 673.6 L630.6 674.6 L629.4 675.7 L627.9 676.7 L626.0 677.6 L623.9 678.2 L621.8 678.7 L619.7 678.9 L617.8 678.8 L616.3 678.5 L615.3 677.9 L614.8 677.1M631.2 676.9 L631.2 677.9 L630.6 678.9 L629.4 680.0 L627.9 681.0 L626.0 681.8 L623.9 682.5 L621.8 683.0 L619.7 683.2 L617.8 683.1 L616.3 682.7 L615.3 682.1 L614.8 681.3M631.2 681.2 L631.2 682.2 L630.6 683.2 L629.4 684.3 L627.9 685.3 L626.0 686.1 L623.9 686.8 L621.8 687.3 L619.7 687.5 L617.8 687.4 L616.3 687.0 L615.3 686.4 L614.8 685.6M631.2 685.5 L631.2 686.5 L630.6 687.5 L629.4 688.5 L627.9 689.5 L626.0 690.4 L623.9 691.1 L621.8 691.5 L619.7 691.7 L617.8 691.7 L616.3 691.3 L615.3 690.7 L614.8 689.9M631.2 689.8 L631.2 690.8 L630.6 691.8 L629.4 692.8 L627.9 693.8 L626.0 694.7 L623.9 695.4 L621.8 695.8 L619.7 696.0 L617.8 695.9 L616.3 695.6 L615.3 695.0 L614.8 694.2" transform="translate(0 -1.2)" fill="none" stroke="#f0f0ee" stroke-width="0.8"/>
<path d="M630 714 L649 705 A7.5 7.5 0 0 1 657 719 L638 728 Z" fill="#f3f4f4" stroke="#151515" stroke-width="1.4"/>
<ellipse cx="634.5" cy="721.5" rx="6.5" ry="7.5" transform="rotate(-20 634.5 721.5)" fill="#f3f4f4" stroke="#151515" stroke-width="1.3"/>
<path d="M575.8 817.0 L575.8 817.8 L581.2 818.9 L580.8 822.1 L575.1 822.6 L574.9 823.4 L574.9 823.4 L574.6 824.1 L579.6 825.8 L578.2 828.9 L572.5 828.8 L572.1 829.6 L572.1 829.6 L571.6 830.3 L576.1 832.4 L573.8 835.3 L568.1 834.7 L567.5 835.4 L567.5 835.4 L566.8 836.0 L570.6 838.6 L567.5 841.2 L562.1 840.0 L561.3 840.6 L561.3 840.6 L560.4 841.2 L563.4 844.1 L559.6 846.4 L554.6 844.6 L553.7 845.1 L553.7 845.1 L552.6 845.6 L554.7 848.8 L550.3 850.7 L545.9 848.4 L544.8 848.8 L544.8 848.8 L543.7 849.2 L544.8 852.5 L539.8 853.9 L536.2 851.3 L535.0 851.5 L535.0 851.5 L533.8 851.8 L533.9 855.2 L528.6 856.0 L525.8 853.0 L524.6 853.2 L524.6 853.2 L523.3 853.3 L522.4 856.7 L517.0 857.0 L515.1 853.7 L513.8 853.7 L513.8 853.7 L512.5 853.7 L510.6 857.0 L505.2 856.7 L504.3 853.3 L503.0 853.2 L503.0 853.2 L501.8 853.0 L499.0 856.0 L493.7 855.2 L493.8 851.8 L492.6 851.5 L492.6 851.5 L491.4 851.3 L487.8 853.9 L482.8 852.5 L483.9 849.2 L482.8 848.8 L482.8 848.8 L481.7 848.4 L477.3 850.7 L472.9 848.8 L475.0 845.6 L473.9 845.1 L473.9 845.1 L473.0 844.6 L468.0 846.4 L464.2 844.1 L467.2 841.2 L466.3 840.6 L466.3 840.6 L465.5 840.0 L460.1 841.2 L457.0 838.6 L460.8 836.0 L460.1 835.4 L460.1 835.4 L459.5 834.7 L453.8 835.3 L451.5 832.4 L456.0 830.3 L455.5 829.6 L455.5 829.6 L455.1 828.8 L449.4 828.9 L448.0 825.8 L453.0 824.1 L452.7 823.4 L452.7 823.4 L452.5 822.6 L446.8 822.1 L446.4 818.9 L451.8 817.8 L451.8 817.0 L451.8 817.0 L451.8 816.2 L446.4 815.1 L446.8 811.9 L452.5 811.4 L452.7 810.6 L452.7 810.6 L453.0 809.9 L448.0 808.2 L449.4 805.1 L455.1 805.2 L455.5 804.4 L455.5 804.4 L456.0 803.7 L451.5 801.6 L453.8 798.7 L459.5 799.3 L460.1 798.6 L460.1 798.6 L460.8 798.0 L457.0 795.4 L460.1 792.8 L465.5 794.0 L466.3 793.4 L466.3 793.4 L467.2 792.8 L464.2 789.9 L468.0 787.6 L473.0 789.4 L473.9 788.9 L473.9 788.9 L475.0 788.4 L472.9 785.2 L477.3 783.3 L481.7 785.6 L482.8 785.2 L482.8 785.2 L483.9 784.8 L482.8 781.5 L487.8 780.1 L491.4 782.7 L492.6 782.5 L492.6 782.5 L493.8 782.2 L493.7 778.8 L499.0 778.0 L501.8 781.0 L503.0 780.8 L503.0 780.8 L504.3 780.7 L505.2 777.3 L510.6 777.0 L512.5 780.3 L513.8 780.3 L513.8 780.3 L515.1 780.3 L517.0 777.0 L522.4 777.3 L523.3 780.7 L524.6 780.8 L524.6 780.8 L525.8 781.0 L528.6 778.0 L533.9 778.8 L533.8 782.2 L535.0 782.5 L535.0 782.5 L536.2 782.7 L539.8 780.1 L544.8 781.5 L543.7 784.8 L544.8 785.2 L544.8 785.2 L545.9 785.6 L550.3 783.3 L554.7 785.2 L552.6 788.4 L553.7 788.9 L553.7 788.9 L554.6 789.4 L559.6 787.6 L563.4 789.9 L560.4 792.8 L561.3 793.4 L561.3 793.4 L562.1 794.0 L567.5 792.8 L570.6 795.4 L566.8 798.0 L567.5 798.6 L567.5 798.6 L568.1 799.3 L573.8 798.7 L576.1 801.6 L571.6 803.7 L572.1 804.4 L572.1 804.4 L572.5 805.2 L578.2 805.1 L579.6 808.2 L574.6 809.9 L574.9 810.6 L574.9 810.6 L575.1 811.4 L580.8 811.9 L581.2 815.1 L575.8 816.2 L575.8 817.0Z" fill="#f3f4f4" stroke="#151515" stroke-width="1.3" stroke-linejoin="round"/>
<path d="M575.8 806.0 L575.8 806.8 L575.8 817.8 L575.8 817.0ZM575.8 806.8 L581.2 807.9 L581.2 818.9 L575.8 817.8ZM581.2 807.9 L580.8 811.1 L580.8 822.1 L581.2 818.9ZM580.8 811.1 L575.1 811.6 L575.1 822.6 L580.8 822.1ZM575.1 811.6 L574.9 812.4 L574.9 823.4 L575.1 822.6ZM574.9 812.4 L574.9 812.4 L574.9 823.4 L574.9 823.4ZM574.9 812.4 L574.6 813.1 L574.6 824.1 L574.9 823.4ZM574.6 813.1 L579.6 814.8 L579.6 825.8 L574.6 824.1ZM579.6 814.8 L578.2 817.9 L578.2 828.9 L579.6 825.8ZM578.2 817.9 L572.5 817.8 L572.5 828.8 L578.2 828.9ZM572.5 817.8 L572.1 818.6 L572.1 829.6 L572.5 828.8ZM572.1 818.6 L572.1 818.6 L572.1 829.6 L572.1 829.6ZM572.1 818.6 L571.6 819.3 L571.6 830.3 L572.1 829.6ZM571.6 819.3 L576.1 821.4 L576.1 832.4 L571.6 830.3ZM576.1 821.4 L573.8 824.3 L573.8 835.3 L576.1 832.4ZM573.8 824.3 L568.1 823.7 L568.1 834.7 L573.8 835.3ZM568.1 823.7 L567.5 824.4 L567.5 835.4 L568.1 834.7ZM567.5 824.4 L567.5 824.4 L567.5 835.4 L567.5 835.4ZM567.5 824.4 L566.8 825.0 L566.8 836.0 L567.5 835.4ZM566.8 825.0 L570.6 827.6 L570.6 838.6 L566.8 836.0ZM570.6 827.6 L567.5 830.2 L567.5 841.2 L570.6 838.6ZM567.5 830.2 L562.1 829.0 L562.1 840.0 L567.5 841.2ZM562.1 829.0 L561.3 829.6 L561.3 840.6 L562.1 840.0ZM561.3 829.6 L561.3 829.6 L561.3 840.6 L561.3 840.6ZM561.3 829.6 L560.4 830.2 L560.4 841.2 L561.3 840.6ZM560.4 830.2 L563.4 833.1 L563.4 844.1 L560.4 841.2ZM563.4 833.1 L559.6 835.4 L559.6 846.4 L563.4 844.1ZM559.6 835.4 L554.6 833.6 L554.6 844.6 L559.6 846.4ZM554.6 833.6 L553.7 834.1 L553.7 845.1 L554.6 844.6ZM553.7 834.1 L553.7 834.1 L553.7 845.1 L553.7 845.1ZM553.7 834.1 L552.6 834.6 L552.6 845.6 L553.7 845.1ZM552.6 834.6 L554.7 837.8 L554.7 848.8 L552.6 845.6ZM554.7 837.8 L550.3 839.7 L550.3 850.7 L554.7 848.8ZM550.3 839.7 L545.9 837.4 L545.9 848.4 L550.3 850.7ZM545.9 837.4 L544.8 837.8 L544.8 848.8 L545.9 848.4ZM544.8 837.8 L544.8 837.8 L544.8 848.8 L544.8 848.8ZM544.8 837.8 L543.7 838.2 L543.7 849.2 L544.8 848.8ZM543.7 838.2 L544.8 841.5 L544.8 852.5 L543.7 849.2ZM544.8 841.5 L539.8 842.9 L539.8 853.9 L544.8 852.5ZM539.8 842.9 L536.2 840.3 L536.2 851.3 L539.8 853.9ZM536.2 840.3 L535.0 840.5 L535.0 851.5 L536.2 851.3ZM535.0 840.5 L535.0 840.5 L535.0 851.5 L535.0 851.5ZM535.0 840.5 L533.8 840.8 L533.8 851.8 L535.0 851.5ZM533.8 840.8 L533.9 844.2 L533.9 855.2 L533.8 851.8ZM533.9 844.2 L528.6 845.0 L528.6 856.0 L533.9 855.2ZM528.6 845.0 L525.8 842.0 L525.8 853.0 L528.6 856.0ZM525.8 842.0 L524.6 842.2 L524.6 853.2 L525.8 853.0ZM524.6 842.2 L524.6 842.2 L524.6 853.2 L524.6 853.2ZM524.6 842.2 L523.3 842.3 L523.3 853.3 L524.6 853.2ZM523.3 842.3 L522.4 845.7 L522.4 856.7 L523.3 853.3ZM522.4 845.7 L517.0 846.0 L517.0 857.0 L522.4 856.7ZM517.0 846.0 L515.1 842.7 L515.1 853.7 L517.0 857.0ZM515.1 842.7 L513.8 842.7 L513.8 853.7 L515.1 853.7ZM513.8 842.7 L513.8 842.7 L513.8 853.7 L513.8 853.7ZM513.8 842.7 L512.5 842.7 L512.5 853.7 L513.8 853.7ZM512.5 842.7 L510.6 846.0 L510.6 857.0 L512.5 853.7ZM510.6 846.0 L505.2 845.7 L505.2 856.7 L510.6 857.0ZM505.2 845.7 L504.3 842.3 L504.3 853.3 L505.2 856.7ZM504.3 842.3 L503.0 842.2 L503.0 853.2 L504.3 853.3ZM503.0 842.2 L503.0 842.2 L503.0 853.2 L503.0 853.2ZM503.0 842.2 L501.8 842.0 L501.8 853.0 L503.0 853.2ZM501.8 842.0 L499.0 845.0 L499.0 856.0 L501.8 853.0ZM499.0 845.0 L493.7 844.2 L493.7 855.2 L499.0 856.0ZM493.7 844.2 L493.8 840.8 L493.8 851.8 L493.7 855.2ZM493.8 840.8 L492.6 840.5 L492.6 851.5 L493.8 851.8ZM492.6 840.5 L492.6 840.5 L492.6 851.5 L492.6 851.5ZM492.6 840.5 L491.4 840.3 L491.4 851.3 L492.6 851.5ZM491.4 840.3 L487.8 842.9 L487.8 853.9 L491.4 851.3ZM487.8 842.9 L482.8 841.5 L482.8 852.5 L487.8 853.9ZM482.8 841.5 L483.9 838.2 L483.9 849.2 L482.8 852.5ZM483.9 838.2 L482.8 837.8 L482.8 848.8 L483.9 849.2ZM482.8 837.8 L482.8 837.8 L482.8 848.8 L482.8 848.8ZM482.8 837.8 L481.7 837.4 L481.7 848.4 L482.8 848.8ZM481.7 837.4 L477.3 839.7 L477.3 850.7 L481.7 848.4ZM477.3 839.7 L472.9 837.8 L472.9 848.8 L477.3 850.7ZM472.9 837.8 L475.0 834.6 L475.0 845.6 L472.9 848.8ZM475.0 834.6 L473.9 834.1 L473.9 845.1 L475.0 845.6ZM473.9 834.1 L473.9 834.1 L473.9 845.1 L473.9 845.1ZM473.9 834.1 L473.0 833.6 L473.0 844.6 L473.9 845.1ZM473.0 833.6 L468.0 835.4 L468.0 846.4 L473.0 844.6ZM468.0 835.4 L464.2 833.1 L464.2 844.1 L468.0 846.4ZM464.2 833.1 L467.2 830.2 L467.2 841.2 L464.2 844.1ZM467.2 830.2 L466.3 829.6 L466.3 840.6 L467.2 841.2ZM466.3 829.6 L466.3 829.6 L466.3 840.6 L466.3 840.6ZM466.3 829.6 L465.5 829.0 L465.5 840.0 L466.3 840.6ZM465.5 829.0 L460.1 830.2 L460.1 841.2 L465.5 840.0ZM460.1 830.2 L457.0 827.6 L457.0 838.6 L460.1 841.2ZM457.0 827.6 L460.8 825.0 L460.8 836.0 L457.0 838.6ZM460.8 825.0 L460.1 824.4 L460.1 835.4 L460.8 836.0ZM460.1 824.4 L460.1 824.4 L460.1 835.4 L460.1 835.4ZM460.1 824.4 L459.5 823.7 L459.5 834.7 L460.1 835.4ZM459.5 823.7 L453.8 824.3 L453.8 835.3 L459.5 834.7ZM453.8 824.3 L451.5 821.4 L451.5 832.4 L453.8 835.3ZM451.5 821.4 L456.0 819.3 L456.0 830.3 L451.5 832.4ZM456.0 819.3 L455.5 818.6 L455.5 829.6 L456.0 830.3ZM455.5 818.6 L455.5 818.6 L455.5 829.6 L455.5 829.6ZM455.5 818.6 L455.1 817.8 L455.1 828.8 L455.5 829.6ZM455.1 817.8 L449.4 817.9 L449.4 828.9 L455.1 828.8ZM449.4 817.9 L448.0 814.8 L448.0 825.8 L449.4 828.9ZM448.0 814.8 L453.0 813.1 L453.0 824.1 L448.0 825.8ZM453.0 813.1 L452.7 812.4 L452.7 823.4 L453.0 824.1ZM452.7 812.4 L452.7 812.4 L452.7 823.4 L452.7 823.4ZM452.7 812.4 L452.5 811.6 L452.5 822.6 L452.7 823.4ZM452.5 811.6 L446.8 811.1 L446.8 822.1 L452.5 822.6ZM446.8 811.1 L446.4 807.9 L446.4 818.9 L446.8 822.1ZM446.4 807.9 L451.8 806.8 L451.8 817.8 L446.4 818.9ZM451.8 806.8 L451.8 806.0 L451.8 817.0 L451.8 817.8ZM451.8 806.0 L451.8 806.0 L451.8 817.0 L451.8 817.0ZM451.8 806.0 L451.8 805.2 L451.8 816.2 L451.8 817.0ZM451.8 805.2 L446.4 804.1 L446.4 815.1 L451.8 816.2ZM446.4 804.1 L446.8 800.9 L446.8 811.9 L446.4 815.1ZM446.8 800.9 L452.5 800.4 L452.5 811.4 L446.8 811.9ZM452.5 800.4 L452.7 799.6 L452.7 810.6 L452.5 811.4ZM452.7 799.6 L452.7 799.6 L452.7 810.6 L452.7 810.6ZM452.7 799.6 L453.0 798.9 L453.0 809.9 L452.7 810.6ZM453.0 798.9 L448.0 797.2 L448.0 808.2 L453.0 809.9ZM448.0 797.2 L449.4 794.1 L449.4 805.1 L448.0 808.2ZM449.4 794.1 L455.1 794.2 L455.1 805.2 L449.4 805.1ZM455.1 794.2 L455.5 793.4 L455.5 804.4 L455.1 805.2ZM455.5 793.4 L455.5 793.4 L455.5 804.4 L455.5 804.4ZM455.5 793.4 L456.0 792.7 L456.0 803.7 L455.5 804.4ZM456.0 792.7 L451.5 790.6 L451.5 801.6 L456.0 803.7ZM451.5 790.6 L453.8 787.7 L453.8 798.7 L451.5 801.6ZM453.8 787.7 L459.5 788.3 L459.5 799.3 L453.8 798.7ZM459.5 788.3 L460.1 787.6 L460.1 798.6 L459.5 799.3ZM460.1 787.6 L460.1 787.6 L460.1 798.6 L460.1 798.6ZM460.1 787.6 L460.8 787.0 L460.8 798.0 L460.1 798.6ZM460.8 787.0 L457.0 784.4 L457.0 795.4 L460.8 798.0ZM457.0 784.4 L460.1 781.8 L460.1 792.8 L457.0 795.4ZM460.1 781.8 L465.5 783.0 L465.5 794.0 L460.1 792.8ZM465.5 783.0 L466.3 782.4 L466.3 793.4 L465.5 794.0ZM466.3 782.4 L466.3 782.4 L466.3 793.4 L466.3 793.4ZM466.3 782.4 L467.2 781.8 L467.2 792.8 L466.3 793.4ZM467.2 781.8 L464.2 778.9 L464.2 789.9 L467.2 792.8ZM464.2 778.9 L468.0 776.6 L468.0 787.6 L464.2 789.9ZM468.0 776.6 L473.0 778.4 L473.0 789.4 L468.0 787.6ZM473.0 778.4 L473.9 777.9 L473.9 788.9 L473.0 789.4ZM473.9 777.9 L473.9 777.9 L473.9 788.9 L473.9 788.9ZM473.9 777.9 L475.0 777.4 L475.0 788.4 L473.9 788.9ZM475.0 777.4 L472.9 774.2 L472.9 785.2 L475.0 788.4ZM472.9 774.2 L477.3 772.3 L477.3 783.3 L472.9 785.2ZM477.3 772.3 L481.7 774.6 L481.7 785.6 L477.3 783.3ZM481.7 774.6 L482.8 774.2 L482.8 785.2 L481.7 785.6ZM482.8 774.2 L482.8 774.2 L482.8 785.2 L482.8 785.2ZM482.8 774.2 L483.9 773.8 L483.9 784.8 L482.8 785.2ZM483.9 773.8 L482.8 770.5 L482.8 781.5 L483.9 784.8ZM482.8 770.5 L487.8 769.1 L487.8 780.1 L482.8 781.5ZM487.8 769.1 L491.4 771.7 L491.4 782.7 L487.8 780.1ZM491.4 771.7 L492.6 771.5 L492.6 782.5 L491.4 782.7ZM492.6 771.5 L492.6 771.5 L492.6 782.5 L492.6 782.5ZM492.6 771.5 L493.8 771.2 L493.8 782.2 L492.6 782.5ZM493.8 771.2 L493.7 767.8 L493.7 778.8 L493.8 782.2ZM493.7 767.8 L499.0 767.0 L499.0 778.0 L493.7 778.8ZM499.0 767.0 L501.8 770.0 L501.8 781.0 L499.0 778.0ZM501.8 770.0 L503.0 769.8 L503.0 780.8 L501.8 781.0ZM503.0 769.8 L503.0 769.8 L503.0 780.8 L503.0 780.8ZM503.0 769.8 L504.3 769.7 L504.3 780.7 L503.0 780.8ZM504.3 769.7 L505.2 766.3 L505.2 777.3 L504.3 780.7ZM505.2 766.3 L510.6 766.0 L510.6 777.0 L505.2 777.3ZM510.6 766.0 L512.5 769.3 L512.5 780.3 L510.6 777.0ZM512.5 769.3 L513.8 769.3 L513.8 780.3 L512.5 780.3ZM513.8 769.3 L513.8 769.3 L513.8 780.3 L513.8 780.3ZM513.8 769.3 L515.1 769.3 L515.1 780.3 L513.8 780.3ZM515.1 769.3 L517.0 766.0 L517.0 777.0 L515.1 780.3ZM517.0 766.0 L522.4 766.3 L522.4 777.3 L517.0 777.0ZM522.4 766.3 L523.3 769.7 L523.3 780.7 L522.4 777.3ZM523.3 769.7 L524.6 769.8 L524.6 780.8 L523.3 780.7ZM524.6 769.8 L524.6 769.8 L524.6 780.8 L524.6 780.8ZM524.6 769.8 L525.8 770.0 L525.8 781.0 L524.6 780.8ZM525.8 770.0 L528.6 767.0 L528.6 778.0 L525.8 781.0ZM528.6 767.0 L533.9 767.8 L533.9 778.8 L528.6 778.0ZM533.9 767.8 L533.8 771.2 L533.8 782.2 L533.9 778.8ZM533.8 771.2 L535.0 771.5 L535.0 782.5 L533.8 782.2ZM535.0 771.5 L535.0 771.5 L535.0 782.5 L535.0 782.5ZM535.0 771.5 L536.2 771.7 L536.2 782.7 L535.0 782.5ZM536.2 771.7 L539.8 769.1 L539.8 780.1 L536.2 782.7ZM539.8 769.1 L544.8 770.5 L544.8 781.5 L539.8 780.1ZM544.8 770.5 L543.7 773.8 L543.7 784.8 L544.8 781.5ZM543.7 773.8 L544.8 774.2 L544.8 785.2 L543.7 784.8ZM544.8 774.2 L544.8 774.2 L544.8 785.2 L544.8 785.2ZM544.8 774.2 L545.9 774.6 L545.9 785.6 L544.8 785.2ZM545.9 774.6 L550.3 772.3 L550.3 783.3 L545.9 785.6ZM550.3 772.3 L554.7 774.2 L554.7 785.2 L550.3 783.3ZM554.7 774.2 L552.6 777.4 L552.6 788.4 L554.7 785.2ZM552.6 777.4 L553.7 777.9 L553.7 788.9 L552.6 788.4ZM553.7 777.9 L553.7 777.9 L553.7 788.9 L553.7 788.9ZM553.7 777.9 L554.6 778.4 L554.6 789.4 L553.7 788.9ZM554.6 778.4 L559.6 776.6 L559.6 787.6 L554.6 789.4ZM559.6 776.6 L563.4 778.9 L563.4 789.9 L559.6 787.6ZM563.4 778.9 L560.4 781.8 L560.4 792.8 L563.4 789.9ZM560.4 781.8 L561.3 782.4 L561.3 793.4 L560.4 792.8ZM561.3 782.4 L561.3 782.4 L561.3 793.4 L561.3 793.4ZM561.3 782.4 L562.1 783.0 L562.1 794.0 L561.3 793.4ZM562.1 783.0 L567.5 781.8 L567.5 792.8 L562.1 794.0ZM567.5 781.8 L570.6 784.4 L570.6 795.4 L567.5 792.8ZM570.6 784.4 L566.8 787.0 L566.8 798.0 L570.6 795.4ZM566.8 787.0 L567.5 787.6 L567.5 798.6 L566.8 798.0ZM567.5 787.6 L567.5 787.6 L567.5 798.6 L567.5 798.6ZM567.5 787.6 L568.1 788.3 L568.1 799.3 L567.5 798.6ZM568.1 788.3 L573.8 787.7 L573.8 798.7 L568.1 799.3ZM573.8 787.7 L576.1 790.6 L576.1 801.6 L573.8 798.7ZM576.1 790.6 L571.6 792.7 L571.6 803.7 L576.1 801.6ZM571.6 792.7 L572.1 793.4 L572.1 804.4 L571.6 803.7ZM572.1 793.4 L572.1 793.4 L572.1 804.4 L572.1 804.4ZM572.1 793.4 L572.5 794.2 L572.5 805.2 L572.1 804.4ZM572.5 794.2 L578.2 794.1 L578.2 805.1 L572.5 805.2ZM578.2 794.1 L579.6 797.2 L579.6 808.2 L578.2 805.1ZM579.6 797.2 L574.6 798.9 L574.6 809.9 L579.6 808.2ZM574.6 798.9 L574.9 799.6 L574.9 810.6 L574.6 809.9ZM574.9 799.6 L574.9 799.6 L574.9 810.6 L574.9 810.6ZM574.9 799.6 L575.1 800.4 L575.1 811.4 L574.9 810.6ZM575.1 800.4 L580.8 800.9 L580.8 811.9 L575.1 811.4ZM580.8 800.9 L581.2 804.1 L581.2 815.1 L580.8 811.9ZM581.2 804.1 L575.8 805.2 L575.8 816.2 L581.2 815.1ZM575.8 805.2 L575.8 806.0 L575.8 817.0 L575.8 816.2ZM575.8 806.0 L575.8 806.0 L575.8 817.0 L575.8 817.0Z" fill="#f3f4f4" stroke="none"/>
<path d="M581.2 807.9 V818.9M580.8 811.1 V822.1M579.6 814.8 V825.8M578.2 817.9 V828.9M576.1 821.4 V832.4M573.8 824.3 V835.3M570.6 827.6 V838.6M567.5 830.2 V841.2M563.4 833.1 V844.1M559.6 835.4 V846.4M554.7 837.8 V848.8M550.3 839.7 V850.7M544.8 841.5 V852.5M539.8 842.9 V853.9M533.9 844.2 V855.2M528.6 845.0 V856.0M522.4 845.7 V856.7M517.0 846.0 V857.0M510.6 846.0 V857.0M505.2 845.7 V856.7M499.0 845.0 V856.0M493.7 844.2 V855.2M487.8 842.9 V853.9M482.8 841.5 V852.5M477.3 839.7 V850.7M472.9 837.8 V848.8M468.0 835.4 V846.4M464.2 833.1 V844.1M460.1 830.2 V841.2M457.0 827.6 V838.6M453.8 824.3 V835.3M451.5 821.4 V832.4M449.4 817.9 V828.9M448.0 814.8 V825.8M446.8 811.1 V822.1M446.4 807.9 V818.9M446.4 804.1 V815.1M446.8 800.9 V811.9M580.8 800.9 V811.9M581.2 804.1 V815.1" fill="none" stroke="#151515" stroke-width="1.1"/>
<path d="M575.8 806.0 L575.8 806.8 L581.2 807.9 L580.8 811.1 L575.1 811.6 L574.9 812.4 L574.9 812.4 L574.6 813.1 L579.6 814.8 L578.2 817.9 L572.5 817.8 L572.1 818.6 L572.1 818.6 L571.6 819.3 L576.1 821.4 L573.8 824.3 L568.1 823.7 L567.5 824.4 L567.5 824.4 L566.8 825.0 L570.6 827.6 L567.5 830.2 L562.1 829.0 L561.3 829.6 L561.3 829.6 L560.4 830.2 L563.4 833.1 L559.6 835.4 L554.6 833.6 L553.7 834.1 L553.7 834.1 L552.6 834.6 L554.7 837.8 L550.3 839.7 L545.9 837.4 L544.8 837.8 L544.8 837.8 L543.7 838.2 L544.8 841.5 L539.8 842.9 L536.2 840.3 L535.0 840.5 L535.0 840.5 L533.8 840.8 L533.9 844.2 L528.6 845.0 L525.8 842.0 L524.6 842.2 L524.6 842.2 L523.3 842.3 L522.4 845.7 L517.0 846.0 L515.1 842.7 L513.8 842.7 L513.8 842.7 L512.5 842.7 L510.6 846.0 L505.2 845.7 L504.3 842.3 L503.0 842.2 L503.0 842.2 L501.8 842.0 L499.0 845.0 L493.7 844.2 L493.8 840.8 L492.6 840.5 L492.6 840.5 L491.4 840.3 L487.8 842.9 L482.8 841.5 L483.9 838.2 L482.8 837.8 L482.8 837.8 L481.7 837.4 L477.3 839.7 L472.9 837.8 L475.0 834.6 L473.9 834.1 L473.9 834.1 L473.0 833.6 L468.0 835.4 L464.2 833.1 L467.2 830.2 L466.3 829.6 L466.3 829.6 L465.5 829.0 L460.1 830.2 L457.0 827.6 L460.8 825.0 L460.1 824.4 L460.1 824.4 L459.5 823.7 L453.8 824.3 L451.5 821.4 L456.0 819.3 L455.5 818.6 L455.5 818.6 L455.1 817.8 L449.4 817.9 L448.0 814.8 L453.0 813.1 L452.7 812.4 L452.7 812.4 L452.5 811.6 L446.8 811.1 L446.4 807.9 L451.8 806.8 L451.8 806.0 L451.8 806.0 L451.8 805.2 L446.4 804.1 L446.8 800.9 L452.5 800.4 L452.7 799.6 L452.7 799.6 L453.0 798.9 L448.0 797.2 L449.4 794.1 L455.1 794.2 L455.5 793.4 L455.5 793.4 L456.0 792.7 L451.5 790.6 L453.8 787.7 L459.5 788.3 L460.1 787.6 L460.1 787.6 L460.8 787.0 L457.0 784.4 L460.1 781.8 L465.5 783.0 L466.3 782.4 L466.3 782.4 L467.2 781.8 L464.2 778.9 L468.0 776.6 L473.0 778.4 L473.9 777.9 L473.9 777.9 L475.0 777.4 L472.9 774.2 L477.3 772.3 L481.7 774.6 L482.8 774.2 L482.8 774.2 L483.9 773.8 L482.8 770.5 L487.8 769.1 L491.4 771.7 L492.6 771.5 L492.6 771.5 L493.8 771.2 L493.7 767.8 L499.0 767.0 L501.8 770.0 L503.0 769.8 L503.0 769.8 L504.3 769.7 L505.2 766.3 L510.6 766.0 L512.5 769.3 L513.8 769.3 L513.8 769.3 L515.1 769.3 L517.0 766.0 L522.4 766.3 L523.3 769.7 L524.6 769.8 L524.6 769.8 L525.8 770.0 L528.6 767.0 L533.9 767.8 L533.8 771.2 L535.0 771.5 L535.0 771.5 L536.2 771.7 L539.8 769.1 L544.8 770.5 L543.7 773.8 L544.8 774.2 L544.8 774.2 L545.9 774.6 L550.3 772.3 L554.7 774.2 L552.6 777.4 L553.7 777.9 L553.7 777.9 L554.6 778.4 L559.6 776.6 L563.4 778.9 L560.4 781.8 L561.3 782.4 L561.3 782.4 L562.1 783.0 L567.5 781.8 L570.6 784.4 L566.8 787.0 L567.5 787.6 L567.5 787.6 L568.1 788.3 L573.8 787.7 L576.1 790.6 L571.6 792.7 L572.1 793.4 L572.1 793.4 L572.5 794.2 L578.2 794.1 L579.6 797.2 L574.6 798.9 L574.9 799.6 L574.9 799.6 L575.1 800.4 L580.8 800.9 L581.2 804.1 L575.8 805.2 L575.8 806.0Z" fill="#f3f4f4" stroke="#151515" stroke-width="1.3" stroke-linejoin="round"/>
<ellipse cx="513.4" cy="807.9" rx="49.4" ry="24" fill="#7db8dc" stroke="#151515" stroke-width="1.3"/>
<path d="M557.9 765.0 L557.9 765.8 L563.3 767.0 L562.8 770.4 L557.1 770.9 L556.9 771.7 L556.9 771.7 L556.6 772.5 L561.6 774.3 L560.0 777.6 L554.2 777.5 L553.7 778.3 L553.7 778.3 L553.2 779.0 L557.6 781.3 L555.1 784.3 L549.4 783.6 L548.7 784.3 L548.7 784.3 L548.0 785.0 L551.5 787.7 L548.1 790.4 L542.8 789.1 L541.8 789.7 L541.8 789.7 L540.9 790.3 L543.6 793.4 L539.4 795.7 L534.5 793.8 L533.5 794.3 L533.5 794.3 L532.4 794.8 L534.1 798.1 L529.2 799.9 L525.0 797.5 L523.8 797.9 L523.8 797.9 L522.6 798.2 L523.2 801.7 L517.9 802.9 L514.5 800.1 L513.2 800.3 L513.2 800.3 L511.9 800.5 L511.5 804.0 L505.9 804.6 L503.4 801.5 L502.1 801.6 L502.1 801.6 L500.7 801.6 L499.2 805.0 L493.6 805.0 L492.1 801.6 L490.7 801.6 L490.7 801.6 L489.4 801.5 L486.9 804.6 L481.3 804.0 L480.9 800.5 L479.6 800.3 L479.6 800.3 L478.3 800.1 L474.9 802.9 L469.6 801.7 L470.2 798.2 L469.0 797.9 L469.0 797.9 L467.8 797.5 L463.6 799.9 L458.7 798.1 L460.4 794.8 L459.3 794.3 L459.3 794.3 L458.3 793.8 L453.4 795.7 L449.2 793.4 L451.9 790.3 L451.0 789.7 L451.0 789.7 L450.0 789.1 L444.7 790.4 L441.3 787.7 L444.8 785.0 L444.1 784.3 L444.1 784.3 L443.4 783.6 L437.7 784.3 L435.2 781.3 L439.6 779.0 L439.1 778.3 L439.1 778.3 L438.6 777.5 L432.8 777.6 L431.2 774.3 L436.2 772.5 L435.9 771.7 L435.9 771.7 L435.7 770.9 L430.0 770.4 L429.5 767.0 L434.9 765.8 L434.9 765.0 L434.9 765.0 L434.9 764.2 L429.5 763.0 L430.0 759.6 L435.7 759.1 L435.9 758.3 L435.9 758.3 L436.2 757.5 L431.2 755.7 L432.8 752.4 L438.6 752.5 L439.1 751.7 L439.1 751.7 L439.6 751.0 L435.2 748.7 L437.7 745.7 L443.4 746.4 L444.1 745.7 L444.1 745.7 L444.8 745.0 L441.3 742.3 L444.7 739.6 L450.0 740.9 L451.0 740.3 L451.0 740.3 L451.9 739.7 L449.2 736.6 L453.4 734.3 L458.3 736.2 L459.3 735.7 L459.3 735.7 L460.4 735.2 L458.7 731.9 L463.6 730.1 L467.8 732.5 L469.0 732.1 L469.0 732.1 L470.2 731.8 L469.6 728.3 L474.9 727.1 L478.3 729.9 L479.6 729.7 L479.6 729.7 L480.9 729.5 L481.3 726.0 L486.9 725.4 L489.4 728.5 L490.7 728.4 L490.7 728.4 L492.1 728.4 L493.6 725.0 L499.2 725.0 L500.7 728.4 L502.1 728.4 L502.1 728.4 L503.4 728.5 L505.9 725.4 L511.5 726.0 L511.9 729.5 L513.2 729.7 L513.2 729.7 L514.5 729.9 L517.9 727.1 L523.2 728.3 L522.6 731.8 L523.8 732.1 L523.8 732.1 L525.0 732.5 L529.2 730.1 L534.1 731.9 L532.4 735.2 L533.5 735.7 L533.5 735.7 L534.5 736.2 L539.4 734.3 L543.6 736.6 L540.9 739.7 L541.8 740.3 L541.8 740.3 L542.8 740.9 L548.1 739.6 L551.5 742.3 L548.0 745.0 L548.7 745.7 L548.7 745.7 L549.4 746.4 L555.1 745.7 L557.6 748.7 L553.2 751.0 L553.7 751.7 L553.7 751.7 L554.2 752.5 L560.0 752.4 L561.6 755.7 L556.6 757.5 L556.9 758.3 L556.9 758.3 L557.1 759.1 L562.8 759.6 L563.3 763.0 L557.9 764.2 L557.9 765.0Z" fill="#f3f4f4" stroke="#151515" stroke-width="1.3" stroke-linejoin="round"/>
<path d="M557.9 754.0 L557.9 754.8 L557.9 765.8 L557.9 765.0ZM557.9 754.8 L563.3 756.0 L563.3 767.0 L557.9 765.8ZM563.3 756.0 L562.8 759.4 L562.8 770.4 L563.3 767.0ZM562.8 759.4 L557.1 759.9 L557.1 770.9 L562.8 770.4ZM557.1 759.9 L556.9 760.7 L556.9 771.7 L557.1 770.9ZM556.9 760.7 L556.9 760.7 L556.9 771.7 L556.9 771.7ZM556.9 760.7 L556.6 761.5 L556.6 772.5 L556.9 771.7ZM556.6 761.5 L561.6 763.3 L561.6 774.3 L556.6 772.5ZM561.6 763.3 L560.0 766.6 L560.0 777.6 L561.6 774.3ZM560.0 766.6 L554.2 766.5 L554.2 777.5 L560.0 777.6ZM554.2 766.5 L553.7 767.3 L553.7 778.3 L554.2 777.5ZM553.7 767.3 L553.7 767.3 L553.7 778.3 L553.7 778.3ZM553.7 767.3 L553.2 768.0 L553.2 779.0 L553.7 778.3ZM553.2 768.0 L557.6 770.3 L557.6 781.3 L553.2 779.0ZM557.6 770.3 L555.1 773.3 L555.1 784.3 L557.6 781.3ZM555.1 773.3 L549.4 772.6 L549.4 783.6 L555.1 784.3ZM549.4 772.6 L548.7 773.3 L548.7 784.3 L549.4 783.6ZM548.7 773.3 L548.7 773.3 L548.7 784.3 L548.7 784.3ZM548.7 773.3 L548.0 774.0 L548.0 785.0 L548.7 784.3ZM548.0 774.0 L551.5 776.7 L551.5 787.7 L548.0 785.0ZM551.5 776.7 L548.1 779.4 L548.1 790.4 L551.5 787.7ZM548.1 779.4 L542.8 778.1 L542.8 789.1 L548.1 790.4ZM542.8 778.1 L541.8 778.7 L541.8 789.7 L542.8 789.1ZM541.8 778.7 L541.8 778.7 L541.8 789.7 L541.8 789.7ZM541.8 778.7 L540.9 779.3 L540.9 790.3 L541.8 789.7ZM540.9 779.3 L543.6 782.4 L543.6 793.4 L540.9 790.3ZM543.6 782.4 L539.4 784.7 L539.4 795.7 L543.6 793.4ZM539.4 784.7 L534.5 782.8 L534.5 793.8 L539.4 795.7ZM534.5 782.8 L533.5 783.3 L533.5 794.3 L534.5 793.8ZM533.5 783.3 L533.5 783.3 L533.5 794.3 L533.5 794.3ZM533.5 783.3 L532.4 783.8 L532.4 794.8 L533.5 794.3ZM532.4 783.8 L534.1 787.1 L534.1 798.1 L532.4 794.8ZM534.1 787.1 L529.2 788.9 L529.2 799.9 L534.1 798.1ZM529.2 788.9 L525.0 786.5 L525.0 797.5 L529.2 799.9ZM525.0 786.5 L523.8 786.9 L523.8 797.9 L525.0 797.5ZM523.8 786.9 L523.8 786.9 L523.8 797.9 L523.8 797.9ZM523.8 786.9 L522.6 787.2 L522.6 798.2 L523.8 797.9ZM522.6 787.2 L523.2 790.7 L523.2 801.7 L522.6 798.2ZM523.2 790.7 L517.9 791.9 L517.9 802.9 L523.2 801.7ZM517.9 791.9 L514.5 789.1 L514.5 800.1 L517.9 802.9ZM514.5 789.1 L513.2 789.3 L513.2 800.3 L514.5 800.1ZM513.2 789.3 L513.2 789.3 L513.2 800.3 L513.2 800.3ZM513.2 789.3 L511.9 789.5 L511.9 800.5 L513.2 800.3ZM511.9 789.5 L511.5 793.0 L511.5 804.0 L511.9 800.5ZM511.5 793.0 L505.9 793.6 L505.9 804.6 L511.5 804.0ZM505.9 793.6 L503.4 790.5 L503.4 801.5 L505.9 804.6ZM503.4 790.5 L502.1 790.6 L502.1 801.6 L503.4 801.5ZM502.1 790.6 L502.1 790.6 L502.1 801.6 L502.1 801.6ZM502.1 790.6 L500.7 790.6 L500.7 801.6 L502.1 801.6ZM500.7 790.6 L499.2 794.0 L499.2 805.0 L500.7 801.6ZM499.2 794.0 L493.6 794.0 L493.6 805.0 L499.2 805.0ZM493.6 794.0 L492.1 790.6 L492.1 801.6 L493.6 805.0ZM492.1 790.6 L490.7 790.6 L490.7 801.6 L492.1 801.6ZM490.7 790.6 L490.7 790.6 L490.7 801.6 L490.7 801.6ZM490.7 790.6 L489.4 790.5 L489.4 801.5 L490.7 801.6ZM489.4 790.5 L486.9 793.6 L486.9 804.6 L489.4 801.5ZM486.9 793.6 L481.3 793.0 L481.3 804.0 L486.9 804.6ZM481.3 793.0 L480.9 789.5 L480.9 800.5 L481.3 804.0ZM480.9 789.5 L479.6 789.3 L479.6 800.3 L480.9 800.5ZM479.6 789.3 L479.6 789.3 L479.6 800.3 L479.6 800.3ZM479.6 789.3 L478.3 789.1 L478.3 800.1 L479.6 800.3ZM478.3 789.1 L474.9 791.9 L474.9 802.9 L478.3 800.1ZM474.9 791.9 L469.6 790.7 L469.6 801.7 L474.9 802.9ZM469.6 790.7 L470.2 787.2 L470.2 798.2 L469.6 801.7ZM470.2 787.2 L469.0 786.9 L469.0 797.9 L470.2 798.2ZM469.0 786.9 L469.0 786.9 L469.0 797.9 L469.0 797.9ZM469.0 786.9 L467.8 786.5 L467.8 797.5 L469.0 797.9ZM467.8 786.5 L463.6 788.9 L463.6 799.9 L467.8 797.5ZM463.6 788.9 L458.7 787.1 L458.7 798.1 L463.6 799.9ZM458.7 787.1 L460.4 783.8 L460.4 794.8 L458.7 798.1ZM460.4 783.8 L459.3 783.3 L459.3 794.3 L460.4 794.8ZM459.3 783.3 L459.3 783.3 L459.3 794.3 L459.3 794.3ZM459.3 783.3 L458.3 782.8 L458.3 793.8 L459.3 794.3ZM458.3 782.8 L453.4 784.7 L453.4 795.7 L458.3 793.8ZM453.4 784.7 L449.2 782.4 L449.2 793.4 L453.4 795.7ZM449.2 782.4 L451.9 779.3 L451.9 790.3 L449.2 793.4ZM451.9 779.3 L451.0 778.7 L451.0 789.7 L451.9 790.3ZM451.0 778.7 L451.0 778.7 L451.0 789.7 L451.0 789.7ZM451.0 778.7 L450.0 778.1 L450.0 789.1 L451.0 789.7ZM450.0 778.1 L444.7 779.4 L444.7 790.4 L450.0 789.1ZM444.7 779.4 L441.3 776.7 L441.3 787.7 L444.7 790.4ZM441.3 776.7 L444.8 774.0 L444.8 785.0 L441.3 787.7ZM444.8 774.0 L444.1 773.3 L444.1 784.3 L444.8 785.0ZM444.1 773.3 L444.1 773.3 L444.1 784.3 L444.1 784.3ZM444.1 773.3 L443.4 772.6 L443.4 783.6 L444.1 784.3ZM443.4 772.6 L437.7 773.3 L437.7 784.3 L443.4 783.6ZM437.7 773.3 L435.2 770.3 L435.2 781.3 L437.7 784.3ZM435.2 770.3 L439.6 768.0 L439.6 779.0 L435.2 781.3ZM439.6 768.0 L439.1 767.3 L439.1 778.3 L439.6 779.0ZM439.1 767.3 L439.1 767.3 L439.1 778.3 L439.1 778.3ZM439.1 767.3 L438.6 766.5 L438.6 777.5 L439.1 778.3ZM438.6 766.5 L432.8 766.6 L432.8 777.6 L438.6 777.5ZM432.8 766.6 L431.2 763.3 L431.2 774.3 L432.8 777.6ZM431.2 763.3 L436.2 761.5 L436.2 772.5 L431.2 774.3ZM436.2 761.5 L435.9 760.7 L435.9 771.7 L436.2 772.5ZM435.9 760.7 L435.9 760.7 L435.9 771.7 L435.9 771.7ZM435.9 760.7 L435.7 759.9 L435.7 770.9 L435.9 771.7ZM435.7 759.9 L430.0 759.4 L430.0 770.4 L435.7 770.9ZM430.0 759.4 L429.5 756.0 L429.5 767.0 L430.0 770.4ZM429.5 756.0 L434.9 754.8 L434.9 765.8 L429.5 767.0ZM434.9 754.8 L434.9 754.0 L434.9 765.0 L434.9 765.8ZM434.9 754.0 L434.9 754.0 L434.9 765.0 L434.9 765.0ZM434.9 754.0 L434.9 753.2 L434.9 764.2 L434.9 765.0ZM434.9 753.2 L429.5 752.0 L429.5 763.0 L434.9 764.2ZM429.5 752.0 L430.0 748.6 L430.0 759.6 L429.5 763.0ZM430.0 748.6 L435.7 748.1 L435.7 759.1 L430.0 759.6ZM435.7 748.1 L435.9 747.3 L435.9 758.3 L435.7 759.1ZM435.9 747.3 L435.9 747.3 L435.9 758.3 L435.9 758.3ZM435.9 747.3 L436.2 746.5 L436.2 757.5 L435.9 758.3ZM436.2 746.5 L431.2 744.7 L431.2 755.7 L436.2 757.5ZM431.2 744.7 L432.8 741.4 L432.8 752.4 L431.2 755.7ZM432.8 741.4 L438.6 741.5 L438.6 752.5 L432.8 752.4ZM438.6 741.5 L439.1 740.7 L439.1 751.7 L438.6 752.5ZM439.1 740.7 L439.1 740.7 L439.1 751.7 L439.1 751.7ZM439.1 740.7 L439.6 740.0 L439.6 751.0 L439.1 751.7ZM439.6 740.0 L435.2 737.7 L435.2 748.7 L439.6 751.0ZM435.2 737.7 L437.7 734.7 L437.7 745.7 L435.2 748.7ZM437.7 734.7 L443.4 735.4 L443.4 746.4 L437.7 745.7ZM443.4 735.4 L444.1 734.7 L444.1 745.7 L443.4 746.4ZM444.1 734.7 L444.1 734.7 L444.1 745.7 L444.1 745.7ZM444.1 734.7 L444.8 734.0 L444.8 745.0 L444.1 745.7ZM444.8 734.0 L441.3 731.3 L441.3 742.3 L444.8 745.0ZM441.3 731.3 L444.7 728.6 L444.7 739.6 L441.3 742.3ZM444.7 728.6 L450.0 729.9 L450.0 740.9 L444.7 739.6ZM450.0 729.9 L451.0 729.3 L451.0 740.3 L450.0 740.9ZM451.0 729.3 L451.0 729.3 L451.0 740.3 L451.0 740.3ZM451.0 729.3 L451.9 728.7 L451.9 739.7 L451.0 740.3ZM451.9 728.7 L449.2 725.6 L449.2 736.6 L451.9 739.7ZM449.2 725.6 L453.4 723.3 L453.4 734.3 L449.2 736.6ZM453.4 723.3 L458.3 725.2 L458.3 736.2 L453.4 734.3ZM458.3 725.2 L459.3 724.7 L459.3 735.7 L458.3 736.2ZM459.3 724.7 L459.3 724.7 L459.3 735.7 L459.3 735.7ZM459.3 724.7 L460.4 724.2 L460.4 735.2 L459.3 735.7ZM460.4 724.2 L458.7 720.9 L458.7 731.9 L460.4 735.2ZM458.7 720.9 L463.6 719.1 L463.6 730.1 L458.7 731.9ZM463.6 719.1 L467.8 721.5 L467.8 732.5 L463.6 730.1ZM467.8 721.5 L469.0 721.1 L469.0 732.1 L467.8 732.5ZM469.0 721.1 L469.0 721.1 L469.0 732.1 L469.0 732.1ZM469.0 721.1 L470.2 720.8 L470.2 731.8 L469.0 732.1ZM470.2 720.8 L469.6 717.3 L469.6 728.3 L470.2 731.8ZM469.6 717.3 L474.9 716.1 L474.9 727.1 L469.6 728.3ZM474.9 716.1 L478.3 718.9 L478.3 729.9 L474.9 727.1ZM478.3 718.9 L479.6 718.7 L479.6 729.7 L478.3 729.9ZM479.6 718.7 L479.6 718.7 L479.6 729.7 L479.6 729.7ZM479.6 718.7 L480.9 718.5 L480.9 729.5 L479.6 729.7ZM480.9 718.5 L481.3 715.0 L481.3 726.0 L480.9 729.5ZM481.3 715.0 L486.9 714.4 L486.9 725.4 L481.3 726.0ZM486.9 714.4 L489.4 717.5 L489.4 728.5 L486.9 725.4ZM489.4 717.5 L490.7 717.4 L490.7 728.4 L489.4 728.5ZM490.7 717.4 L490.7 717.4 L490.7 728.4 L490.7 728.4ZM490.7 717.4 L492.1 717.4 L492.1 728.4 L490.7 728.4ZM492.1 717.4 L493.6 714.0 L493.6 725.0 L492.1 728.4ZM493.6 714.0 L499.2 714.0 L499.2 725.0 L493.6 725.0ZM499.2 714.0 L500.7 717.4 L500.7 728.4 L499.2 725.0ZM500.7 717.4 L502.1 717.4 L502.1 728.4 L500.7 728.4ZM502.1 717.4 L502.1 717.4 L502.1 728.4 L502.1 728.4ZM502.1 717.4 L503.4 717.5 L503.4 728.5 L502.1 728.4ZM503.4 717.5 L505.9 714.4 L505.9 725.4 L503.4 728.5ZM505.9 714.4 L511.5 715.0 L511.5 726.0 L505.9 725.4ZM511.5 715.0 L511.9 718.5 L511.9 729.5 L511.5 726.0ZM511.9 718.5 L513.2 718.7 L513.2 729.7 L511.9 729.5ZM513.2 718.7 L513.2 718.7 L513.2 729.7 L513.2 729.7ZM513.2 718.7 L514.5 718.9 L514.5 729.9 L513.2 729.7ZM514.5 718.9 L517.9 716.1 L517.9 727.1 L514.5 729.9ZM517.9 716.1 L523.2 717.3 L523.2 728.3 L517.9 727.1ZM523.2 717.3 L522.6 720.8 L522.6 731.8 L523.2 728.3ZM522.6 720.8 L523.8 721.1 L523.8 732.1 L522.6 731.8ZM523.8 721.1 L523.8 721.1 L523.8 732.1 L523.8 732.1ZM523.8 721.1 L525.0 721.5 L525.0 732.5 L523.8 732.1ZM525.0 721.5 L529.2 719.1 L529.2 730.1 L525.0 732.5ZM529.2 719.1 L534.1 720.9 L534.1 731.9 L529.2 730.1ZM534.1 720.9 L532.4 724.2 L532.4 735.2 L534.1 731.9ZM532.4 724.2 L533.5 724.7 L533.5 735.7 L532.4 735.2ZM533.5 724.7 L533.5 724.7 L533.5 735.7 L533.5 735.7ZM533.5 724.7 L534.5 725.2 L534.5 736.2 L533.5 735.7ZM534.5 725.2 L539.4 723.3 L539.4 734.3 L534.5 736.2ZM539.4 723.3 L543.6 725.6 L543.6 736.6 L539.4 734.3ZM543.6 725.6 L540.9 728.7 L540.9 739.7 L543.6 736.6ZM540.9 728.7 L541.8 729.3 L541.8 740.3 L540.9 739.7ZM541.8 729.3 L541.8 729.3 L541.8 740.3 L541.8 740.3ZM541.8 729.3 L542.8 729.9 L542.8 740.9 L541.8 740.3ZM542.8 729.9 L548.1 728.6 L548.1 739.6 L542.8 740.9ZM548.1 728.6 L551.5 731.3 L551.5 742.3 L548.1 739.6ZM551.5 731.3 L548.0 734.0 L548.0 745.0 L551.5 742.3ZM548.0 734.0 L548.7 734.7 L548.7 745.7 L548.0 745.0ZM548.7 734.7 L548.7 734.7 L548.7 745.7 L548.7 745.7ZM548.7 734.7 L549.4 735.4 L549.4 746.4 L548.7 745.7ZM549.4 735.4 L555.1 734.7 L555.1 745.7 L549.4 746.4ZM555.1 734.7 L557.6 737.7 L557.6 748.7 L555.1 745.7ZM557.6 737.7 L553.2 740.0 L553.2 751.0 L557.6 748.7ZM553.2 740.0 L553.7 740.7 L553.7 751.7 L553.2 751.0ZM553.7 740.7 L553.7 740.7 L553.7 751.7 L553.7 751.7ZM553.7 740.7 L554.2 741.5 L554.2 752.5 L553.7 751.7ZM554.2 741.5 L560.0 741.4 L560.0 752.4 L554.2 752.5ZM560.0 741.4 L561.6 744.7 L561.6 755.7 L560.0 752.4ZM561.6 744.7 L556.6 746.5 L556.6 757.5 L561.6 755.7ZM556.6 746.5 L556.9 747.3 L556.9 758.3 L556.6 757.5ZM556.9 747.3 L556.9 747.3 L556.9 758.3 L556.9 758.3ZM556.9 747.3 L557.1 748.1 L557.1 759.1 L556.9 758.3ZM557.1 748.1 L562.8 748.6 L562.8 759.6 L557.1 759.1ZM562.8 748.6 L563.3 752.0 L563.3 763.0 L562.8 759.6ZM563.3 752.0 L557.9 753.2 L557.9 764.2 L563.3 763.0ZM557.9 753.2 L557.9 754.0 L557.9 765.0 L557.9 764.2ZM557.9 754.0 L557.9 754.0 L557.9 765.0 L557.9 765.0Z" fill="#f3f4f4" stroke="none"/>
<path d="M469.6 790.7 V801.7M463.6 788.9 V799.9M458.7 787.1 V798.1M453.4 784.7 V795.7M449.2 782.4 V793.4M444.7 779.4 V790.4M441.3 776.7 V787.7M437.7 773.3 V784.3M435.2 770.3 V781.3M432.8 766.6 V777.6M431.2 763.3 V774.3M430.0 759.4 V770.4M429.5 756.0 V767.0M429.5 752.0 V763.0M430.0 748.6 V759.6" fill="none" stroke="#151515" stroke-width="1.1"/>
<path d="M557.9 754.0 L557.9 754.8 L563.3 756.0 L562.8 759.4 L557.1 759.9 L556.9 760.7 L556.9 760.7 L556.6 761.5 L561.6 763.3 L560.0 766.6 L554.2 766.5 L553.7 767.3 L553.7 767.3 L553.2 768.0 L557.6 770.3 L555.1 773.3 L549.4 772.6 L548.7 773.3 L548.7 773.3 L548.0 774.0 L551.5 776.7 L548.1 779.4 L542.8 778.1 L541.8 778.7 L541.8 778.7 L540.9 779.3 L543.6 782.4 L539.4 784.7 L534.5 782.8 L533.5 783.3 L533.5 783.3 L532.4 783.8 L534.1 787.1 L529.2 788.9 L525.0 786.5 L523.8 786.9 L523.8 786.9 L522.6 787.2 L523.2 790.7 L517.9 791.9 L514.5 789.1 L513.2 789.3 L513.2 789.3 L511.9 789.5 L511.5 793.0 L505.9 793.6 L503.4 790.5 L502.1 790.6 L502.1 790.6 L500.7 790.6 L499.2 794.0 L493.6 794.0 L492.1 790.6 L490.7 790.6 L490.7 790.6 L489.4 790.5 L486.9 793.6 L481.3 793.0 L480.9 789.5 L479.6 789.3 L479.6 789.3 L478.3 789.1 L474.9 791.9 L469.6 790.7 L470.2 787.2 L469.0 786.9 L469.0 786.9 L467.8 786.5 L463.6 788.9 L458.7 787.1 L460.4 783.8 L459.3 783.3 L459.3 783.3 L458.3 782.8 L453.4 784.7 L449.2 782.4 L451.9 779.3 L451.0 778.7 L451.0 778.7 L450.0 778.1 L444.7 779.4 L441.3 776.7 L444.8 774.0 L444.1 773.3 L444.1 773.3 L443.4 772.6 L437.7 773.3 L435.2 770.3 L439.6 768.0 L439.1 767.3 L439.1 767.3 L438.6 766.5 L432.8 766.6 L431.2 763.3 L436.2 761.5 L435.9 760.7 L435.9 760.7 L435.7 759.9 L430.0 759.4 L429.5 756.0 L434.9 754.8 L434.9 754.0 L434.9 754.0 L434.9 753.2 L429.5 752.0 L430.0 748.6 L435.7 748.1 L435.9 747.3 L435.9 747.3 L436.2 746.5 L431.2 744.7 L432.8 741.4 L438.6 741.5 L439.1 740.7 L439.1 740.7 L439.6 740.0 L435.2 737.7 L437.7 734.7 L443.4 735.4 L444.1 734.7 L444.1 734.7 L444.8 734.0 L441.3 731.3 L444.7 728.6 L450.0 729.9 L451.0 729.3 L451.0 729.3 L451.9 728.7 L449.2 725.6 L453.4 723.3 L458.3 725.2 L459.3 724.7 L459.3 724.7 L460.4 724.2 L458.7 720.9 L463.6 719.1 L467.8 721.5 L469.0 721.1 L469.0 721.1 L470.2 720.8 L469.6 717.3 L474.9 716.1 L478.3 718.9 L479.6 718.7 L479.6 718.7 L480.9 718.5 L481.3 715.0 L486.9 714.4 L489.4 717.5 L490.7 717.4 L490.7 717.4 L492.1 717.4 L493.6 714.0 L499.2 714.0 L500.7 717.4 L502.1 717.4 L502.1 717.4 L503.4 717.5 L505.9 714.4 L511.5 715.0 L511.9 718.5 L513.2 718.7 L513.2 718.7 L514.5 718.9 L517.9 716.1 L523.2 717.3 L522.6 720.8 L523.8 721.1 L523.8 721.1 L525.0 721.5 L529.2 719.1 L534.1 720.9 L532.4 724.2 L533.5 724.7 L533.5 724.7 L534.5 725.2 L539.4 723.3 L543.6 725.6 L540.9 728.7 L541.8 729.3 L541.8 729.3 L542.8 729.9 L548.1 728.6 L551.5 731.3 L548.0 734.0 L548.7 734.7 L548.7 734.7 L549.4 735.4 L555.1 734.7 L557.6 737.7 L553.2 740.0 L553.7 740.7 L553.7 740.7 L554.2 741.5 L560.0 741.4 L561.6 744.7 L556.6 746.5 L556.9 747.3 L556.9 747.3 L557.1 748.1 L562.8 748.6 L563.3 752.0 L557.9 753.2 L557.9 754.0Z" fill="#f3f4f4" stroke="#151515" stroke-width="1.3" stroke-linejoin="round"/>
<ellipse cx="496.4" cy="750.5" rx="50" ry="26" fill="#f0f1f1" stroke="#151515" stroke-width="1.3"/>
<path d="M478 818 Q500 830 530 826 Q548 822 556 812 L548 806 Q520 820 490 812 Z" fill="#78b4da" stroke="none"/>
<path d="M471.5 761.4 L508 743.2 L538.7 756.4 L540 804 L503 825 L472.3 808 Z" fill="#f3f4f4" stroke="#151515" stroke-width="1.4" stroke-linejoin="round"/>
<path d="M471.5 761.4 L501.3 774.7 L538.7 756.4 M501.3 774.7 V823 M504.5 773.5 V824" fill="none" stroke="#151515" stroke-width="1.2"/>
<path d="M537.9 812.5 L537.0 812.8 L537.1 817.4 L532.6 817.9 L531.0 813.5 L530.0 813.4 L530.0 813.4 L529.0 813.2 L527.2 817.2 L522.8 815.6 L523.1 811.1 L522.2 810.5 L522.2 810.5 L521.4 810.0 L518.0 812.6 L514.5 809.1 L516.7 805.4 L516.1 804.5 L516.1 804.5 L515.5 803.6 L511.3 804.3 L509.4 799.7 L513.0 797.5 L512.8 796.5 L512.8 796.5 L512.6 795.5 L508.3 794.1 L508.5 789.3 L512.8 789.1 L513.0 788.1 L513.0 788.1 L513.3 787.1 L509.8 784.0 L511.9 779.9 L516.1 781.7 L516.7 780.9 L516.7 780.9 L517.4 780.2 L515.4 776.0 L519.0 773.4 L522.3 776.8 L523.1 776.5 L523.1 776.5 L524.0 776.2 L523.9 771.6 L528.4 771.1 L530.0 775.5 L531.0 775.6 L531.0 775.6 L532.0 775.8 L533.8 771.8 L538.2 773.4 L537.9 777.9 L538.8 778.5 L538.8 778.5 L539.6 779.0 L543.0 776.4 L546.5 779.9 L544.3 783.6 L544.9 784.5 L544.9 784.5 L545.5 785.4 L549.7 784.7 L551.6 789.3 L548.0 791.5 L548.2 792.5 L548.2 792.5 L548.4 793.5 L552.7 794.9 L552.5 799.7 L548.2 799.9 L548.0 800.9 L548.0 800.9 L547.7 801.9 L551.2 805.0 L549.1 809.1 L544.9 807.3 L544.3 808.1 L544.3 808.1 L543.6 808.8 L545.6 813.0 L542.0 815.6 L538.7 812.2 L537.9 812.5Z" fill="#f3f4f4" stroke="#151515" stroke-width="1.3" stroke-linejoin="round"/>
<path d="M550.9 818.5 L550.0 818.8 L537.0 812.8 L537.9 812.5ZM550.0 818.8 L550.1 823.4 L537.1 817.4 L537.0 812.8ZM550.1 823.4 L545.6 823.9 L532.6 817.9 L537.1 817.4ZM545.6 823.9 L544.0 819.5 L531.0 813.5 L532.6 817.9ZM544.0 819.5 L543.0 819.4 L530.0 813.4 L531.0 813.5ZM543.0 819.4 L543.0 819.4 L530.0 813.4 L530.0 813.4ZM543.0 819.4 L542.0 819.2 L529.0 813.2 L530.0 813.4ZM542.0 819.2 L540.2 823.2 L527.2 817.2 L529.0 813.2ZM540.2 823.2 L535.8 821.6 L522.8 815.6 L527.2 817.2ZM535.8 821.6 L536.1 817.1 L523.1 811.1 L522.8 815.6ZM536.1 817.1 L535.2 816.5 L522.2 810.5 L523.1 811.1ZM535.2 816.5 L535.2 816.5 L522.2 810.5 L522.2 810.5ZM535.2 816.5 L534.4 816.0 L521.4 810.0 L522.2 810.5ZM534.4 816.0 L531.0 818.6 L518.0 812.6 L521.4 810.0ZM531.0 818.6 L527.5 815.1 L514.5 809.1 L518.0 812.6ZM527.5 815.1 L529.7 811.4 L516.7 805.4 L514.5 809.1ZM529.7 811.4 L529.1 810.5 L516.1 804.5 L516.7 805.4ZM529.1 810.5 L529.1 810.5 L516.1 804.5 L516.1 804.5ZM529.1 810.5 L528.5 809.6 L515.5 803.6 L516.1 804.5ZM528.5 809.6 L524.3 810.3 L511.3 804.3 L515.5 803.6ZM524.3 810.3 L522.4 805.7 L509.4 799.7 L511.3 804.3ZM522.4 805.7 L526.0 803.5 L513.0 797.5 L509.4 799.7ZM526.0 803.5 L525.8 802.5 L512.8 796.5 L513.0 797.5ZM525.8 802.5 L525.8 802.5 L512.8 796.5 L512.8 796.5ZM525.8 802.5 L525.6 801.5 L512.6 795.5 L512.8 796.5ZM525.6 801.5 L521.3 800.1 L508.3 794.1 L512.6 795.5ZM521.3 800.1 L521.5 795.3 L508.5 789.3 L508.3 794.1ZM521.5 795.3 L525.8 795.1 L512.8 789.1 L508.5 789.3ZM525.8 795.1 L526.0 794.1 L513.0 788.1 L512.8 789.1ZM526.0 794.1 L526.0 794.1 L513.0 788.1 L513.0 788.1ZM526.0 794.1 L526.3 793.1 L513.3 787.1 L513.0 788.1ZM526.3 793.1 L522.8 790.0 L509.8 784.0 L513.3 787.1ZM522.8 790.0 L524.9 785.9 L511.9 779.9 L509.8 784.0ZM524.9 785.9 L529.1 787.7 L516.1 781.7 L511.9 779.9ZM529.1 787.7 L529.7 786.9 L516.7 780.9 L516.1 781.7ZM529.7 786.9 L529.7 786.9 L516.7 780.9 L516.7 780.9ZM529.7 786.9 L530.4 786.2 L517.4 780.2 L516.7 780.9ZM530.4 786.2 L528.4 782.0 L515.4 776.0 L517.4 780.2ZM528.4 782.0 L532.0 779.4 L519.0 773.4 L515.4 776.0ZM532.0 779.4 L535.3 782.8 L522.3 776.8 L519.0 773.4ZM535.3 782.8 L536.1 782.5 L523.1 776.5 L522.3 776.8ZM536.1 782.5 L536.1 782.5 L523.1 776.5 L523.1 776.5ZM536.1 782.5 L537.0 782.2 L524.0 776.2 L523.1 776.5ZM537.0 782.2 L536.9 777.6 L523.9 771.6 L524.0 776.2ZM536.9 777.6 L541.4 777.1 L528.4 771.1 L523.9 771.6ZM541.4 777.1 L543.0 781.5 L530.0 775.5 L528.4 771.1ZM543.0 781.5 L544.0 781.6 L531.0 775.6 L530.0 775.5ZM544.0 781.6 L544.0 781.6 L531.0 775.6 L531.0 775.6ZM544.0 781.6 L545.0 781.8 L532.0 775.8 L531.0 775.6ZM545.0 781.8 L546.8 777.8 L533.8 771.8 L532.0 775.8ZM546.8 777.8 L551.2 779.4 L538.2 773.4 L533.8 771.8ZM551.2 779.4 L550.9 783.9 L537.9 777.9 L538.2 773.4ZM550.9 783.9 L551.8 784.5 L538.8 778.5 L537.9 777.9ZM551.8 784.5 L551.8 784.5 L538.8 778.5 L538.8 778.5ZM551.8 784.5 L552.6 785.0 L539.6 779.0 L538.8 778.5ZM552.6 785.0 L556.0 782.4 L543.0 776.4 L539.6 779.0ZM556.0 782.4 L559.5 785.9 L546.5 779.9 L543.0 776.4ZM559.5 785.9 L557.3 789.6 L544.3 783.6 L546.5 779.9ZM557.3 789.6 L557.9 790.5 L544.9 784.5 L544.3 783.6ZM557.9 790.5 L557.9 790.5 L544.9 784.5 L544.9 784.5ZM557.9 790.5 L558.5 791.4 L545.5 785.4 L544.9 784.5ZM558.5 791.4 L562.7 790.7 L549.7 784.7 L545.5 785.4ZM562.7 790.7 L564.6 795.3 L551.6 789.3 L549.7 784.7ZM564.6 795.3 L561.0 797.5 L548.0 791.5 L551.6 789.3ZM561.0 797.5 L561.2 798.5 L548.2 792.5 L548.0 791.5ZM561.2 798.5 L561.2 798.5 L548.2 792.5 L548.2 792.5ZM561.2 798.5 L561.4 799.5 L548.4 793.5 L548.2 792.5ZM561.4 799.5 L565.7 800.9 L552.7 794.9 L548.4 793.5ZM565.7 800.9 L565.5 805.7 L552.5 799.7 L552.7 794.9ZM565.5 805.7 L561.2 805.9 L548.2 799.9 L552.5 799.7ZM561.2 805.9 L561.0 806.9 L548.0 800.9 L548.2 799.9ZM561.0 806.9 L561.0 806.9 L548.0 800.9 L548.0 800.9ZM561.0 806.9 L560.7 807.9 L547.7 801.9 L548.0 800.9ZM560.7 807.9 L564.2 811.0 L551.2 805.0 L547.7 801.9ZM564.2 811.0 L562.1 815.1 L549.1 809.1 L551.2 805.0ZM562.1 815.1 L557.9 813.3 L544.9 807.3 L549.1 809.1ZM557.9 813.3 L557.3 814.1 L544.3 808.1 L544.9 807.3ZM557.3 814.1 L557.3 814.1 L544.3 808.1 L544.3 808.1ZM557.3 814.1 L556.6 814.8 L543.6 808.8 L544.3 808.1ZM556.6 814.8 L558.6 819.0 L545.6 813.0 L543.6 808.8ZM558.6 819.0 L555.0 821.6 L542.0 815.6 L545.6 813.0ZM555.0 821.6 L551.7 818.2 L538.7 812.2 L542.0 815.6ZM551.7 818.2 L550.9 818.5 L537.9 812.5 L538.7 812.2ZM550.9 818.5 L550.9 818.5 L537.9 812.5 L537.9 812.5Z" fill="#f3f4f4" stroke="none"/>
<path d="M521.3 800.1 L508.3 794.1M521.5 795.3 L508.5 789.3M522.8 790.0 L509.8 784.0M524.9 785.9 L511.9 779.9M528.4 782.0 L515.4 776.0M532.0 779.4 L519.0 773.4M536.9 777.6 L523.9 771.6M541.4 777.1 L528.4 771.1M546.8 777.8 L533.8 771.8" fill="none" stroke="#151515" stroke-width="1.10"/>
<path d="M550.9 818.5 L550.0 818.8 L550.1 823.4 L545.6 823.9 L544.0 819.5 L543.0 819.4 L543.0 819.4 L542.0 819.2 L540.2 823.2 L535.8 821.6 L536.1 817.1 L535.2 816.5 L535.2 816.5 L534.4 816.0 L531.0 818.6 L527.5 815.1 L529.7 811.4 L529.1 810.5 L529.1 810.5 L528.5 809.6 L524.3 810.3 L522.4 805.7 L526.0 803.5 L525.8 802.5 L525.8 802.5 L525.6 801.5 L521.3 800.1 L521.5 795.3 L525.8 795.1 L526.0 794.1 L526.0 794.1 L526.3 793.1 L522.8 790.0 L524.9 785.9 L529.1 787.7 L529.7 786.9 L529.7 786.9 L530.4 786.2 L528.4 782.0 L532.0 779.4 L535.3 782.8 L536.1 782.5 L536.1 782.5 L537.0 782.2 L536.9 777.6 L541.4 777.1 L543.0 781.5 L544.0 781.6 L544.0 781.6 L545.0 781.8 L546.8 777.8 L551.2 779.4 L550.9 783.9 L551.8 784.5 L551.8 784.5 L552.6 785.0 L556.0 782.4 L559.5 785.9 L557.3 789.6 L557.9 790.5 L557.9 790.5 L558.5 791.4 L562.7 790.7 L564.6 795.3 L561.0 797.5 L561.2 798.5 L561.2 798.5 L561.4 799.5 L565.7 800.9 L565.5 805.7 L561.2 805.9 L561.0 806.9 L561.0 806.9 L560.7 807.9 L564.2 811.0 L562.1 815.1 L557.9 813.3 L557.3 814.1 L557.3 814.1 L556.6 814.8 L558.6 819.0 L555.0 821.6 L551.7 818.2 L550.9 818.5Z" fill="#f3f4f4" stroke="#151515" stroke-width="1.3" stroke-linejoin="round"/>
<path d="M526 818 Q524 792 540 784 Q552 778 560 786 L562 808 Z" fill="#f3f4f4" stroke="#151515" stroke-width="1.2"/>
<ellipse cx="543" cy="801" rx="8" ry="6.5" transform="rotate(-50 543 801)" fill="#f3f4f4" stroke="#151515" stroke-width="1.2"/>
<ellipse cx="543" cy="801" rx="4.5" ry="2.5" transform="rotate(-50 543 801)" fill="none" stroke="#151515" stroke-width="1"/>
<path d="M484.7 750 V758 A16.6 9 0 0 0 517.9 758 V750" fill="#f3f4f4" stroke="#151515" stroke-width="1.3"/>
<ellipse cx="501.3" cy="750" rx="16.6" ry="9.1" fill="#f3f4f4" stroke="#151515" stroke-width="1.3"/>
<ellipse cx="501.3" cy="749" rx="7.5" ry="4.5" fill="#efefed" stroke="#151515" stroke-width="1.1"/>
<ellipse cx="501.3" cy="749" rx="4" ry="2.3" fill="none" stroke="#151515" stroke-width="0.9"/>
<circle cx="488" cy="784.5" r="6" fill="#e6e6e4" stroke="#151515" stroke-width="1.2"/><circle cx="488" cy="784.5" r="3" fill="none" stroke="#151515" stroke-width="0.9"/>
<path d="M448 780 L470 790 L472 806 L450 796 Z" fill="#f3f4f4" stroke="#151515" stroke-width="1.2"/>
<path d="M503 731 V737" stroke="#151515" stroke-width="1.3"/>
<path d="M570 162 L544.7 185.6" stroke="#151515" stroke-width="1.5" fill="none"/>
<path d="M544.7 185.6 L548.2 176.2 L552.3 178.5 L554.4 182.8Z" fill="#151515"/>
<path d="M672.4 271 L644.3 300" stroke="#151515" stroke-width="1.5" fill="none"/>
<path d="M644.3 300.0 L647.3 290.4 L651.5 292.6 L653.8 296.7Z" fill="#151515"/>
<path d="M581.6 509 L545.6 509" stroke="#151515" stroke-width="1.5" fill="none"/>
<path d="M545.6 509.0 L554.6 504.5 L556.0 509.0 L554.6 513.5Z" fill="#151515"/>
<path d="M676.7 733 L650 730.5" stroke="#151515" stroke-width="1.5" fill="none"/>
<path d="M650.0 730.5 L659.4 726.9 L660.3 731.5 L658.5 735.8Z" fill="#151515"/>
<path d="M404.5 871.8 L442.6 827.8" stroke="#151515" stroke-width="1.5" fill="none"/>
<path d="M442.6 827.8 L440.1 837.5 L435.8 835.6 L433.3 831.7Z" fill="#151515"/>
<path d="M618 895.7 L573.7 848.8" stroke="#151515" stroke-width="1.5" fill="none"/>
<path d="M573.7 848.8 L583.2 852.3 L580.8 856.3 L576.6 858.4Z" fill="#151515"/>
<path d="M440.7 514.7 Q426 492 436 473.7 Q441 465 447 462" stroke="#151515" stroke-width="1.5" fill="none"/>
<path d="M451.0 460.5 L445.0 468.5 L441.7 465.1 L440.9 460.5Z" fill="#151515"/>
<path d="M539.2 454.3 Q553 461 556 470 Q558 476 557.8 480" stroke="#151515" stroke-width="1.5" fill="none"/>
<path d="M557.6 486.0 L553.3 476.9 L557.9 475.7 L562.3 477.1Z" fill="#151515"/>
<text x="575.2" y="150.5" font-family="Liberation Sans, sans-serif" font-size="14.5" fill="#111" stroke="#111" stroke-width="0.35" textLength="85.5" lengthAdjust="spacingAndGlyphs">TENSIONING</text>
<text x="576.3" y="166.9" font-family="Liberation Sans, sans-serif" font-size="14.5" fill="#111" stroke="#111" stroke-width="0.35" textLength="44.6" lengthAdjust="spacingAndGlyphs">GEARS</text>
<text x="678.3" y="264.8" font-family="Liberation Sans, sans-serif" font-size="14.5" fill="#111" stroke="#111" stroke-width="0.35" textLength="69.1" lengthAdjust="spacingAndGlyphs">BARBLESS</text>
<text x="677.8" y="281.7" font-family="Liberation Sans, sans-serif" font-size="14.5" fill="#111" stroke="#111" stroke-width="0.35" textLength="83.7" lengthAdjust="spacingAndGlyphs">WIRE SPOOL</text>
<text x="590.2" y="506" font-family="Liberation Sans, sans-serif" font-size="14.5" fill="#111" stroke="#111" stroke-width="0.35" textLength="67.1" lengthAdjust="spacingAndGlyphs">INTERNAL</text>
<text x="591" y="522.3" font-family="Liberation Sans, sans-serif" font-size="14.5" fill="#111" stroke="#111" stroke-width="0.35" textLength="67" lengthAdjust="spacingAndGlyphs">RATCHTET</text>
<text x="584" y="539" font-family="Liberation Sans, sans-serif" font-size="14.5" fill="#111" stroke="#111" stroke-width="0.35" textLength="81.2" lengthAdjust="spacingAndGlyphs">MECHANISM</text>
<text x="683" y="734.7" font-family="Liberation Sans, sans-serif" font-size="14.5" fill="#111" stroke="#111" stroke-width="0.35" textLength="91.4" lengthAdjust="spacingAndGlyphs">FENCE PANEL</text>
<text x="683" y="751.6" font-family="Liberation Sans, sans-serif" font-size="14.5" fill="#111" stroke="#111" stroke-width="0.35" textLength="86.7" lengthAdjust="spacingAndGlyphs">CONNECTOR</text>
<text x="274.6" y="887.8" font-family="Liberation Sans, sans-serif" font-size="14.5" fill="#111" stroke="#111" stroke-width="0.35" textLength="125" lengthAdjust="spacingAndGlyphs">GROUND ANCHOR</text>
<text x="284.4" y="904.4" font-family="Liberation Sans, sans-serif" font-size="14.5" fill="#111" stroke="#111" stroke-width="0.35" textLength="121.1" lengthAdjust="spacingAndGlyphs">WITH GEAR DRIVE</text>
<text x="618" y="916.6" font-family="Liberation Sans, sans-serif" font-size="14.5" fill="#111" stroke="#111" stroke-width="0.35" textLength="109" lengthAdjust="spacingAndGlyphs">GROBLESS CERE</text>

</svg>
</body></html>
